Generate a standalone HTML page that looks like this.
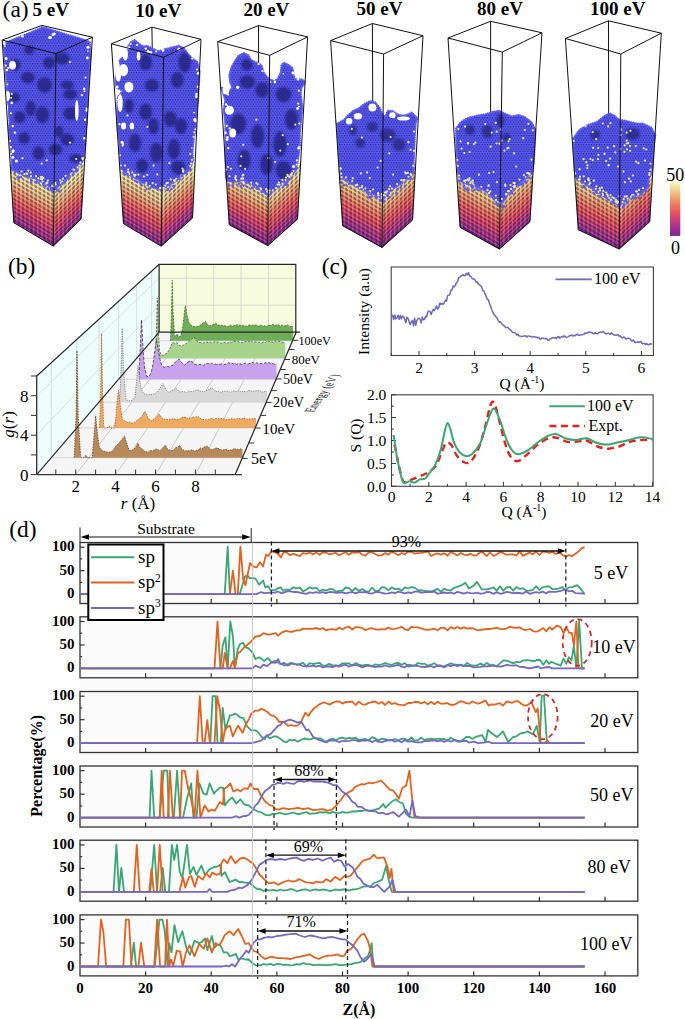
<!DOCTYPE html>
<html><head><meta charset="utf-8"><style>
html,body{margin:0;padding:0;background:#fff;overflow:hidden;width:685px;height:1019px;}
svg{display:block;}
text{font-family:"Liberation Serif",serif;fill:#000;}
.bl{font-weight:bold;font-size:14px;}
.r{font-size:15px;}
</style></head><body>
<svg width="685" height="1019" viewBox="0 0 685 1019">
<rect x="391.2" y="267.0" width="262.2" height="88.5" fill="none" stroke="#444" stroke-width="1.1"/>
<line x1="419.0" y1="355.5" x2="419.0" y2="351.0" stroke="#333" stroke-width="1"/>
<text x="419.0" y="372.6" class="r" text-anchor="middle" style="font-size:15.5px">2</text>
<line x1="474.6" y1="355.5" x2="474.6" y2="351.0" stroke="#333" stroke-width="1"/>
<text x="474.6" y="372.6" class="r" text-anchor="middle" style="font-size:15.5px">3</text>
<line x1="530.2" y1="355.5" x2="530.2" y2="351.0" stroke="#333" stroke-width="1"/>
<text x="530.2" y="372.6" class="r" text-anchor="middle" style="font-size:15.5px">4</text>
<line x1="585.8" y1="355.5" x2="585.8" y2="351.0" stroke="#333" stroke-width="1"/>
<text x="585.8" y="372.6" class="r" text-anchor="middle" style="font-size:15.5px">5</text>
<line x1="641.4" y1="355.5" x2="641.4" y2="351.0" stroke="#333" stroke-width="1"/>
<text x="641.4" y="372.6" class="r" text-anchor="middle" style="font-size:15.5px">6</text>
<line x1="391.2" y1="355.5" x2="391.2" y2="353.0" stroke="#333" stroke-width="1"/>
<line x1="446.8" y1="355.5" x2="446.8" y2="353.0" stroke="#333" stroke-width="1"/>
<line x1="502.4" y1="355.5" x2="502.4" y2="353.0" stroke="#333" stroke-width="1"/>
<line x1="558.0" y1="355.5" x2="558.0" y2="353.0" stroke="#333" stroke-width="1"/>
<line x1="613.6" y1="355.5" x2="613.6" y2="353.0" stroke="#333" stroke-width="1"/>
<polyline points="391.5,316.5 392.6,315.2 393.7,319.6 394.8,314.9 395.9,318.9 397.0,317.7 398.1,315.3 399.2,319.2 400.3,315.4 401.4,318.9 402.5,316.0 403.6,316.4 404.7,319.4 405.8,322.9 406.9,317.2 408.0,318.2 409.1,321.8 410.2,324.7 411.3,321.8 412.4,320.6 413.5,325.7 414.6,318.2 415.7,325.2 416.8,320.7 417.9,318.9 419.0,318.2 420.1,319.2 421.2,322.9 422.3,317.0 423.4,319.7 424.5,319.3 425.6,316.2 426.7,316.9 427.8,312.0 428.9,311.1 430.0,311.5 431.1,314.6 432.2,311.4 433.3,309.4 434.4,310.6 435.5,308.4 436.6,306.0 437.7,309.2 438.8,307.5 439.9,302.9 441.0,304.5 442.1,303.5 443.2,304.2 444.3,302.7 445.4,300.0 446.5,301.2 447.6,295.6 448.7,295.1 449.8,294.8 450.9,290.3 452.0,290.0 453.1,286.1 454.2,286.9 455.3,285.4 456.4,282.7 457.5,282.1 458.6,277.7 459.7,277.4 460.8,276.3 461.9,275.7 463.0,274.6 464.1,275.7 465.2,275.6 466.3,273.4 467.4,274.8 468.5,272.6 469.6,276.0 470.7,276.3 471.8,278.2 472.9,279.0 474.0,278.9 475.1,280.2 476.2,282.0 477.3,281.8 478.4,284.1 479.5,284.7 480.6,285.9 481.7,287.0 482.8,290.4 483.9,291.2 485.0,293.6 486.1,296.1 487.2,299.3 488.3,299.8 489.4,303.1 490.5,305.9 491.6,309.2 492.7,311.7 493.8,314.4 494.9,315.2 496.0,316.9 497.1,318.1 498.2,320.6 499.3,322.2 500.4,321.8 501.5,323.2 502.6,324.7 503.7,325.4 504.8,326.6 505.9,327.5 507.0,327.5 508.1,327.6 509.2,329.2 510.3,329.7 511.4,330.8 512.5,332.4 513.6,332.4 514.7,332.7 515.8,333.5 516.9,335.2 518.0,334.1 519.1,336.1 520.2,336.1 521.3,336.5 522.4,336.6 523.5,335.9 524.6,336.1 525.7,335.7 526.8,337.1 527.9,336.0 529.0,336.1 530.1,336.6 531.2,336.6 532.3,337.1 533.4,336.6 534.5,336.7 535.6,337.1 536.7,337.2 537.8,337.9 538.9,337.3 540.0,339.2 541.1,338.8 542.2,337.9 543.3,338.2 544.4,338.5 545.5,338.7 546.6,338.3 547.7,340.0 548.8,340.3 549.9,339.0 551.0,338.8 552.1,337.8 553.2,337.6 554.3,338.0 555.4,337.6 556.5,338.6 557.6,337.0 558.7,336.5 559.8,338.3 560.9,337.3 562.0,336.3 563.1,337.0 564.2,335.7 565.3,336.7 566.4,337.5 567.5,337.1 568.6,336.6 569.7,335.5 570.8,335.6 571.9,335.0 573.0,336.1 574.1,335.4 575.2,335.7 576.3,334.6 577.4,334.1 578.5,335.2 579.6,335.4 580.7,334.9 581.8,334.7 582.9,334.6 584.0,334.3 585.1,333.0 586.2,333.5 587.3,333.0 588.4,332.2 589.5,332.0 590.6,332.5 591.7,332.3 592.8,333.2 593.9,333.7 595.0,332.6 596.1,333.6 597.2,333.7 598.3,333.6 599.4,332.3 600.5,331.9 601.6,331.9 602.7,331.8 603.8,332.0 604.9,333.1 606.0,333.8 607.1,333.8 608.2,333.2 609.3,333.7 610.4,334.2 611.5,332.7 612.6,334.1 613.7,334.9 614.8,335.0 615.9,335.3 617.0,335.0 618.1,334.7 619.2,336.4 620.3,335.8 621.4,337.2 622.5,337.9 623.6,337.0 624.7,337.4 625.8,339.0 626.9,338.9 628.0,338.1 629.1,338.4 630.2,338.9 631.3,340.9 632.4,341.1 633.5,340.1 634.6,342.0 635.7,342.6 636.8,342.1 637.9,341.7 639.0,342.3 640.1,341.6 641.2,341.6 642.3,343.9 643.4,343.4 644.5,343.4 645.6,344.5 646.7,343.6 647.8,344.8 648.9,344.8 650.0,343.7 651.1,343.9 652.2,344.2" fill="none" stroke="#6e68bf" stroke-width="1.5" stroke-linejoin="round"/>
<line x1="555.4" y1="279.3" x2="591.8" y2="279.3" stroke="#6e68bf" stroke-width="1.8"/>
<text x="594" y="283.8" class="r" style="font-size:16px">100 eV</text>
<text x="522" y="388.5" class="r" text-anchor="middle" style="font-size:15.5px">Q (Å<tspan dy="-6" style="font-size:10px">-1</tspan><tspan dy="6">)</tspan></text>
<text transform="translate(369.3,311.5) rotate(-90)" class="r" text-anchor="middle" style="font-size:15.5px">Intensity (a.u)</text>
<text x="321.7" y="273.6" class="r" style="font-size:23.4px">(c)</text>
<rect x="391.5" y="394.8" width="261.6" height="91.5" fill="none" stroke="#444" stroke-width="1.1"/>
<line x1="391.5" y1="486.3" x2="391.5" y2="481.8" stroke="#333" stroke-width="1"/>
<text x="391.5" y="502.4" class="r" text-anchor="middle" style="font-size:15.5px">0</text>
<line x1="428.8" y1="486.3" x2="428.8" y2="481.8" stroke="#333" stroke-width="1"/>
<text x="428.8" y="502.4" class="r" text-anchor="middle" style="font-size:15.5px">2</text>
<line x1="466.1" y1="486.3" x2="466.1" y2="481.8" stroke="#333" stroke-width="1"/>
<text x="466.1" y="502.4" class="r" text-anchor="middle" style="font-size:15.5px">4</text>
<line x1="503.4" y1="486.3" x2="503.4" y2="481.8" stroke="#333" stroke-width="1"/>
<text x="503.4" y="502.4" class="r" text-anchor="middle" style="font-size:15.5px">6</text>
<line x1="540.7" y1="486.3" x2="540.7" y2="481.8" stroke="#333" stroke-width="1"/>
<text x="540.7" y="502.4" class="r" text-anchor="middle" style="font-size:15.5px">8</text>
<line x1="578.0" y1="486.3" x2="578.0" y2="481.8" stroke="#333" stroke-width="1"/>
<text x="578.0" y="502.4" class="r" text-anchor="middle" style="font-size:15.5px">10</text>
<line x1="615.3" y1="486.3" x2="615.3" y2="481.8" stroke="#333" stroke-width="1"/>
<text x="615.3" y="502.4" class="r" text-anchor="middle" style="font-size:15.5px">12</text>
<line x1="652.6" y1="486.3" x2="652.6" y2="481.8" stroke="#333" stroke-width="1"/>
<text x="652.6" y="502.4" class="r" text-anchor="middle" style="font-size:15.5px">14</text>
<line x1="410.1" y1="486.3" x2="410.1" y2="483.8" stroke="#333" stroke-width="1"/>
<line x1="447.4" y1="486.3" x2="447.4" y2="483.8" stroke="#333" stroke-width="1"/>
<line x1="484.8" y1="486.3" x2="484.8" y2="483.8" stroke="#333" stroke-width="1"/>
<line x1="522.0" y1="486.3" x2="522.0" y2="483.8" stroke="#333" stroke-width="1"/>
<line x1="559.4" y1="486.3" x2="559.4" y2="483.8" stroke="#333" stroke-width="1"/>
<line x1="596.6" y1="486.3" x2="596.6" y2="483.8" stroke="#333" stroke-width="1"/>
<line x1="634.0" y1="486.3" x2="634.0" y2="483.8" stroke="#333" stroke-width="1"/>
<line x1="391.5" y1="486.3" x2="396.0" y2="486.3" stroke="#333" stroke-width="1"/>
<text x="386.3" y="491.5" class="r" text-anchor="end" style="font-size:15.5px">0.0</text>
<line x1="391.5" y1="463.4" x2="396.0" y2="463.4" stroke="#333" stroke-width="1"/>
<text x="386.3" y="468.6" class="r" text-anchor="end" style="font-size:15.5px">0.5</text>
<line x1="391.5" y1="440.5" x2="396.0" y2="440.5" stroke="#333" stroke-width="1"/>
<text x="386.3" y="445.7" class="r" text-anchor="end" style="font-size:15.5px">1.0</text>
<line x1="391.5" y1="417.6" x2="396.0" y2="417.6" stroke="#333" stroke-width="1"/>
<text x="386.3" y="422.8" class="r" text-anchor="end" style="font-size:15.5px">1.5</text>
<line x1="391.5" y1="394.7" x2="396.0" y2="394.7" stroke="#333" stroke-width="1"/>
<text x="386.3" y="399.9" class="r" text-anchor="end" style="font-size:15.5px">2.0</text>
<line x1="391.5" y1="474.9" x2="394.0" y2="474.9" stroke="#333" stroke-width="1"/>
<line x1="391.5" y1="452.0" x2="394.0" y2="452.0" stroke="#333" stroke-width="1"/>
<line x1="391.5" y1="429.1" x2="394.0" y2="429.1" stroke="#333" stroke-width="1"/>
<line x1="391.5" y1="406.2" x2="394.0" y2="406.2" stroke="#333" stroke-width="1"/>
<path d="M394.5,444.2 C395.2,447.7 397.4,459.1 398.8,465.2 C400.2,471.3 401.5,478.1 402.9,480.8 C404.2,483.6 405.3,481.9 406.8,481.7 C408.3,481.5 409.8,480.3 412.0,479.4 C414.2,478.5 417.2,477.4 419.8,476.2 C422.5,475.1 425.0,474.2 427.7,472.6 C430.3,470.9 433.3,469.7 435.7,466.1 C438.1,462.6 440.5,454.9 442.2,451.0 C444.0,447.1 444.6,443.8 446.1,442.8 C447.7,441.8 449.6,442.9 451.4,445.1 C453.1,447.2 454.6,452.7 456.8,455.6 C459.0,458.5 462.2,461.6 464.6,462.5 C467.0,463.4 468.7,463.7 471.1,461.1 C473.6,458.5 476.7,453.0 479.2,446.9 C481.6,440.8 483.7,431.6 485.7,424.5 C487.6,417.3 489.4,407.2 490.9,403.9 C492.4,400.5 493.3,400.9 494.8,404.3 C496.4,407.8 498.5,417.8 500.2,424.5 C502.0,431.2 503.7,439.2 505.5,444.6 C507.2,450.0 508.8,454.2 510.9,457.0 C512.9,459.7 515.0,461.6 517.8,461.1 C520.5,460.7 523.9,457.0 527.3,454.2 C530.6,451.5 534.3,447.3 537.9,444.6 C541.5,442.0 545.5,439.4 548.7,438.2 C551.9,437.1 553.8,437.1 556.9,437.8 C560.1,438.4 564.1,441.3 567.7,441.9 C571.3,442.5 575.4,441.6 578.6,441.4 C581.7,441.2 583.4,439.7 586.6,440.5 C589.7,441.3 593.8,445.1 597.4,446.5 C601.0,447.8 604.6,448.7 608.2,448.7 C611.8,448.7 615.4,447.6 619.0,446.5 C622.6,445.3 626.2,442.9 629.8,441.9 C633.5,440.8 636.9,440.3 640.7,440.0 C644.5,439.7 650.6,440.0 652.6,440.0" fill="none" stroke="#e42222" stroke-width="2.4" stroke-dasharray="7,4.5"/>
<path d="M393.6,435.0 C394.2,439.1 396.1,452.6 397.5,459.7 C398.8,466.9 400.5,474.2 401.6,478.1 C402.7,481.9 402.9,482.6 404.2,483.1 C405.5,483.6 407.7,481.3 409.4,481.3 C411.1,481.2 412.9,482.9 414.6,482.6 C416.4,482.3 418.1,480.1 419.8,479.4 C421.6,478.7 423.3,479.8 425.1,478.5 C426.8,477.2 428.7,474.1 430.5,471.6 C432.3,469.2 434.0,467.6 435.7,463.9 C437.4,460.1 439.4,454.7 440.9,449.2 C442.4,443.7 443.8,435.2 444.8,430.9 C445.9,426.5 446.5,423.5 447.4,423.1 C448.4,422.7 449.1,425.3 450.2,428.6 C451.4,431.9 452.6,438.9 454.2,442.8 C455.7,446.7 457.4,449.7 459.4,452.0 C461.3,454.2 463.7,455.8 465.9,456.1 C468.1,456.4 470.0,456.0 472.4,453.8 C474.9,451.6 478.0,447.9 480.5,442.8 C482.9,437.7 484.8,428.8 487.0,423.1 C489.2,417.4 491.3,408.8 493.5,408.4 C495.7,408.1 498.2,416.1 500.2,420.8 C502.2,425.5 503.7,432.2 505.5,436.8 C507.2,441.5 508.8,445.8 510.9,448.7 C512.9,451.6 515.0,453.9 517.8,454.2 C520.5,454.5 523.9,452.6 527.3,450.6 C530.6,448.6 534.8,444.6 537.9,442.3 C541.0,440.0 543.2,438.2 546.1,436.8 C549.1,435.5 552.5,433.9 555.6,434.1 C558.8,434.3 561.6,437.2 564.9,438.2 C568.3,439.2 572.2,440.0 575.8,440.0 C579.4,440.0 583.2,437.8 586.6,438.2 C590.0,438.7 592.9,441.7 596.1,442.8 C599.3,443.9 602.2,444.6 605.6,444.6 C609.0,444.6 612.8,443.5 616.4,442.8 C620.0,442.1 623.2,441.4 627.2,440.5 C631.3,439.6 636.4,437.5 640.7,437.3 C644.9,437.1 650.6,438.8 652.6,439.1" fill="none" stroke="#3aa673" stroke-width="2"/>
<line x1="549.4" y1="406.2" x2="585" y2="406.2" stroke="#3aa673" stroke-width="2"/>
<text x="587" y="411.3" class="r" style="font-size:16px">100 eV</text>
<line x1="549.4" y1="426" x2="585" y2="426" stroke="#e42222" stroke-width="2.4" stroke-dasharray="7,4.5"/>
<text x="588.5" y="431.3" class="r" style="font-size:16px">Expt.</text>
<text x="524" y="516.5" class="r" text-anchor="middle" style="font-size:15.5px">Q (Å<tspan dy="-6" style="font-size:10px">-1</tspan><tspan dy="6">)</tspan></text>
<text transform="translate(360.5,435.5) rotate(-90)" class="r" text-anchor="middle" style="font-size:15.5px">S (Q)</text>
<rect x="80.0" y="542.5" width="172.6" height="433.4" fill="#fbfbfb"/>
<rect x="80.0" y="542.5" width="557.8" height="61.0" fill="none" stroke="#333" stroke-width="1.3"/>
<line x1="145.6" y1="603.5" x2="145.6" y2="599.0" stroke="#333" stroke-width="1.2"/>
<line x1="211.2" y1="603.5" x2="211.2" y2="599.0" stroke="#333" stroke-width="1.2"/>
<line x1="276.9" y1="603.5" x2="276.9" y2="599.0" stroke="#333" stroke-width="1.2"/>
<line x1="342.5" y1="603.5" x2="342.5" y2="599.0" stroke="#333" stroke-width="1.2"/>
<line x1="408.1" y1="603.5" x2="408.1" y2="599.0" stroke="#333" stroke-width="1.2"/>
<line x1="473.7" y1="603.5" x2="473.7" y2="599.0" stroke="#333" stroke-width="1.2"/>
<line x1="539.4" y1="603.5" x2="539.4" y2="599.0" stroke="#333" stroke-width="1.2"/>
<line x1="605.0" y1="603.5" x2="605.0" y2="599.0" stroke="#333" stroke-width="1.2"/>
<line x1="80.0" y1="594.1" x2="84.5" y2="594.1" stroke="#333" stroke-width="1.2"/>
<line x1="80.0" y1="582.4" x2="82.2" y2="582.4" stroke="#333" stroke-width="1.2"/>
<line x1="80.0" y1="570.7" x2="84.5" y2="570.7" stroke="#333" stroke-width="1.2"/>
<line x1="80.0" y1="558.9" x2="82.2" y2="558.9" stroke="#333" stroke-width="1.2"/>
<line x1="80.0" y1="547.2" x2="84.5" y2="547.2" stroke="#333" stroke-width="1.2"/>
<text x="74.6" y="551.2" class="bl" text-anchor="end" style="font-size:15px">100</text>
<text x="74.6" y="574.7" class="bl" text-anchor="end" style="font-size:15px">50</text>
<text x="74.6" y="598.1" class="bl" text-anchor="end" style="font-size:15px">0</text>
<polyline points="80.0,594.1 224.7,594.1 227.7,546.7 229.9,594.1 239.8,594.1 245.0,576.3 247.3,575.3 249.6,578.2 252.6,578.0 255.5,578.6 259.2,584.7 263.1,580.5 265.4,587.5 268.3,586.1 270.6,590.4 275.6,589.9 278.2,588.0 280.8,587.5 283.1,590.8 286.6,589.5 290.0,589.9 293.3,587.3 296.6,588.3 299.8,587.4 303.1,591.6 306.4,589.6 309.7,587.3 313.0,588.7 316.2,587.5 319.5,591.2 322.8,589.6 326.1,590.6 329.4,589.2 332.7,589.1 335.9,591.7 339.2,590.8 342.5,590.5 345.8,587.5 349.1,588.2 352.3,591.0 355.6,588.0 358.9,591.1 362.2,588.9 365.5,591.2 368.7,591.8 372.0,587.7 375.3,590.8 378.6,590.8 381.9,587.2 385.1,587.7 388.4,590.4 391.7,587.3 395.0,589.2 398.3,588.6 401.6,590.8 404.8,587.4 408.1,588.5 411.4,587.2 414.7,587.6 418.0,590.4 421.2,590.1 424.5,591.0 427.8,591.1 431.1,591.5 434.4,590.4 437.6,588.9 440.9,591.8 444.2,588.6 447.5,590.2 450.8,590.3 454.1,587.9 457.3,586.9 460.6,585.7 465.5,582.9 468.8,588.5 473.7,585.7 477.0,581.9 481.9,589.4 486.9,589.3 490.1,588.6 493.4,587.5 496.7,590.6 500.0,586.3 503.3,590.7 506.6,587.3 509.8,586.9 513.1,590.7 516.4,587.1 519.7,589.1 523.0,588.1 526.2,590.8 529.5,590.6 532.8,590.0 536.1,586.3 539.4,589.9 542.6,587.3 545.9,586.5 549.2,586.4 552.5,589.2 555.8,589.2 559.1,588.4 562.3,587.2 565.6,590.3 568.9,587.3 572.2,587.1 577.1,585.2 580.4,588.5 584.6,594.1" fill="none" stroke="#3aa673" stroke-width="1.8" stroke-linejoin="round"/>
<polyline points="80.0,594.1 229.9,594.1 232.9,570.7 235.5,594.1 237.8,594.1 240.4,546.7 243.1,578.6 245.4,585.2 250.0,563.1 252.9,566.4 256.5,567.4 260.1,562.2 263.1,566.4 266.0,554.7 268.3,556.1 271.3,551.4 275.6,552.4 278.2,554.1 280.8,557.5 283.8,551.9 286.9,552.6 290.0,555.2 293.3,553.8 296.6,554.9 299.8,556.1 303.1,553.0 306.4,553.9 309.7,552.5 313.0,554.4 316.2,552.5 319.5,554.8 322.8,552.3 326.1,552.7 329.4,554.2 332.7,553.6 335.9,552.9 339.2,555.2 342.5,553.5 345.8,552.3 349.1,554.9 352.3,552.3 355.6,552.9 358.9,552.1 362.2,554.5 365.5,555.7 368.7,552.4 372.0,552.3 375.3,554.0 378.6,555.7 381.9,555.2 385.1,553.1 388.4,554.7 391.7,551.6 395.0,553.3 398.3,555.2 401.6,553.0 404.8,554.4 408.1,551.7 411.4,551.8 414.7,553.7 418.0,553.1 421.2,552.8 424.5,552.3 427.8,551.5 431.1,556.0 434.4,554.4 437.6,553.3 440.9,554.7 444.2,553.3 447.5,555.7 450.8,552.0 454.1,553.6 457.3,555.6 460.6,553.0 463.9,554.6 467.2,555.2 470.5,553.8 473.7,555.5 477.0,555.1 480.3,552.0 483.6,552.8 486.9,556.0 490.1,552.5 493.4,556.0 496.7,554.5 500.0,551.9 503.3,553.2 506.6,554.7 509.8,554.3 513.1,554.3 516.4,555.5 519.7,551.4 523.0,555.9 526.2,554.1 529.5,552.6 532.8,554.2 536.1,551.5 539.4,555.0 542.6,551.5 545.9,551.9 549.2,553.0 552.5,551.9 555.8,554.0 559.1,552.2 562.3,554.7 565.6,556.6 568.9,555.2 572.2,556.1 575.5,553.8 578.7,551.4 581.7,548.4 584.6,547.2" fill="none" stroke="#e4611e" stroke-width="1.8" stroke-linejoin="round"/>
<polyline points="80.0,594.1 256.5,594.1 260.5,592.2 264.4,593.2 270.3,592.7 274.9,592.7 277.9,591.5 281.8,593.4 286.7,591.5 290.0,591.1 293.3,592.0 296.6,592.0 299.8,592.7 303.1,593.3 306.4,593.9 309.7,592.3 313.0,592.8 316.2,592.1 319.5,593.0 322.8,592.1 326.1,593.2 329.4,592.0 332.7,592.2 335.9,592.9 339.2,592.6 342.5,592.3 345.8,593.4 349.1,592.6 352.3,592.0 355.6,593.3 358.9,592.0 362.2,592.3 365.5,591.9 368.7,593.1 372.0,593.7 375.3,592.0 378.6,592.0 381.9,592.8 385.1,593.7 388.4,593.4 391.7,592.4 395.0,593.2 398.3,591.6 401.6,592.5 404.8,593.4 408.1,592.3 411.4,593.0 414.7,591.7 418.0,591.7 421.2,592.7 424.5,592.4 427.8,592.2 431.1,592.0 434.4,591.6 437.6,593.8 440.9,593.0 444.2,592.5 447.5,593.2 450.8,592.5 454.1,593.7 457.3,591.8 460.6,592.6 463.9,593.6 467.2,592.3 470.5,593.1 473.7,593.4 477.0,592.7 480.3,593.6 483.6,593.4 486.9,591.9 490.1,592.2 493.4,593.9 496.7,592.1 500.0,593.8 503.3,593.1 506.6,591.8 509.8,592.4 513.1,593.2 516.4,593.0 519.7,593.0 523.0,593.6 526.2,591.5 529.5,593.8 532.8,592.9 536.1,592.1 539.4,592.9 542.6,591.6 545.9,593.3 549.2,591.6 552.5,591.8 555.8,591.8 560.7,590.8 565.6,589.4 568.9,591.3 572.2,590.8 575.5,593.2 584.6,593.6" fill="none" stroke="#7468c4" stroke-width="1.8" stroke-linejoin="round"/>
<rect x="80.0" y="616.8" width="557.8" height="61.0" fill="none" stroke="#333" stroke-width="1.3"/>
<line x1="145.6" y1="677.8" x2="145.6" y2="673.3" stroke="#333" stroke-width="1.2"/>
<line x1="211.2" y1="677.8" x2="211.2" y2="673.3" stroke="#333" stroke-width="1.2"/>
<line x1="276.9" y1="677.8" x2="276.9" y2="673.3" stroke="#333" stroke-width="1.2"/>
<line x1="342.5" y1="677.8" x2="342.5" y2="673.3" stroke="#333" stroke-width="1.2"/>
<line x1="408.1" y1="677.8" x2="408.1" y2="673.3" stroke="#333" stroke-width="1.2"/>
<line x1="473.7" y1="677.8" x2="473.7" y2="673.3" stroke="#333" stroke-width="1.2"/>
<line x1="539.4" y1="677.8" x2="539.4" y2="673.3" stroke="#333" stroke-width="1.2"/>
<line x1="605.0" y1="677.8" x2="605.0" y2="673.3" stroke="#333" stroke-width="1.2"/>
<line x1="80.0" y1="668.4" x2="84.5" y2="668.4" stroke="#333" stroke-width="1.2"/>
<line x1="80.0" y1="656.7" x2="82.2" y2="656.7" stroke="#333" stroke-width="1.2"/>
<line x1="80.0" y1="645.0" x2="84.5" y2="645.0" stroke="#333" stroke-width="1.2"/>
<line x1="80.0" y1="633.2" x2="82.2" y2="633.2" stroke="#333" stroke-width="1.2"/>
<line x1="80.0" y1="621.5" x2="84.5" y2="621.5" stroke="#333" stroke-width="1.2"/>
<text x="74.6" y="625.5" class="bl" text-anchor="end" style="font-size:15px">100</text>
<text x="74.6" y="649.0" class="bl" text-anchor="end" style="font-size:15px">50</text>
<text x="74.6" y="672.4" class="bl" text-anchor="end" style="font-size:15px">0</text>
<polyline points="80.0,668.4 220.4,668.4 222.7,645.4 225.4,637.4 227.7,668.4 230.3,621.5 232.9,636.0 234.9,667.9 237.8,649.2 240.1,644.0 243.1,642.6 245.4,647.3 248.3,648.2 251.9,652.0 255.5,659.0 259.2,657.2 264.1,660.9 268.0,658.1 271.6,662.3 274.6,660.9 277.5,662.3 281.8,664.2 284.7,665.7 287.7,664.2 290.5,663.0 293.3,663.3 296.6,664.8 299.8,664.2 303.1,662.8 306.4,666.5 309.7,663.2 313.0,664.0 316.2,663.3 319.5,662.8 322.8,665.6 326.1,665.3 329.4,663.9 332.7,665.5 335.9,665.6 339.2,665.7 342.5,663.3 345.8,663.3 349.1,663.5 352.3,665.7 355.6,663.1 358.9,664.6 362.2,665.7 365.5,664.8 368.7,665.0 372.0,666.2 375.3,664.4 378.6,665.2 381.9,664.4 385.1,663.0 388.4,664.1 391.7,665.0 395.0,663.3 398.3,662.8 401.6,664.7 404.8,663.0 408.1,666.5 411.4,666.0 414.7,665.9 418.0,663.0 421.2,663.9 424.5,663.8 427.8,665.5 431.1,664.7 434.4,663.2 437.6,666.2 440.9,666.1 444.2,666.4 447.5,664.8 450.8,663.4 454.1,664.5 457.3,665.0 460.6,664.7 463.9,665.9 467.2,663.0 470.5,665.2 473.7,665.7 477.0,665.4 480.3,663.4 483.6,665.3 486.9,663.1 490.1,665.3 493.4,664.9 496.7,666.3 500.0,663.3 503.3,660.3 506.6,660.7 509.8,661.9 513.1,663.3 516.4,661.9 519.7,662.3 523.0,660.6 526.2,660.2 530.2,660.4 534.1,661.4 537.1,659.9 540.0,660.0 543.3,664.7 546.3,660.4 548.9,663.7 551.5,661.8 555.4,663.7 560.7,665.6 563.6,658.6 566.3,663.7 568.9,657.2 571.5,660.4 573.8,645.9 576.4,668.4 579.1,621.0 582.0,668.4 584.6,668.4" fill="none" stroke="#3aa673" stroke-width="1.8" stroke-linejoin="round"/>
<polyline points="80.0,668.4 214.5,668.4 217.5,621.5 220.4,668.4 222.7,668.4 224.7,652.9 227.7,668.4 229.9,668.4 232.9,660.9 234.9,667.9 237.8,652.9 240.1,652.0 242.4,649.2 245.4,646.4 248.3,644.0 250.9,641.7 255.5,636.5 259.8,636.0 263.4,633.2 268.0,634.6 271.6,634.2 275.9,633.2 278.2,635.6 281.8,632.3 286.1,630.9 290.7,631.8 293.4,631.5 296.2,630.4 299.8,630.4 303.1,628.6 306.4,628.8 309.7,628.7 313.0,628.9 316.2,627.9 319.5,629.4 322.8,628.0 326.1,630.4 329.4,629.3 332.7,629.1 335.9,629.9 339.2,627.6 342.5,629.2 345.8,627.4 349.1,626.8 352.3,629.5 355.6,627.1 358.9,627.4 362.2,627.9 365.5,630.3 368.7,628.7 372.0,628.1 375.3,629.3 378.6,629.6 381.9,629.2 385.1,629.4 388.4,627.5 391.7,629.1 395.0,628.8 398.3,628.0 401.6,626.8 404.8,629.3 408.1,630.2 411.4,626.8 414.7,627.3 418.0,627.4 421.2,628.4 424.5,629.5 427.8,629.8 431.1,629.3 434.4,628.7 437.6,630.2 440.9,627.8 444.2,627.7 447.5,630.4 450.8,627.2 454.1,628.6 457.3,627.0 460.6,628.6 463.9,627.4 467.2,628.7 470.5,628.1 473.7,628.5 477.0,630.3 480.3,629.9 483.6,629.5 486.9,628.9 490.1,629.0 493.4,628.4 496.7,627.9 500.0,628.9 503.3,629.2 506.6,628.5 509.8,626.8 513.1,627.5 516.4,627.9 519.7,627.3 523.0,629.6 526.2,630.0 530.2,629.0 532.8,631.0 535.4,631.7 538.1,631.3 543.3,628.1 546.3,631.3 549.5,627.1 552.2,629.5 556.8,625.7 560.7,627.1 563.6,633.2 566.3,627.1 569.2,632.8 571.8,632.8 573.8,645.4 576.4,621.5 578.4,667.0 579.4,668.4 584.6,668.4" fill="none" stroke="#e4611e" stroke-width="1.8" stroke-linejoin="round"/>
<polyline points="80.0,668.4 252.6,668.4 255.5,665.6 260.5,667.9 263.4,664.7 267.0,666.1 271.6,662.3 275.9,662.8 278.2,659.0 280.2,664.2 283.8,662.8 287.7,665.6 292.0,663.3 294.6,664.1 297.2,664.3 299.8,664.7 303.1,666.3 306.4,666.2 309.7,666.3 313.0,665.6 316.2,666.7 319.5,665.7 322.8,667.4 326.1,666.6 329.4,666.5 332.7,667.1 335.9,665.4 339.2,666.6 342.5,665.3 345.8,664.8 349.1,666.8 352.3,665.0 355.6,665.2 358.9,665.6 362.2,667.4 365.5,666.2 368.7,665.7 372.0,666.6 375.3,666.8 378.6,666.6 381.9,666.7 385.1,665.3 388.4,666.5 391.7,666.3 395.0,665.7 398.3,664.8 401.6,666.7 404.8,667.4 408.1,664.7 411.4,665.1 414.7,665.3 418.0,666.0 421.2,666.8 424.5,667.0 427.8,666.6 431.1,666.2 434.4,667.3 437.6,665.5 440.9,665.4 444.2,667.4 447.5,665.1 450.8,666.1 454.1,664.9 457.3,666.1 460.6,665.2 463.9,666.2 467.2,665.8 470.5,666.1 473.7,667.4 477.0,667.1 480.3,666.8 483.6,666.3 486.9,666.4 490.1,666.0 493.4,665.6 496.7,666.4 500.0,666.6 503.3,666.0 506.6,664.8 509.8,665.3 513.1,665.6 516.4,665.2 519.7,666.8 523.0,667.0 530.2,668.4 538.1,666.5 541.0,668.4 544.3,667.5 549.5,667.0 552.2,668.4 584.6,668.4" fill="none" stroke="#7468c4" stroke-width="1.8" stroke-linejoin="round"/>
<rect x="80.0" y="691.5" width="557.8" height="61.0" fill="none" stroke="#333" stroke-width="1.3"/>
<line x1="145.6" y1="752.5" x2="145.6" y2="748.0" stroke="#333" stroke-width="1.2"/>
<line x1="211.2" y1="752.5" x2="211.2" y2="748.0" stroke="#333" stroke-width="1.2"/>
<line x1="276.9" y1="752.5" x2="276.9" y2="748.0" stroke="#333" stroke-width="1.2"/>
<line x1="342.5" y1="752.5" x2="342.5" y2="748.0" stroke="#333" stroke-width="1.2"/>
<line x1="408.1" y1="752.5" x2="408.1" y2="748.0" stroke="#333" stroke-width="1.2"/>
<line x1="473.7" y1="752.5" x2="473.7" y2="748.0" stroke="#333" stroke-width="1.2"/>
<line x1="539.4" y1="752.5" x2="539.4" y2="748.0" stroke="#333" stroke-width="1.2"/>
<line x1="605.0" y1="752.5" x2="605.0" y2="748.0" stroke="#333" stroke-width="1.2"/>
<line x1="80.0" y1="743.1" x2="84.5" y2="743.1" stroke="#333" stroke-width="1.2"/>
<line x1="80.0" y1="731.4" x2="82.2" y2="731.4" stroke="#333" stroke-width="1.2"/>
<line x1="80.0" y1="719.7" x2="84.5" y2="719.7" stroke="#333" stroke-width="1.2"/>
<line x1="80.0" y1="707.9" x2="82.2" y2="707.9" stroke="#333" stroke-width="1.2"/>
<line x1="80.0" y1="696.2" x2="84.5" y2="696.2" stroke="#333" stroke-width="1.2"/>
<text x="74.6" y="700.2" class="bl" text-anchor="end" style="font-size:15px">100</text>
<text x="74.6" y="723.7" class="bl" text-anchor="end" style="font-size:15px">50</text>
<text x="74.6" y="747.1" class="bl" text-anchor="end" style="font-size:15px">0</text>
<polyline points="80.0,743.1 210.3,743.1 212.6,696.2 215.5,696.2 217.5,743.1 220.8,743.1 222.7,707.9 225.4,729.5 229.9,715.4 232.7,714.9 235.5,713.6 240.1,717.3 243.4,718.2 247.3,726.7 251.3,730.4 255.2,730.4 257.8,731.7 260.5,735.6 264.7,739.4 266.7,735.1 269.7,738.4 273.9,736.5 276.9,736.5 279.8,738.4 284.1,741.7 286.8,742.1 289.6,739.7 292.3,740.3 295.0,739.9 297.8,741.7 300.5,740.3 304.4,738.5 308.4,739.4 311.5,739.2 314.6,737.5 317.7,738.5 320.8,738.4 324.8,741.7 327.4,740.8 330.0,739.4 332.7,738.6 335.9,740.3 339.2,738.2 342.5,737.6 345.8,738.8 349.1,737.8 352.3,738.4 355.6,737.7 358.9,740.1 362.2,739.4 365.5,739.0 368.7,740.4 372.0,737.1 375.3,738.4 378.6,740.4 381.9,738.6 385.1,739.2 388.4,740.1 391.7,740.2 395.0,739.0 398.3,740.5 401.6,738.7 404.8,738.8 408.1,740.3 411.4,737.5 414.7,740.6 418.0,740.1 421.2,737.7 424.5,739.9 427.8,739.2 431.1,738.7 434.4,739.1 437.6,738.9 440.9,738.9 444.2,739.0 447.5,740.6 450.8,737.7 454.1,739.7 457.3,740.6 460.0,741.7 463.1,739.6 466.2,737.0 469.3,737.0 472.4,738.9 475.4,737.1 478.3,736.1 482.3,735.1 485.6,742.2 487.9,730.0 490.5,732.2 493.1,734.2 497.0,737.0 500.0,734.3 502.9,731.4 508.2,742.2 513.1,737.0 516.2,736.4 519.3,734.2 522.1,732.9 524.8,732.8 527.6,731.4 532.8,734.2 536.7,725.8 539.7,742.2 541.7,695.7 544.0,695.7 546.9,743.1 584.6,743.1" fill="none" stroke="#3aa673" stroke-width="1.8" stroke-linejoin="round"/>
<polyline points="80.0,743.1 197.1,743.1 199.8,696.2 202.7,743.1 204.7,743.1 207.3,720.1 209.9,743.1 214.5,743.1 217.2,696.2 220.1,710.7 222.7,743.1 224.7,730.4 227.7,726.7 229.9,725.8 232.9,736.5 235.5,730.4 238.2,725.8 242.7,732.8 246.0,723.9 248.7,719.6 251.3,713.6 255.2,710.7 258.3,710.7 261.4,708.9 264.6,710.2 267.7,712.1 270.8,715.4 273.9,715.9 276.5,718.1 279.2,722.0 284.1,722.0 288.0,725.8 291.1,725.0 294.3,725.8 297.4,725.7 300.5,722.9 305.4,712.6 308.4,715.9 311.0,711.8 313.6,708.9 318.9,704.6 323.8,702.3 326.9,703.5 330.0,704.6 332.7,702.7 335.9,701.5 339.2,701.4 342.5,703.6 345.8,701.9 349.1,702.2 352.3,701.5 355.6,705.0 358.9,701.6 362.2,704.3 365.5,704.6 368.7,702.9 372.0,702.0 375.3,701.5 378.6,703.7 381.9,702.0 385.1,705.0 388.4,701.5 391.7,704.0 395.0,703.1 398.3,704.6 401.6,704.9 404.8,705.1 408.1,702.9 411.4,703.0 414.7,702.0 418.0,701.9 421.2,703.5 424.5,701.9 427.8,704.4 431.1,701.8 434.4,704.2 437.6,701.6 440.9,703.7 444.2,703.5 447.5,703.2 450.8,704.9 454.1,704.8 457.3,703.1 460.0,701.4 463.1,701.6 466.2,703.2 469.3,703.7 472.4,701.4 475.4,702.8 478.3,703.7 481.9,702.4 485.6,700.4 488.5,705.6 491.6,704.3 494.7,704.6 500.0,703.2 502.9,705.6 506.9,701.4 512.1,702.8 515.1,701.4 518.2,701.1 521.3,703.7 524.4,705.6 527.6,705.1 531.5,702.3 535.8,712.1 537.7,708.4 540.7,742.6 544.3,743.1 547.6,740.8 549.2,743.1 584.6,743.1" fill="none" stroke="#e4611e" stroke-width="1.8" stroke-linejoin="round"/>
<polyline points="80.0,743.1 251.3,743.1 257.5,741.7 261.4,740.3 264.6,737.2 267.7,735.6 270.8,733.9 273.9,730.4 277.9,725.8 280.5,724.8 283.1,722.0 287.0,720.6 290.0,719.7 294.3,721.1 297.2,722.5 301.5,722.0 306.4,730.4 308.4,729.5 311.0,733.2 313.6,737.5 318.9,739.8 323.8,741.7 326.9,742.3 330.0,740.3 332.7,740.6 335.9,740.6 339.2,742.3 342.5,740.8 345.8,741.2 349.1,740.9 352.3,740.2 355.6,740.1 358.9,741.5 362.2,740.4 365.5,740.6 368.7,740.1 372.0,742.3 375.3,740.2 378.6,741.9 381.9,742.1 385.1,741.0 388.4,740.4 391.7,740.2 395.0,741.6 398.3,740.5 401.6,742.3 404.8,740.1 408.1,741.7 411.4,741.1 414.7,742.1 418.0,742.3 421.2,742.4 424.5,741.0 427.8,741.1 431.1,740.5 434.4,740.4 437.6,741.4 440.9,740.4 444.2,741.9 447.5,740.3 450.8,741.8 454.1,740.2 457.3,741.5 460.6,741.4 463.4,741.0 466.2,740.8 468.8,742.6 473.7,741.7 478.3,743.1 483.6,742.6 488.5,741.7 491.8,743.1 584.6,743.1" fill="none" stroke="#7468c4" stroke-width="1.8" stroke-linejoin="round"/>
<rect x="80.0" y="766.0" width="557.8" height="61.0" fill="none" stroke="#333" stroke-width="1.3"/>
<line x1="145.6" y1="827.0" x2="145.6" y2="822.5" stroke="#333" stroke-width="1.2"/>
<line x1="211.2" y1="827.0" x2="211.2" y2="822.5" stroke="#333" stroke-width="1.2"/>
<line x1="276.9" y1="827.0" x2="276.9" y2="822.5" stroke="#333" stroke-width="1.2"/>
<line x1="342.5" y1="827.0" x2="342.5" y2="822.5" stroke="#333" stroke-width="1.2"/>
<line x1="408.1" y1="827.0" x2="408.1" y2="822.5" stroke="#333" stroke-width="1.2"/>
<line x1="473.7" y1="827.0" x2="473.7" y2="822.5" stroke="#333" stroke-width="1.2"/>
<line x1="539.4" y1="827.0" x2="539.4" y2="822.5" stroke="#333" stroke-width="1.2"/>
<line x1="605.0" y1="827.0" x2="605.0" y2="822.5" stroke="#333" stroke-width="1.2"/>
<line x1="80.0" y1="817.6" x2="84.5" y2="817.6" stroke="#333" stroke-width="1.2"/>
<line x1="80.0" y1="805.9" x2="82.2" y2="805.9" stroke="#333" stroke-width="1.2"/>
<line x1="80.0" y1="794.2" x2="84.5" y2="794.2" stroke="#333" stroke-width="1.2"/>
<line x1="80.0" y1="782.4" x2="82.2" y2="782.4" stroke="#333" stroke-width="1.2"/>
<line x1="80.0" y1="770.7" x2="84.5" y2="770.7" stroke="#333" stroke-width="1.2"/>
<text x="74.6" y="774.7" class="bl" text-anchor="end" style="font-size:15px">100</text>
<text x="74.6" y="798.2" class="bl" text-anchor="end" style="font-size:15px">50</text>
<text x="74.6" y="821.6" class="bl" text-anchor="end" style="font-size:15px">0</text>
<polyline points="80.0,817.6 149.6,817.6 151.5,770.7 154.2,817.6 159.7,817.6 163.7,770.7 167.3,770.7 168.9,817.6 173.8,817.6 177.1,770.7 180.1,817.6 183.0,817.6 187.3,797.4 191.2,783.4 193.5,817.6 196.5,817.6 199.4,783.4 203.4,793.7 206.7,794.6 209.6,783.4 213.9,793.7 215.8,791.3 219.8,787.6 223.1,787.6 225.0,805.4 228.0,801.2 232.2,797.4 236.2,803.5 240.4,799.3 244.4,804.5 248.7,805.4 252.6,808.7 255.2,810.0 257.8,811.5 261.4,812.4 265.1,814.8 270.0,815.3 272.6,813.8 275.2,813.9 280.2,812.9 285.1,814.3 290.0,813.4 293.3,812.5 296.6,813.9 299.8,814.0 303.1,812.9 306.4,812.0 309.7,813.9 313.0,813.4 316.2,813.4 319.5,812.2 322.8,812.5 326.1,812.2 329.4,813.4 332.7,811.9 335.9,812.9 339.2,813.1 342.5,812.0 345.8,812.6 349.1,812.5 352.3,811.3 355.6,811.5 358.9,811.0 362.2,811.0 365.5,810.1 368.7,810.6 372.0,810.5 375.3,809.6 378.9,808.7 381.2,806.4 383.2,804.0 385.5,807.8 388.4,804.9 391.7,801.7 396.0,799.3 398.9,801.7 402.9,803.5 406.1,813.9 409.4,816.7 412.4,817.6 584.6,817.6" fill="none" stroke="#3aa673" stroke-width="1.8" stroke-linejoin="round"/>
<polyline points="80.0,817.6 159.7,817.6 161.7,770.7 163.7,817.6 167.9,817.6 169.9,770.7 172.9,817.6 180.1,817.6 182.0,770.7 184.7,770.7 188.3,789.0 191.2,799.3 194.5,817.6 197.5,770.7 200.4,817.6 204.7,805.4 208.6,811.5 211.6,809.6 214.9,810.6 219.8,802.1 223.1,804.5 224.0,789.0 227.0,787.1 230.3,783.4 233.2,791.3 237.5,789.5 240.4,791.3 244.4,788.1 247.7,789.0 250.6,783.4 253.6,789.0 257.8,789.0 260.8,795.1 263.4,799.1 266.0,802.1 270.0,805.4 272.6,805.7 275.2,808.9 278.5,809.6 283.4,808.2 288.4,809.2 293.3,808.7 298.2,807.8 303.1,809.2 308.0,808.2 313.0,810.1 317.9,809.6 322.8,809.2 327.7,810.6 332.0,809.6 335.9,805.9 340.9,799.8 344.3,794.9 347.7,792.7 352.3,790.4 355.1,786.8 357.9,785.7 361.5,784.1 365.1,784.3 368.6,782.7 372.0,783.4 376.9,782.0 381.2,780.5 386.1,785.7 389.6,789.6 393.0,790.4 396.0,794.2 398.9,798.8 402.2,788.1 406.1,785.7 409.4,770.7 412.4,801.2 414.4,816.7 418.0,817.6 584.6,817.6" fill="none" stroke="#e4611e" stroke-width="1.8" stroke-linejoin="round"/>
<polyline points="80.0,817.6 232.2,817.6 236.2,816.2 239.1,817.6 243.4,816.2 246.0,816.0 248.7,814.8 252.6,810.6 255.2,805.6 257.8,803.5 261.8,796.0 264.7,791.3 269.3,788.1 272.3,784.8 275.2,784.3 278.0,782.9 280.7,783.1 283.4,783.8 286.9,782.5 290.3,783.4 293.9,783.9 297.5,781.5 300.6,780.9 303.7,781.9 306.7,781.0 309.9,780.5 313.1,781.5 316.2,781.5 319.3,781.5 322.4,781.7 325.4,782.0 330.0,783.4 333.6,785.2 336.9,785.2 341.8,791.3 346.4,794.2 349.4,797.7 352.3,801.7 355.1,803.3 357.9,806.8 361.5,806.8 365.1,809.6 368.6,810.8 372.0,811.0 375.5,811.3 378.9,813.4 382.5,812.7 386.1,814.3 389.6,813.5 393.0,812.0 398.9,816.7 406.1,809.6 409.4,816.7 412.4,800.7 415.3,816.2 419.9,817.6 584.6,817.6" fill="none" stroke="#7468c4" stroke-width="1.8" stroke-linejoin="round"/>
<rect x="80.0" y="840.2" width="557.8" height="61.0" fill="none" stroke="#333" stroke-width="1.3"/>
<line x1="145.6" y1="901.2" x2="145.6" y2="896.7" stroke="#333" stroke-width="1.2"/>
<line x1="211.2" y1="901.2" x2="211.2" y2="896.7" stroke="#333" stroke-width="1.2"/>
<line x1="276.9" y1="901.2" x2="276.9" y2="896.7" stroke="#333" stroke-width="1.2"/>
<line x1="342.5" y1="901.2" x2="342.5" y2="896.7" stroke="#333" stroke-width="1.2"/>
<line x1="408.1" y1="901.2" x2="408.1" y2="896.7" stroke="#333" stroke-width="1.2"/>
<line x1="473.7" y1="901.2" x2="473.7" y2="896.7" stroke="#333" stroke-width="1.2"/>
<line x1="539.4" y1="901.2" x2="539.4" y2="896.7" stroke="#333" stroke-width="1.2"/>
<line x1="605.0" y1="901.2" x2="605.0" y2="896.7" stroke="#333" stroke-width="1.2"/>
<line x1="80.0" y1="891.8" x2="84.5" y2="891.8" stroke="#333" stroke-width="1.2"/>
<line x1="80.0" y1="880.1" x2="82.2" y2="880.1" stroke="#333" stroke-width="1.2"/>
<line x1="80.0" y1="868.4" x2="84.5" y2="868.4" stroke="#333" stroke-width="1.2"/>
<line x1="80.0" y1="856.6" x2="82.2" y2="856.6" stroke="#333" stroke-width="1.2"/>
<line x1="80.0" y1="844.9" x2="84.5" y2="844.9" stroke="#333" stroke-width="1.2"/>
<text x="74.6" y="848.9" class="bl" text-anchor="end" style="font-size:15px">100</text>
<text x="74.6" y="872.4" class="bl" text-anchor="end" style="font-size:15px">50</text>
<text x="74.6" y="895.8" class="bl" text-anchor="end" style="font-size:15px">0</text>
<polyline points="80.0,891.8 113.5,891.8 116.4,844.9 119.0,891.8 121.3,867.9 124.0,891.8 150.2,891.8 154.2,844.9 157.1,891.8 160.1,891.8 162.7,867.9 165.3,891.8 168.9,891.8 171.9,844.9 174.2,859.9 177.1,844.9 179.7,871.6 182.4,877.7 187.0,844.9 189.9,874.0 193.5,866.9 196.5,874.9 201.4,865.5 205.0,874.9 209.6,869.3 214.5,866.9 217.5,866.5 220.4,864.6 221.4,875.9 225.0,872.1 229.6,882.0 232.6,880.8 235.5,879.6 239.0,882.0 242.4,882.0 246.0,882.9 249.6,882.9 254.6,887.1 257.3,889.3 260.1,889.0 263.3,890.9 266.4,889.9 270.0,890.6 273.6,889.9 276.9,890.9 280.2,889.5 283.4,890.5 286.7,890.4 290.0,889.2 293.3,889.5 296.6,891.3 299.8,890.4 303.1,889.6 306.4,889.5 309.7,890.8 313.0,889.9 316.2,889.3 319.5,890.4 322.8,889.5 326.1,889.9 329.4,891.0 332.7,890.4 335.9,889.4 339.2,890.4 342.5,889.3 345.8,889.5 349.1,890.7 352.3,889.5 355.6,889.3 358.9,888.5 363.2,886.7 366.8,886.1 370.4,886.7 373.8,883.0 377.3,882.0 382.2,879.6 386.1,866.0 388.4,878.7 391.7,891.8 584.6,891.8" fill="none" stroke="#3aa673" stroke-width="1.8" stroke-linejoin="round"/>
<polyline points="80.0,891.8 133.8,891.8 136.8,844.9 139.7,891.8 149.2,891.8 151.5,868.8 153.8,891.8 157.1,891.8 159.7,844.9 162.7,891.8 179.4,891.8 183.0,877.3 185.3,887.6 188.9,877.3 191.2,875.9 194.8,886.7 198.1,875.9 202.7,879.6 206.3,873.5 209.9,877.3 212.2,872.6 216.8,874.9 220.4,873.5 221.1,864.1 223.7,859.4 227.3,863.2 230.9,856.2 235.5,863.2 240.1,858.5 243.7,857.8 247.3,859.4 250.1,861.6 252.9,863.2 255.9,867.9 259.5,874.5 264.1,879.1 268.7,883.4 273.6,882.4 278.2,884.8 281.6,882.9 285.1,881.5 288.5,880.4 292.0,881.5 295.6,881.1 299.2,879.1 302.6,880.7 306.1,882.4 309.5,882.6 313.0,883.4 316.4,881.6 319.9,882.4 323.0,882.2 326.1,879.1 330.7,881.5 335.3,876.8 339.9,880.1 344.5,875.9 348.1,876.8 351.0,875.3 354.0,871.2 356.9,868.2 359.9,864.1 362.7,861.0 365.5,859.9 370.4,858.5 373.7,854.7 377.3,858.5 380.9,857.6 384.2,857.6 387.8,867.9 389.7,878.2 391.4,868.8 393.7,891.8 584.6,891.8" fill="none" stroke="#e4611e" stroke-width="1.8" stroke-linejoin="round"/>
<polyline points="80.0,891.8 207.3,891.8 209.6,889.0 212.2,891.8 227.3,891.8 230.9,890.4 235.5,889.5 239.0,887.6 242.4,888.1 247.3,885.2 251.9,879.6 255.5,872.6 259.5,864.6 262.9,862.6 266.4,859.9 271.0,859.0 275.6,859.9 280.2,859.0 285.1,859.9 290.0,858.5 293.3,857.8 296.6,857.6 299.8,859.4 303.8,860.8 308.0,859.0 313.0,859.9 317.9,858.5 322.5,860.8 326.1,859.0 330.7,857.6 334.0,861.8 337.6,859.9 341.2,860.8 344.5,866.5 348.1,864.1 352.7,867.4 357.6,876.8 360.4,879.0 363.2,883.4 367.8,885.7 370.7,887.2 373.7,887.1 377.3,884.8 384.2,891.8 390.1,886.2 392.4,879.6 395.3,891.8 584.6,891.8" fill="none" stroke="#7468c4" stroke-width="1.8" stroke-linejoin="round"/>
<rect x="80.0" y="914.9" width="557.8" height="61.0" fill="none" stroke="#333" stroke-width="1.3"/>
<line x1="145.6" y1="975.9" x2="145.6" y2="971.4" stroke="#333" stroke-width="1.2"/>
<line x1="211.2" y1="975.9" x2="211.2" y2="971.4" stroke="#333" stroke-width="1.2"/>
<line x1="276.9" y1="975.9" x2="276.9" y2="971.4" stroke="#333" stroke-width="1.2"/>
<line x1="342.5" y1="975.9" x2="342.5" y2="971.4" stroke="#333" stroke-width="1.2"/>
<line x1="408.1" y1="975.9" x2="408.1" y2="971.4" stroke="#333" stroke-width="1.2"/>
<line x1="473.7" y1="975.9" x2="473.7" y2="971.4" stroke="#333" stroke-width="1.2"/>
<line x1="539.4" y1="975.9" x2="539.4" y2="971.4" stroke="#333" stroke-width="1.2"/>
<line x1="605.0" y1="975.9" x2="605.0" y2="971.4" stroke="#333" stroke-width="1.2"/>
<line x1="80.0" y1="966.5" x2="84.5" y2="966.5" stroke="#333" stroke-width="1.2"/>
<line x1="80.0" y1="954.8" x2="82.2" y2="954.8" stroke="#333" stroke-width="1.2"/>
<line x1="80.0" y1="943.1" x2="84.5" y2="943.1" stroke="#333" stroke-width="1.2"/>
<line x1="80.0" y1="931.3" x2="82.2" y2="931.3" stroke="#333" stroke-width="1.2"/>
<line x1="80.0" y1="919.6" x2="84.5" y2="919.6" stroke="#333" stroke-width="1.2"/>
<text x="74.6" y="923.6" class="bl" text-anchor="end" style="font-size:15px">100</text>
<text x="74.6" y="947.1" class="bl" text-anchor="end" style="font-size:15px">50</text>
<text x="74.6" y="970.5" class="bl" text-anchor="end" style="font-size:15px">0</text>
<polyline points="80.0,966.5 130.9,966.5 133.8,942.6 136.1,966.5 154.8,966.5 159.4,919.6 162.4,919.6 164.7,930.4 167.6,966.5 169.2,943.1 171.5,952.4 174.5,925.2 178.1,942.1 182.4,931.3 186.3,947.7 189.9,954.8 194.5,940.7 199.1,943.1 202.1,941.9 205.0,938.4 207.3,950.1 211.9,936.0 214.5,947.7 217.3,944.8 220.1,944.5 223.7,952.4 227.3,952.4 229.6,956.2 234.2,954.8 235.9,953.8 238.2,959.5 241.8,958.5 245.4,959.5 248.7,959.5 253.6,964.2 257.0,965.7 260.5,965.1 263.7,964.2 267.0,964.6 270.3,963.8 273.6,965.1 276.9,963.9 280.2,964.2 283.4,965.0 286.7,964.6 290.0,965.3 293.3,965.1 296.6,964.2 299.8,964.6 303.1,963.0 306.4,964.2 309.7,964.2 313.0,965.1 316.2,964.8 319.5,964.6 322.8,965.2 326.1,965.1 329.4,965.2 332.7,964.6 335.9,964.2 339.2,965.1 342.3,965.1 345.4,964.6 348.4,964.3 351.4,964.2 354.3,963.1 357.3,962.8 360.9,961.8 364.1,959.0 367.8,956.2 370.1,950.1 371.7,943.1 373.3,966.5 584.6,966.5" fill="none" stroke="#3aa673" stroke-width="1.8" stroke-linejoin="round"/>
<polyline points="80.0,966.5 98.0,966.5 101.0,919.6 103.3,931.3 106.2,966.5 123.3,966.5 125.9,919.6 128.9,919.6 131.5,966.5 138.4,966.5 141.0,942.6 144.3,966.5 154.2,966.5 157.1,919.6 160.1,966.5 165.0,966.5 167.0,919.6 169.2,966.5 170.9,959.5 173.2,965.6 176.8,950.6 180.1,951.5 182.7,966.5 186.0,952.4 189.6,945.4 194.5,956.2 199.1,944.0 203.7,948.7 207.3,938.4 211.9,952.4 215.5,943.1 219.1,945.4 221.4,942.1 224.7,935.1 229.6,931.3 233.6,935.1 238.2,929.0 241.8,936.0 245.4,944.0 248.7,943.1 253.6,951.0 257.0,952.0 260.5,955.7 265.1,959.0 268.5,957.7 271.9,956.7 276.9,958.1 281.5,958.1 284.1,958.4 286.7,958.5 290.7,959.0 294.9,957.6 300.2,956.7 304.8,955.7 309.4,954.3 313.9,957.1 318.9,959.0 323.5,956.7 328.1,955.7 332.7,955.3 337.6,954.3 340.9,956.2 344.5,955.7 346.8,951.0 351.4,948.7 356.3,940.7 360.9,935.1 364.1,933.7 367.8,940.7 370.1,948.7 372.4,966.5 584.6,966.5" fill="none" stroke="#e4611e" stroke-width="1.8" stroke-linejoin="round"/>
<polyline points="80.0,966.5 222.4,966.5 226.0,965.6 229.0,966.5 231.9,964.2 235.2,966.5 239.5,959.5 244.1,953.8 246.4,950.6 248.7,952.9 253.6,942.6 257.0,939.5 260.5,939.3 263.9,937.9 267.4,937.0 271.9,937.4 276.9,936.0 281.5,935.5 286.1,934.6 290.7,934.1 295.6,933.7 299.8,935.5 304.8,937.0 309.7,935.5 313.9,936.0 318.9,937.4 323.5,938.4 328.1,937.4 332.7,937.0 337.6,938.4 342.2,939.3 345.4,939.3 349.1,942.6 352.3,944.9 357.3,950.6 360.5,957.1 364.1,961.8 367.8,958.5 371.4,953.8 374.6,966.5 584.6,966.5" fill="none" stroke="#7468c4" stroke-width="1.8" stroke-linejoin="round"/>
<line x1="252.6" y1="542.5" x2="252.6" y2="975.9" stroke="#c4c4c4" stroke-width="0.9"/>
<text x="80.0" y="992.8" class="bl" text-anchor="middle" style="font-size:15px">0</text>
<text x="145.6" y="992.8" class="bl" text-anchor="middle" style="font-size:15px">20</text>
<text x="211.2" y="992.8" class="bl" text-anchor="middle" style="font-size:15px">40</text>
<text x="276.9" y="992.8" class="bl" text-anchor="middle" style="font-size:15px">60</text>
<text x="342.5" y="992.8" class="bl" text-anchor="middle" style="font-size:15px">80</text>
<text x="408.1" y="992.8" class="bl" text-anchor="middle" style="font-size:15px">100</text>
<text x="473.7" y="992.8" class="bl" text-anchor="middle" style="font-size:15px">120</text>
<text x="539.4" y="992.8" class="bl" text-anchor="middle" style="font-size:15px">140</text>
<text x="605.0" y="992.8" class="bl" text-anchor="middle" style="font-size:15px">160</text>
<text x="359" y="1014.8" class="bl" text-anchor="middle" style="font-size:16px">Z(Å)</text>
<text transform="translate(42.3,765.8) rotate(-90)" class="bl" text-anchor="middle" style="font-size:16px">Percentage(%)</text>
<text x="628.2" y="578.6" class="r" text-anchor="end" style="font-size:18px">5 eV</text>
<text x="635.8" y="653.4" class="r" text-anchor="end" style="font-size:18px">10 eV</text>
<text x="633.7" y="726.9" class="r" text-anchor="end" style="font-size:18px">20 eV</text>
<text x="633.4" y="800.8" class="r" text-anchor="end" style="font-size:18px">50 eV</text>
<text x="630.9" y="872.9" class="r" text-anchor="end" style="font-size:18px">80 eV</text>
<text x="632.5" y="949.6" class="r" text-anchor="end" style="font-size:18px">100 eV</text>
<text x="9.3" y="537.2" class="r" style="font-size:23.4px">(d)</text>
<line x1="80" y1="527.4" x2="80" y2="542" stroke="#222" stroke-width="1"/>
<line x1="251.2" y1="528" x2="251.2" y2="542.7" stroke="#222" stroke-width="1"/>
<line x1="86" y1="537" x2="245" y2="537" stroke="#111" stroke-width="1.1"/>
<polygon points="80.5,537 89,534.2 89,539.8" fill="#000"/>
<polygon points="250.7,537 242.2,534.2 242.2,539.8" fill="#000"/>
<text x="166" y="534" class="r" text-anchor="middle" style="font-size:15.5px">Substrate</text>
<line x1="271.4" y1="541.5" x2="271.4" y2="606.5" stroke="#222" stroke-width="1.3" stroke-dasharray="4,3"/>
<line x1="565.8" y1="541.5" x2="565.8" y2="606.5" stroke="#222" stroke-width="1.3" stroke-dasharray="4,3"/>
<line x1="277.4" y1="551" x2="559.8" y2="551" stroke="#111" stroke-width="1.3"/>
<polygon points="271.4,551 279.4,548.2 279.4,553.8" fill="#000"/>
<polygon points="565.8,551 557.8,548.2 557.8,553.8" fill="#000"/>
<text x="406.3" y="547.4" class="r" text-anchor="middle" style="font-size:16px">93%</text>
<line x1="274" y1="765.0" x2="274" y2="830.0" stroke="#222" stroke-width="1.3" stroke-dasharray="4,3"/>
<line x1="336.4" y1="765.0" x2="336.4" y2="830.0" stroke="#222" stroke-width="1.3" stroke-dasharray="4,3"/>
<line x1="280" y1="779.5" x2="330.4" y2="779.5" stroke="#111" stroke-width="1.3"/>
<polygon points="274,779.5 282,776.7 282,782.3" fill="#000"/>
<polygon points="336.4,779.5 328.4,776.7 328.4,782.3" fill="#000"/>
<text x="308.8" y="775.9" class="r" text-anchor="middle" style="font-size:16px">68%</text>
<line x1="265.9" y1="839.2" x2="265.9" y2="904.2" stroke="#222" stroke-width="1.3" stroke-dasharray="4,3"/>
<line x1="345.8" y1="839.2" x2="345.8" y2="904.2" stroke="#222" stroke-width="1.3" stroke-dasharray="4,3"/>
<line x1="271.9" y1="855.2" x2="339.8" y2="855.2" stroke="#111" stroke-width="1.3"/>
<polygon points="265.9,855.2 273.9,852.4000000000001 273.9,858.0" fill="#000"/>
<polygon points="345.8,855.2 337.8,852.4000000000001 337.8,858.0" fill="#000"/>
<text x="308.4" y="851.6" class="r" text-anchor="middle" style="font-size:16px">69%</text>
<line x1="257.6" y1="913.9" x2="257.6" y2="978.9" stroke="#222" stroke-width="1.3" stroke-dasharray="4,3"/>
<line x1="347.5" y1="913.9" x2="347.5" y2="978.9" stroke="#222" stroke-width="1.3" stroke-dasharray="4,3"/>
<line x1="263.6" y1="931" x2="341.5" y2="931" stroke="#111" stroke-width="1.3"/>
<polygon points="257.6,931 265.6,928.2 265.6,933.8" fill="#000"/>
<polygon points="347.5,931 339.5,928.2 339.5,933.8" fill="#000"/>
<text x="301.2" y="927.4" class="r" text-anchor="middle" style="font-size:16px">71%</text>
<ellipse cx="577.2" cy="642.4" rx="14.5" ry="23.3" fill="none" stroke="#d42a2a" stroke-width="1.8" stroke-dasharray="5,4"/>
<ellipse cx="542.8" cy="716.6" rx="14.8" ry="22.5" fill="none" stroke="#d42a2a" stroke-width="1.8" stroke-dasharray="5,4"/>
<rect x="88.3" y="544.5" width="75.2" height="75.5" fill="#fff" stroke="#000" stroke-width="2"/>
<line x1="91" y1="557.2" x2="134.3" y2="557.2" stroke="#3aa673" stroke-width="2"/>
<text x="138" y="562.7" class="r" style="font-size:19px">sp</text>
<line x1="91" y1="582.4" x2="134.3" y2="582.4" stroke="#e4611e" stroke-width="2"/>
<text x="138" y="587.9" class="r" style="font-size:19px">sp</text>
<text x="155" y="581.6" class="r" style="font-size:11.5px">2</text>
<line x1="91" y1="608" x2="134.3" y2="608" stroke="#7468c4" stroke-width="2"/>
<text x="138" y="613.5" class="r" style="font-size:19px">sp</text>
<text x="155" y="607.2" class="r" style="font-size:11.5px">3</text>
<defs><pattern id="bt" width="2.6" height="4.5" patternUnits="userSpaceOnUse"><rect width="2.6" height="4.5" fill="#5a5af8"/><circle cx="1.3" cy="0.75" r="0.68" fill="#1e1e74"/><circle cx="0" cy="3" r="0.68" fill="#1e1e74"/><circle cx="2.6" cy="3" r="0.68" fill="#1e1e74"/></pattern><pattern id="stl" width="4.2" height="4.2" patternUnits="userSpaceOnUse" patternTransform="skewY(30)"><circle cx="2.1" cy="2.1" r="1.55" fill="#2a0a20" fill-opacity="0.5"/><circle cx="0" cy="0" r="0.9" fill="#fff" fill-opacity="0.18"/><circle cx="4.2" cy="0" r="0.9" fill="#fff" fill-opacity="0.18"/><circle cx="0" cy="4.2" r="0.9" fill="#fff" fill-opacity="0.18"/><circle cx="4.2" cy="4.2" r="0.9" fill="#fff" fill-opacity="0.18"/></pattern><pattern id="str" width="4.2" height="4.2" patternUnits="userSpaceOnUse" patternTransform="skewY(-44)"><circle cx="2.1" cy="2.1" r="1.55" fill="#2a0a20" fill-opacity="0.5"/><circle cx="0" cy="0" r="0.9" fill="#fff" fill-opacity="0.18"/><circle cx="4.2" cy="0" r="0.9" fill="#fff" fill-opacity="0.18"/><circle cx="0" cy="4.2" r="0.9" fill="#fff" fill-opacity="0.18"/><circle cx="4.2" cy="4.2" r="0.9" fill="#fff" fill-opacity="0.18"/></pattern><filter id="bl1" x="-20%" y="-20%" width="140%" height="140%"><feGaussianBlur stdDeviation="1.3"/></filter></defs>
<polyline points="2.2,40.0 42.0,25.4 92.4,37.2" fill="none" stroke="#111" stroke-width="1"/>
<line x1="42" y1="25.4" x2="41.6" y2="195.7" stroke="#111" stroke-width="1"/>
<polygon points="13.9,222.7 53.3,246.0 53.3,243.0 13.7,219.9" fill="rgb(133,42,144)" stroke="rgb(133,42,144)" stroke-width="0.5"/>
<polygon points="53.3,246.0 81.0,219.0 81.2,216.2 53.3,243.0" fill="rgb(133,42,144)" stroke="rgb(133,42,144)" stroke-width="0.5"/>
<polygon points="13.7,219.9 53.3,243.0 53.4,240.0 13.5,217.0" fill="rgb(155,48,143)" stroke="rgb(155,48,143)" stroke-width="0.5"/>
<polygon points="53.3,243.0 81.2,216.2 81.4,213.4 53.4,240.0" fill="rgb(155,48,143)" stroke="rgb(155,48,143)" stroke-width="0.5"/>
<polygon points="13.5,217.0 53.4,240.0 53.4,237.1 13.4,214.2" fill="rgb(169,53,135)" stroke="rgb(169,53,135)" stroke-width="0.5"/>
<polygon points="53.4,240.0 81.4,213.4 81.5,210.5 53.4,237.1" fill="rgb(169,53,135)" stroke="rgb(169,53,135)" stroke-width="0.5"/>
<polygon points="13.4,214.2 53.4,237.1 53.5,234.1 13.2,211.4" fill="rgb(181,57,129)" stroke="rgb(181,57,129)" stroke-width="0.5"/>
<polygon points="53.4,237.1 81.5,210.5 81.7,207.7 53.5,234.1" fill="rgb(181,57,129)" stroke="rgb(181,57,129)" stroke-width="0.5"/>
<polygon points="13.2,211.4 53.5,234.1 53.5,231.1 13.0,208.5" fill="rgb(197,62,120)" stroke="rgb(197,62,120)" stroke-width="0.5"/>
<polygon points="53.5,234.1 81.7,207.7 81.9,204.9 53.5,231.1" fill="rgb(197,62,120)" stroke="rgb(197,62,120)" stroke-width="0.5"/>
<polygon points="13.0,208.5 53.5,231.1 53.6,228.1 12.8,205.7" fill="rgb(214,68,110)" stroke="rgb(214,68,110)" stroke-width="0.5"/>
<polygon points="53.5,231.1 81.9,204.9 82.1,202.1 53.6,228.1" fill="rgb(214,68,110)" stroke="rgb(214,68,110)" stroke-width="0.5"/>
<polygon points="12.8,205.7 53.6,228.1 53.6,225.1 12.6,202.9" fill="rgb(223,76,103)" stroke="rgb(223,76,103)" stroke-width="0.5"/>
<polygon points="53.6,228.1 82.1,202.1 82.2,199.3 53.6,225.1" fill="rgb(223,76,103)" stroke="rgb(223,76,103)" stroke-width="0.5"/>
<polygon points="12.6,202.9 53.6,225.1 53.6,222.2 12.4,200.0" fill="rgb(231,84,96)" stroke="rgb(231,84,96)" stroke-width="0.5"/>
<polygon points="53.6,225.1 82.2,199.3 82.4,196.5 53.6,222.2" fill="rgb(231,84,96)" stroke="rgb(231,84,96)" stroke-width="0.5"/>
<polygon points="12.4,200.0 53.6,222.2 53.7,219.2 12.3,197.2" fill="rgb(234,97,96)" stroke="rgb(234,97,96)" stroke-width="0.5"/>
<polygon points="53.6,222.2 82.4,196.5 82.6,193.6 53.7,219.2" fill="rgb(234,97,96)" stroke="rgb(234,97,96)" stroke-width="0.5"/>
<polygon points="12.3,197.2 53.7,219.2 53.7,216.2 12.1,194.4" fill="rgb(237,111,96)" stroke="rgb(237,111,96)" stroke-width="0.5"/>
<polygon points="53.7,219.2 82.6,193.6 82.8,190.8 53.7,216.2" fill="rgb(237,111,96)" stroke="rgb(237,111,96)" stroke-width="0.5"/>
<polygon points="12.1,194.4 53.7,216.2 53.8,213.2 11.9,191.5" fill="rgb(237,128,101)" stroke="rgb(237,128,101)" stroke-width="0.5"/>
<polygon points="53.7,216.2 82.8,190.8 82.9,188.0 53.8,213.2" fill="rgb(237,128,101)" stroke="rgb(237,128,101)" stroke-width="0.5"/>
<polygon points="11.9,191.5 53.8,213.2 53.8,210.2 11.7,188.7" fill="rgb(236,145,107)" stroke="rgb(236,145,107)" stroke-width="0.5"/>
<polygon points="53.8,213.2 82.9,188.0 83.1,185.2 53.8,210.2" fill="rgb(236,145,107)" stroke="rgb(236,145,107)" stroke-width="0.5"/>
<polygon points="11.7,188.7 53.8,210.2 53.8,207.3 11.5,185.9" fill="rgb(236,163,114)" stroke="rgb(236,163,114)" stroke-width="0.5"/>
<polygon points="53.8,210.2 83.1,185.2 83.3,182.4 53.8,207.3" fill="rgb(236,163,114)" stroke="rgb(236,163,114)" stroke-width="0.5"/>
<polygon points="11.5,185.9 53.8,207.3 53.9,204.3 11.4,183.1" fill="rgb(236,181,128)" stroke="rgb(236,181,128)" stroke-width="0.5"/>
<polygon points="53.8,207.3 83.3,182.4 83.5,179.5 53.9,204.3" fill="rgb(236,181,128)" stroke="rgb(236,181,128)" stroke-width="0.5"/>
<polygon points="11.4,183.1 53.9,204.3 53.9,201.3 11.2,180.2" fill="rgb(236,196,139)" stroke="rgb(236,196,139)" stroke-width="0.5"/>
<polygon points="53.9,204.3 83.5,179.5 83.7,176.7 53.9,201.3" fill="rgb(236,196,139)" stroke="rgb(236,196,139)" stroke-width="0.5"/>
<polygon points="11.2,180.2 53.9,201.3 54.0,198.3 11.0,177.4" fill="rgb(236,209,149)" stroke="rgb(236,209,149)" stroke-width="0.5"/>
<polygon points="53.9,201.3 83.7,176.7 83.8,173.9 54.0,198.3" fill="rgb(236,209,149)" stroke="rgb(236,209,149)" stroke-width="0.5"/>
<polygon points="11.0,177.4 54.0,198.3 54.0,195.3 10.8,174.6" fill="rgb(238,218,155)" stroke="rgb(238,218,155)" stroke-width="0.5"/>
<polygon points="54.0,198.3 83.8,173.9 84.0,171.1 54.0,195.3" fill="rgb(238,218,155)" stroke="rgb(238,218,155)" stroke-width="0.5"/>
<polygon points="10.8,174.6 54.0,195.3 54.1,192.3 10.6,171.7" fill="rgb(240,226,161)" stroke="rgb(240,226,161)" stroke-width="0.5"/>
<polygon points="54.0,195.3 84.0,171.1 84.2,168.3 54.1,192.3" fill="rgb(240,226,161)" stroke="rgb(240,226,161)" stroke-width="0.5"/>
<polygon points="10.6,171.7 54.1,192.3 54.1,189.4 10.5,168.9" fill="rgb(241,234,167)" stroke="rgb(241,234,167)" stroke-width="0.5"/>
<polygon points="54.1,192.3 84.2,168.3 84.4,165.5 54.1,189.4" fill="rgb(241,234,167)" stroke="rgb(241,234,167)" stroke-width="0.5"/>
<polygon points="10.5,168.9 54.1,189.4 54.1,186.4 10.3,166.1" fill="rgb(243,242,173)" stroke="rgb(243,242,173)" stroke-width="0.5"/>
<polygon points="54.1,189.4 84.4,165.5 84.5,162.6 54.1,186.4" fill="rgb(243,242,173)" stroke="rgb(243,242,173)" stroke-width="0.5"/>
<polygon points="10.3,166.1 54.1,186.4 84.5,162.6 41.7,142.9" fill="rgb(244, 247, 176)"/>
<polygon points="13.9,222.7 53.3,246.0 54.1,186.4 10.3,166.1" fill="url(#stl)"/>
<polygon points="53.3,246.0 81.0,219.0 84.5,162.6 54.1,186.4" fill="url(#str)"/>
<clipPath id="cl0"><polygon points="3.6,43.4 14.6,39.0 29.2,33.1 40.9,28.0 43.8,27.3 55.5,31.0 67.2,34.6 81.8,39.0 89.8,41.9 90.5,56.5 89.0,75.5 88.5,85.0 88.0,95.0 87.6,107.6 86.9,122.2 86.1,130.0 85.4,144.6 83.9,157.7 85.0,157.4 82.0,162.4 78.0,168.0 74.0,171.7 70.0,176.0 66.0,179.8 62.0,183.5 58.0,186.6 54.0,189.7 50.0,187.2 45.0,182.9 40.0,181.0 35.0,178.5 30.0,177.3 25.0,175.4 20.0,173.6 15.0,171.0 11.7,168.6 11.7,159.2 10.2,144.6 8.8,130.0 9.5,122.0 8.8,113.4 8.2,104.7 7.2,94.5 6.6,85.0 6.0,75.0 5.2,65.0 4.4,53.6"/></clipPath>
<polygon points="3.6,43.4 14.6,39.0 29.2,33.1 40.9,28.0 43.8,27.3 55.5,31.0 67.2,34.6 81.8,39.0 89.8,41.9 90.5,56.5 89.0,75.5 88.5,85.0 88.0,95.0 87.6,107.6 86.9,122.2 86.1,130.0 85.4,144.6 83.9,157.7 85.0,157.4 82.0,162.4 78.0,168.0 74.0,171.7 70.0,176.0 66.0,179.8 62.0,183.5 58.0,186.6 54.0,189.7 50.0,187.2 45.0,182.9 40.0,181.0 35.0,178.5 30.0,177.3 25.0,175.4 20.0,173.6 15.0,171.0 11.7,168.6 11.7,159.2 10.2,144.6 8.8,130.0 9.5,122.0 8.8,113.4 8.2,104.7 7.2,94.5 6.6,85.0 6.0,75.0 5.2,65.0 4.4,53.6" fill="url(#bt)" stroke="#5a5af8" stroke-width="2.2" stroke-dasharray="0.1,2.2" stroke-linecap="round" stroke-linejoin="round"/>
<g fill="#22227a" fill-opacity="0.78" filter="url(#bl1)" clip-path="url(#cl0)"><ellipse cx="27.8" cy="77.7" rx="6.7" ry="5.9"/><ellipse cx="44.5" cy="85.0" rx="7.5" ry="7.5"/><ellipse cx="29.2" cy="50.0" rx="5.1" ry="4.2"/><ellipse cx="62.0" cy="58.7" rx="7.5" ry="5.9"/><ellipse cx="67.2" cy="84.9" rx="6.7" ry="4.2"/><ellipse cx="70.1" cy="94.4" rx="6.7" ry="5.1"/><ellipse cx="30.6" cy="108.4" rx="5.0" ry="7.6"/><ellipse cx="42.4" cy="114.9" rx="6.7" ry="8.4"/><ellipse cx="19.7" cy="117.1" rx="5.9" ry="5.9"/><ellipse cx="13.9" cy="97.4" rx="5.9" ry="5.1"/><ellipse cx="70.1" cy="113.4" rx="6.7" ry="6.7"/><ellipse cx="59.1" cy="131.7" rx="4.2" ry="5.9"/><ellipse cx="24.1" cy="138.0" rx="5.9" ry="5.8"/><ellipse cx="38.7" cy="153.3" rx="5.9" ry="6.7"/><ellipse cx="55.5" cy="149.7" rx="6.7" ry="5.9"/><ellipse cx="67.2" cy="139.5" rx="6.7" ry="5.9"/><ellipse cx="75.9" cy="158.4" rx="6.8" ry="4.1"/><ellipse cx="49.0" cy="63.0" rx="5.8" ry="5.8"/><ellipse cx="16.0" cy="65.0" rx="4.6" ry="5.8"/></g>
<g fill="#efeca2"><circle cx="70.0" cy="142.7" r="1.1"/><circle cx="46.7" cy="160.3" r="1.1"/><circle cx="60.2" cy="180.3" r="1.1"/><circle cx="11.8" cy="93.9" r="1.1"/><circle cx="76.2" cy="159.0" r="1.1"/><circle cx="69.8" cy="62.1" r="1.1"/><circle cx="42.3" cy="177.0" r="1.1"/><circle cx="81.9" cy="95.2" r="1.1"/><circle cx="22.4" cy="158.2" r="1.1"/><circle cx="41.7" cy="163.6" r="1.1"/><circle cx="54.7" cy="184.4" r="1.1"/><circle cx="27.3" cy="173.8" r="1.1"/><circle cx="21.5" cy="171.5" r="1.1"/><circle cx="62.2" cy="181.6" r="1.1"/><circle cx="84.0" cy="158.1" r="1.1"/><circle cx="46.5" cy="183.2" r="1.1"/><circle cx="52.3" cy="185.9" r="1.1"/><circle cx="30.7" cy="172.6" r="1.1"/><circle cx="55.3" cy="182.8" r="1.1"/><circle cx="63.0" cy="178.7" r="1.1"/><circle cx="38.3" cy="178.3" r="1.1"/><circle cx="55.6" cy="184.4" r="1.1"/><circle cx="26.6" cy="173.6" r="1.1"/><circle cx="41.1" cy="176.9" r="1.1"/><circle cx="24.5" cy="174.2" r="1.1"/><circle cx="54.0" cy="186.7" r="1.1"/><circle cx="65.6" cy="175.8" r="1.1"/><circle cx="74.4" cy="170.1" r="1.1"/><circle cx="71.7" cy="173.3" r="1.1"/><circle cx="36.0" cy="176.2" r="1.1"/><circle cx="11.2" cy="153.9" r="1.1"/><circle cx="73.4" cy="169.5" r="1.1"/><circle cx="43.5" cy="178.0" r="1.1"/><circle cx="70.8" cy="174.5" r="1.1"/><circle cx="10.1" cy="141.0" r="1.1"/><circle cx="40.7" cy="179.0" r="1.1"/><circle cx="79.4" cy="165.5" r="1.1"/><circle cx="28.4" cy="170.7" r="1.1"/><circle cx="65.1" cy="180.5" r="1.1"/><circle cx="47.3" cy="182.7" r="1.1"/><circle cx="82.3" cy="158.1" r="1.1"/><circle cx="82.7" cy="159.3" r="1.1"/><circle cx="47.8" cy="180.6" r="1.1"/><circle cx="77.6" cy="167.4" r="1.1"/><circle cx="10.8" cy="147.2" r="1.1"/><circle cx="31.0" cy="176.2" r="1.1"/><circle cx="42.1" cy="178.9" r="1.1"/><circle cx="80.5" cy="162.7" r="1.1"/><circle cx="60.8" cy="183.0" r="1.1"/><circle cx="42.6" cy="181.3" r="1.1"/></g>
<g fill="#5a5af8"><circle cx="75.7" cy="171.3" r="1.2"/><circle cx="48.2" cy="188.8" r="1.2"/><circle cx="56.1" cy="188.9" r="1.2"/><circle cx="31.1" cy="182.2" r="1.2"/><circle cx="17.5" cy="177.2" r="1.2"/><circle cx="25.2" cy="176.2" r="1.2"/><circle cx="51.0" cy="189.5" r="1.2"/><circle cx="38.8" cy="183.1" r="1.2"/><circle cx="47.7" cy="188.4" r="1.2"/><circle cx="65.6" cy="180.2" r="1.2"/><circle cx="18.6" cy="178.7" r="1.2"/><circle cx="65.0" cy="182.0" r="1.2"/><circle cx="77.1" cy="170.8" r="1.2"/><circle cx="58.4" cy="189.8" r="1.2"/><circle cx="12.7" cy="170.2" r="1.2"/><circle cx="45.3" cy="186.3" r="1.2"/><circle cx="35.6" cy="182.3" r="1.2"/><circle cx="73.0" cy="174.7" r="1.2"/><circle cx="68.5" cy="177.5" r="1.2"/><circle cx="51.4" cy="190.2" r="1.2"/><circle cx="58.9" cy="191.4" r="1.2"/><circle cx="36.9" cy="181.4" r="1.2"/><circle cx="31.0" cy="180.1" r="1.2"/><circle cx="21.1" cy="177.0" r="1.2"/><circle cx="43.4" cy="185.0" r="1.2"/><circle cx="14.8" cy="172.5" r="1.2"/><circle cx="43.7" cy="183.4" r="1.2"/><circle cx="43.1" cy="183.9" r="1.2"/><circle cx="62.5" cy="183.5" r="1.2"/><circle cx="52.9" cy="191.5" r="1.2"/></g>
<g fill="#fff"><circle cx="87.9" cy="51.1" r="0.8"/><circle cx="86.6" cy="108.6" r="1.0"/><circle cx="84.5" cy="91.2" r="0.9"/><circle cx="87.0" cy="110.3" r="1.5"/><circle cx="22.9" cy="36.4" r="1.1"/><circle cx="12.7" cy="126.0" r="1.2"/><circle cx="21.5" cy="36.3" r="0.8"/><circle cx="52.9" cy="34.7" r="1.5"/><circle cx="54.4" cy="33.8" r="1.4"/><circle cx="12.8" cy="151.8" r="1.3"/><circle cx="11.2" cy="97.7" r="1.0"/><circle cx="16.4" cy="161.0" r="1.5"/><circle cx="84.2" cy="88.8" r="1.2"/><circle cx="85.5" cy="77.5" r="1.1"/><circle cx="14.9" cy="132.6" r="1.2"/><circle cx="6.1" cy="58.5" r="1.5"/><circle cx="5.0" cy="46.1" r="0.9"/><circle cx="10.9" cy="113.2" r="1.0"/><circle cx="6.8" cy="70.0" r="1.3"/><circle cx="85.1" cy="119.8" r="1.2"/><circle cx="11.8" cy="102.8" r="1.4"/><circle cx="13.2" cy="150.8" r="1.5"/><circle cx="88.0" cy="47.3" r="1.5"/><circle cx="5.7" cy="65.6" r="1.1"/><circle cx="84.3" cy="138.2" r="1.3"/><circle cx="4.4" cy="43.7" r="1.4"/><circle cx="12.9" cy="157.4" r="1.4"/><circle cx="7.4" cy="84.3" r="0.9"/><circle cx="87.4" cy="58.0" r="1.4"/><circle cx="8.2" cy="67.9" r="1.0"/></g>
<ellipse cx="12.5" cy="65.3" rx="3.5" ry="4.3" fill="#fff"/>
<ellipse cx="7.5" cy="96.0" rx="2.5" ry="5.0" fill="#fff"/>
<ellipse cx="6.0" cy="108.0" rx="2.0" ry="4.0" fill="#fff"/>
<ellipse cx="76.8" cy="110.5" rx="1.8" ry="10.5" fill="#fff"/>
<ellipse cx="50.0" cy="37.5" rx="2.0" ry="1.5" fill="#fff"/>
<polyline points="13.9,222.7 2.2,40.0 56.0,53.7 92.4,37.2 81.0,219.0 53.3,246.0 13.9,222.7" fill="none" stroke="#111" stroke-width="1"/>
<line x1="56" y1="53.7" x2="53.3" y2="246" stroke="#111" stroke-width="1"/>
<polyline points="111.4,43.8 151.9,27.2 201.0,39.3" fill="none" stroke="#111" stroke-width="1"/>
<line x1="151.9" y1="27.2" x2="154.8" y2="195.5" stroke="#111" stroke-width="1"/>
<polygon points="123.5,223.6 161.2,246.1 161.2,243.2 123.3,220.8" fill="rgb(133,42,144)" stroke="rgb(133,42,144)" stroke-width="0.5"/>
<polygon points="161.2,246.1 192.5,218.0 192.6,215.2 161.2,243.2" fill="rgb(133,42,144)" stroke="rgb(133,42,144)" stroke-width="0.5"/>
<polygon points="123.3,220.8 161.2,243.2 161.3,240.2 123.1,218.0" fill="rgb(155,48,143)" stroke="rgb(155,48,143)" stroke-width="0.5"/>
<polygon points="161.2,243.2 192.6,215.2 192.8,212.5 161.3,240.2" fill="rgb(155,48,143)" stroke="rgb(155,48,143)" stroke-width="0.5"/>
<polygon points="123.1,218.0 161.3,240.2 161.3,237.3 122.9,215.2" fill="rgb(169,53,135)" stroke="rgb(169,53,135)" stroke-width="0.5"/>
<polygon points="161.3,240.2 192.8,212.5 192.9,209.7 161.3,237.3" fill="rgb(169,53,135)" stroke="rgb(169,53,135)" stroke-width="0.5"/>
<polygon points="122.9,215.2 161.3,237.3 161.3,234.4 122.7,212.5" fill="rgb(181,57,129)" stroke="rgb(181,57,129)" stroke-width="0.5"/>
<polygon points="161.3,237.3 192.9,209.7 193.0,206.9 161.3,234.4" fill="rgb(181,57,129)" stroke="rgb(181,57,129)" stroke-width="0.5"/>
<polygon points="122.7,212.5 161.3,234.4 161.4,231.5 122.6,209.7" fill="rgb(197,62,120)" stroke="rgb(197,62,120)" stroke-width="0.5"/>
<polygon points="161.3,234.4 193.0,206.9 193.2,204.2 161.4,231.5" fill="rgb(197,62,120)" stroke="rgb(197,62,120)" stroke-width="0.5"/>
<polygon points="122.6,209.7 161.4,231.5 161.4,228.5 122.4,206.9" fill="rgb(214,68,110)" stroke="rgb(214,68,110)" stroke-width="0.5"/>
<polygon points="161.4,231.5 193.2,204.2 193.3,201.4 161.4,228.5" fill="rgb(214,68,110)" stroke="rgb(214,68,110)" stroke-width="0.5"/>
<polygon points="122.4,206.9 161.4,228.5 161.5,225.6 122.2,204.1" fill="rgb(223,76,103)" stroke="rgb(223,76,103)" stroke-width="0.5"/>
<polygon points="161.4,228.5 193.3,201.4 193.4,198.6 161.5,225.6" fill="rgb(223,76,103)" stroke="rgb(223,76,103)" stroke-width="0.5"/>
<polygon points="122.2,204.1 161.5,225.6 161.5,222.7 122.0,201.3" fill="rgb(231,84,96)" stroke="rgb(231,84,96)" stroke-width="0.5"/>
<polygon points="161.5,225.6 193.4,198.6 193.6,195.8 161.5,222.7" fill="rgb(231,84,96)" stroke="rgb(231,84,96)" stroke-width="0.5"/>
<polygon points="122.0,201.3 161.5,222.7 161.5,219.8 121.8,198.5" fill="rgb(234,97,96)" stroke="rgb(234,97,96)" stroke-width="0.5"/>
<polygon points="161.5,222.7 193.6,195.8 193.7,193.1 161.5,219.8" fill="rgb(234,97,96)" stroke="rgb(234,97,96)" stroke-width="0.5"/>
<polygon points="121.8,198.5 161.5,219.8 161.6,216.8 121.6,195.7" fill="rgb(237,111,96)" stroke="rgb(237,111,96)" stroke-width="0.5"/>
<polygon points="161.5,219.8 193.7,193.1 193.8,190.3 161.6,216.8" fill="rgb(237,111,96)" stroke="rgb(237,111,96)" stroke-width="0.5"/>
<polygon points="121.6,195.7 161.6,216.8 161.6,213.9 121.4,192.9" fill="rgb(237,128,101)" stroke="rgb(237,128,101)" stroke-width="0.5"/>
<polygon points="161.6,216.8 193.8,190.3 193.9,187.5 161.6,213.9" fill="rgb(237,128,101)" stroke="rgb(237,128,101)" stroke-width="0.5"/>
<polygon points="121.4,192.9 161.6,213.9 161.6,211.0 121.2,190.2" fill="rgb(236,145,107)" stroke="rgb(236,145,107)" stroke-width="0.5"/>
<polygon points="161.6,213.9 193.9,187.5 194.1,184.8 161.6,211.0" fill="rgb(236,145,107)" stroke="rgb(236,145,107)" stroke-width="0.5"/>
<polygon points="121.2,190.2 161.6,211.0 161.7,208.1 121.1,187.4" fill="rgb(236,163,114)" stroke="rgb(236,163,114)" stroke-width="0.5"/>
<polygon points="161.6,211.0 194.1,184.8 194.2,182.0 161.7,208.1" fill="rgb(236,163,114)" stroke="rgb(236,163,114)" stroke-width="0.5"/>
<polygon points="121.1,187.4 161.7,208.1 161.7,205.1 120.9,184.6" fill="rgb(236,181,128)" stroke="rgb(236,181,128)" stroke-width="0.5"/>
<polygon points="161.7,208.1 194.2,182.0 194.3,179.2 161.7,205.1" fill="rgb(236,181,128)" stroke="rgb(236,181,128)" stroke-width="0.5"/>
<polygon points="120.9,184.6 161.7,205.1 161.8,202.2 120.7,181.8" fill="rgb(236,196,139)" stroke="rgb(236,196,139)" stroke-width="0.5"/>
<polygon points="161.7,205.1 194.3,179.2 194.5,176.5 161.8,202.2" fill="rgb(236,196,139)" stroke="rgb(236,196,139)" stroke-width="0.5"/>
<polygon points="120.7,181.8 161.8,202.2 161.8,199.3 120.5,179.0" fill="rgb(236,209,149)" stroke="rgb(236,209,149)" stroke-width="0.5"/>
<polygon points="161.8,202.2 194.5,176.5 194.6,173.7 161.8,199.3" fill="rgb(236,209,149)" stroke="rgb(236,209,149)" stroke-width="0.5"/>
<polygon points="120.5,179.0 161.8,199.3 161.8,196.4 120.3,176.2" fill="rgb(238,218,155)" stroke="rgb(238,218,155)" stroke-width="0.5"/>
<polygon points="161.8,199.3 194.6,173.7 194.7,170.9 161.8,196.4" fill="rgb(238,218,155)" stroke="rgb(238,218,155)" stroke-width="0.5"/>
<polygon points="120.3,176.2 161.8,196.4 161.9,193.4 120.1,173.4" fill="rgb(240,226,161)" stroke="rgb(240,226,161)" stroke-width="0.5"/>
<polygon points="161.8,196.4 194.7,170.9 194.9,168.1 161.9,193.4" fill="rgb(240,226,161)" stroke="rgb(240,226,161)" stroke-width="0.5"/>
<polygon points="120.1,173.4 161.9,193.4 161.9,190.5 119.9,170.6" fill="rgb(241,234,167)" stroke="rgb(241,234,167)" stroke-width="0.5"/>
<polygon points="161.9,193.4 194.9,168.1 195.0,165.4 161.9,190.5" fill="rgb(241,234,167)" stroke="rgb(241,234,167)" stroke-width="0.5"/>
<polygon points="119.9,170.6 161.9,190.5 161.9,187.6 119.7,167.9" fill="rgb(243,242,173)" stroke="rgb(243,242,173)" stroke-width="0.5"/>
<polygon points="161.9,190.5 195.0,165.4 195.1,162.6 161.9,187.6" fill="rgb(243,242,173)" stroke="rgb(243,242,173)" stroke-width="0.5"/>
<polygon points="119.7,167.9 161.9,187.6 195.1,162.6 153.9,143.3" fill="rgb(244, 247, 176)"/>
<polygon points="123.5,223.6 161.2,246.1 161.9,187.6 119.7,167.9" fill="url(#stl)"/>
<polygon points="161.2,246.1 192.5,218.0 195.1,162.6 161.9,187.6" fill="url(#str)"/>
<clipPath id="cl1"><polygon points="130.7,42.5 134.7,40.1 139.5,44.1 143.5,46.5 146.8,45.7 151.6,48.1 158.0,51.3 161.2,50.5 166.0,48.9 172.4,47.3 178.9,45.7 183.7,48.1 188.5,54.5 192.5,58.5 197.3,61.8 199.7,71.4 198.9,84.2 198.1,100.3 196.5,113.1 195.7,130.0 194.1,136.0 192.5,152.1 193.2,160.0 190.7,166.1 185.7,172.3 179.5,177.3 173.3,182.3 167.1,186.0 162.8,189.7 158.4,188.5 152.2,187.2 146.0,184.7 139.8,180.4 133.6,177.3 127.4,173.6 121.2,168.6 120.3,165.0 119.5,144.1 117.8,130.0 117.0,109.9 117.8,97.1 122.7,90.7 116.2,87.4 115.4,77.8 117.0,73.0 124.3,71.4 121.1,68.2 119.5,60.1 122.7,57.7 129.1,58.5 127.5,56.9 127.5,47.3"/></clipPath>
<polygon points="130.7,42.5 134.7,40.1 139.5,44.1 143.5,46.5 146.8,45.7 151.6,48.1 158.0,51.3 161.2,50.5 166.0,48.9 172.4,47.3 178.9,45.7 183.7,48.1 188.5,54.5 192.5,58.5 197.3,61.8 199.7,71.4 198.9,84.2 198.1,100.3 196.5,113.1 195.7,130.0 194.1,136.0 192.5,152.1 193.2,160.0 190.7,166.1 185.7,172.3 179.5,177.3 173.3,182.3 167.1,186.0 162.8,189.7 158.4,188.5 152.2,187.2 146.0,184.7 139.8,180.4 133.6,177.3 127.4,173.6 121.2,168.6 120.3,165.0 119.5,144.1 117.8,130.0 117.0,109.9 117.8,97.1 122.7,90.7 116.2,87.4 115.4,77.8 117.0,73.0 124.3,71.4 121.1,68.2 119.5,60.1 122.7,57.7 129.1,58.5 127.5,56.9 127.5,47.3" fill="url(#bt)" stroke="#5a5af8" stroke-width="2.2" stroke-dasharray="0.1,2.2" stroke-linecap="round" stroke-linejoin="round"/>
<g fill="#22227a" fill-opacity="0.78" filter="url(#bl1)" clip-path="url(#cl1)"><ellipse cx="145.7" cy="62.4" rx="6.2" ry="8.2"/><ellipse cx="151.8" cy="85.3" rx="7.1" ry="6.2"/><ellipse cx="184.6" cy="62.4" rx="6.2" ry="10.1"/><ellipse cx="177.3" cy="80.0" rx="6.2" ry="8.0"/><ellipse cx="145.7" cy="111.9" rx="6.2" ry="8.2"/><ellipse cx="153.5" cy="126.0" rx="5.2" ry="8.0"/><ellipse cx="170.3" cy="119.0" rx="6.2" ry="8.0"/><ellipse cx="181.0" cy="126.0" rx="6.1" ry="8.0"/><ellipse cx="135.0" cy="142.8" rx="6.1" ry="9.0"/><ellipse cx="156.2" cy="152.5" rx="6.0" ry="10.1"/><ellipse cx="173.9" cy="149.0" rx="6.1" ry="10.3"/><ellipse cx="178.2" cy="167.5" rx="7.2" ry="7.1"/><ellipse cx="142.1" cy="165.8" rx="6.1" ry="7.1"/><ellipse cx="129.0" cy="106.0" rx="4.6" ry="6.9"/></g>
<g fill="#efeca2"><circle cx="122.6" cy="145.6" r="1.1"/><circle cx="169.5" cy="163.2" r="1.1"/><circle cx="153.6" cy="165.6" r="1.1"/><circle cx="123.0" cy="144.2" r="1.1"/><circle cx="149.8" cy="185.9" r="1.1"/><circle cx="147.4" cy="127.0" r="1.1"/><circle cx="147.2" cy="175.0" r="1.1"/><circle cx="143.9" cy="176.5" r="1.1"/><circle cx="157.3" cy="174.4" r="1.1"/><circle cx="127.4" cy="115.5" r="1.1"/><circle cx="166.6" cy="183.3" r="1.1"/><circle cx="190.2" cy="166.0" r="1.1"/><circle cx="160.4" cy="187.8" r="1.1"/><circle cx="181.4" cy="175.7" r="1.1"/><circle cx="183.5" cy="170.3" r="1.1"/><circle cx="134.0" cy="174.5" r="1.1"/><circle cx="132.3" cy="172.3" r="1.1"/><circle cx="182.5" cy="168.7" r="1.1"/><circle cx="163.2" cy="188.7" r="1.1"/><circle cx="165.3" cy="185.6" r="1.1"/><circle cx="145.9" cy="184.5" r="1.1"/><circle cx="138.4" cy="174.6" r="1.1"/><circle cx="176.2" cy="178.9" r="1.1"/><circle cx="183.1" cy="171.0" r="1.1"/><circle cx="167.9" cy="182.9" r="1.1"/><circle cx="125.0" cy="165.7" r="1.1"/><circle cx="152.6" cy="183.2" r="1.1"/><circle cx="146.4" cy="182.8" r="1.1"/><circle cx="193.6" cy="136.8" r="1.1"/><circle cx="128.4" cy="172.3" r="1.1"/><circle cx="194.2" cy="132.3" r="1.1"/><circle cx="129.0" cy="174.0" r="1.1"/><circle cx="127.6" cy="173.0" r="1.1"/><circle cx="128.2" cy="169.6" r="1.1"/><circle cx="120.0" cy="155.3" r="1.1"/><circle cx="183.1" cy="171.8" r="1.1"/><circle cx="174.6" cy="180.8" r="1.1"/><circle cx="129.2" cy="173.8" r="1.1"/><circle cx="175.5" cy="180.4" r="1.1"/><circle cx="160.0" cy="188.0" r="1.1"/><circle cx="134.6" cy="176.0" r="1.1"/><circle cx="174.0" cy="180.4" r="1.1"/><circle cx="120.8" cy="165.5" r="1.1"/><circle cx="163.8" cy="187.9" r="1.1"/><circle cx="127.9" cy="172.0" r="1.1"/><circle cx="170.8" cy="179.4" r="1.1"/><circle cx="191.9" cy="159.8" r="1.1"/><circle cx="135.5" cy="175.1" r="1.1"/><circle cx="161.6" cy="187.8" r="1.1"/><circle cx="155.7" cy="184.5" r="1.1"/></g>
<g fill="#5a5af8"><circle cx="123.6" cy="172.5" r="1.2"/><circle cx="161.5" cy="190.3" r="1.2"/><circle cx="168.1" cy="189.0" r="1.2"/><circle cx="140.3" cy="182.1" r="1.2"/><circle cx="146.6" cy="189.1" r="1.2"/><circle cx="186.4" cy="172.1" r="1.2"/><circle cx="176.8" cy="180.6" r="1.2"/><circle cx="182.0" cy="176.0" r="1.2"/><circle cx="187.8" cy="170.2" r="1.2"/><circle cx="125.0" cy="174.4" r="1.2"/><circle cx="150.4" cy="187.8" r="1.2"/><circle cx="127.3" cy="173.7" r="1.2"/><circle cx="137.4" cy="181.9" r="1.2"/><circle cx="173.0" cy="186.1" r="1.2"/><circle cx="187.6" cy="170.9" r="1.2"/><circle cx="174.1" cy="186.5" r="1.2"/><circle cx="167.7" cy="190.1" r="1.2"/><circle cx="189.9" cy="168.6" r="1.2"/><circle cx="171.6" cy="188.9" r="1.2"/><circle cx="189.3" cy="169.1" r="1.2"/><circle cx="135.2" cy="180.8" r="1.2"/><circle cx="189.1" cy="170.1" r="1.2"/><circle cx="141.5" cy="182.2" r="1.2"/><circle cx="169.2" cy="184.8" r="1.2"/><circle cx="190.0" cy="169.1" r="1.2"/><circle cx="141.6" cy="185.2" r="1.2"/><circle cx="127.7" cy="174.7" r="1.2"/><circle cx="132.0" cy="178.1" r="1.2"/><circle cx="179.7" cy="179.3" r="1.2"/><circle cx="186.3" cy="173.3" r="1.2"/></g>
<g fill="#fff"><circle cx="195.9" cy="120.6" r="1.6"/><circle cx="163.0" cy="51.0" r="0.9"/><circle cx="192.2" cy="58.4" r="1.0"/><circle cx="156.2" cy="51.6" r="1.0"/><circle cx="122.1" cy="142.3" r="1.5"/><circle cx="194.9" cy="119.6" r="1.5"/><circle cx="148.2" cy="51.5" r="1.5"/><circle cx="117.2" cy="87.0" r="1.4"/><circle cx="195.2" cy="120.2" r="1.5"/><circle cx="137.1" cy="45.1" r="1.1"/><circle cx="190.3" cy="153.9" r="1.0"/><circle cx="194.1" cy="112.6" r="0.9"/><circle cx="197.0" cy="69.6" r="1.0"/><circle cx="149.3" cy="52.5" r="1.2"/><circle cx="145.8" cy="48.6" r="1.2"/><circle cx="198.0" cy="86.9" r="1.4"/><circle cx="191.8" cy="148.0" r="0.8"/><circle cx="191.2" cy="163.5" r="1.1"/><circle cx="163.1" cy="50.4" r="1.3"/><circle cx="198.2" cy="73.2" r="1.5"/><circle cx="178.9" cy="48.9" r="1.5"/><circle cx="196.4" cy="96.4" r="1.5"/><circle cx="130.7" cy="43.9" r="1.0"/><circle cx="195.3" cy="129.2" r="0.9"/><circle cx="196.5" cy="94.1" r="1.3"/><circle cx="119.5" cy="124.2" r="1.1"/><circle cx="150.8" cy="52.4" r="1.5"/><circle cx="129.0" cy="47.4" r="1.2"/><circle cx="127.9" cy="48.0" r="1.3"/><circle cx="117.7" cy="99.7" r="0.9"/></g>
<ellipse cx="128.9" cy="87.1" rx="4.5" ry="5.3" fill="#fff"/>
<ellipse cx="123.5" cy="70.2" rx="4.5" ry="6.2" fill="#fff"/>
<ellipse cx="118.3" cy="75.7" rx="2.7" ry="6.1" fill="#fff"/>
<ellipse cx="123.6" cy="126.0" rx="2.6" ry="3.5" fill="#fff"/>
<ellipse cx="131.9" cy="126.0" rx="2.2" ry="3.5" fill="#fff"/>
<ellipse cx="120.1" cy="103.0" rx="2.6" ry="9.0" fill="#fff"/>
<ellipse cx="138.6" cy="56.2" rx="1.8" ry="4.4" fill="#fff"/>
<ellipse cx="125.3" cy="54.3" rx="2.6" ry="6.3" fill="#fff"/>
<polyline points="123.5,223.6 111.4,43.8 163.6,57.3 201.0,39.3 192.5,218.0 161.2,246.1 123.5,223.6" fill="none" stroke="#111" stroke-width="1"/>
<line x1="163.6" y1="57.3" x2="161.2" y2="246.1" stroke="#111" stroke-width="1"/>
<polyline points="217.7,41.7 258.5,25.6 307.6,36.9" fill="none" stroke="#111" stroke-width="1"/>
<line x1="258.5" y1="25.6" x2="259.0" y2="198.2" stroke="#111" stroke-width="1"/>
<polygon points="229.3,224.7 267.8,245.6 267.8,242.7 229.1,221.9" fill="rgb(133,42,144)" stroke="rgb(133,42,144)" stroke-width="0.5"/>
<polygon points="267.8,245.6 297.5,219.1 297.7,216.3 267.8,242.7" fill="rgb(133,42,144)" stroke="rgb(133,42,144)" stroke-width="0.5"/>
<polygon points="229.1,221.9 267.8,242.7 267.9,239.7 228.9,219.0" fill="rgb(155,48,143)" stroke="rgb(155,48,143)" stroke-width="0.5"/>
<polygon points="267.8,242.7 297.7,216.3 297.8,213.5 267.9,239.7" fill="rgb(155,48,143)" stroke="rgb(155,48,143)" stroke-width="0.5"/>
<polygon points="228.9,219.0 267.9,239.7 267.9,236.8 228.8,216.2" fill="rgb(169,53,135)" stroke="rgb(169,53,135)" stroke-width="0.5"/>
<polygon points="267.9,239.7 297.8,213.5 298.0,210.6 267.9,236.8" fill="rgb(169,53,135)" stroke="rgb(169,53,135)" stroke-width="0.5"/>
<polygon points="228.8,216.2 267.9,236.8 267.9,233.8 228.6,213.4" fill="rgb(181,57,129)" stroke="rgb(181,57,129)" stroke-width="0.5"/>
<polygon points="267.9,236.8 298.0,210.6 298.1,207.8 267.9,233.8" fill="rgb(181,57,129)" stroke="rgb(181,57,129)" stroke-width="0.5"/>
<polygon points="228.6,213.4 267.9,233.8 267.9,230.9 228.4,210.5" fill="rgb(197,62,120)" stroke="rgb(197,62,120)" stroke-width="0.5"/>
<polygon points="267.9,233.8 298.1,207.8 298.3,205.0 267.9,230.9" fill="rgb(197,62,120)" stroke="rgb(197,62,120)" stroke-width="0.5"/>
<polygon points="228.4,210.5 267.9,230.9 268.0,227.9 228.2,207.7" fill="rgb(214,68,110)" stroke="rgb(214,68,110)" stroke-width="0.5"/>
<polygon points="267.9,230.9 298.3,205.0 298.4,202.2 268.0,227.9" fill="rgb(214,68,110)" stroke="rgb(214,68,110)" stroke-width="0.5"/>
<polygon points="228.2,207.7 268.0,227.9 268.0,225.0 228.0,204.8" fill="rgb(223,76,103)" stroke="rgb(223,76,103)" stroke-width="0.5"/>
<polygon points="268.0,227.9 298.4,202.2 298.6,199.3 268.0,225.0" fill="rgb(223,76,103)" stroke="rgb(223,76,103)" stroke-width="0.5"/>
<polygon points="228.0,204.8 268.0,225.0 268.0,222.0 227.9,202.0" fill="rgb(231,84,96)" stroke="rgb(231,84,96)" stroke-width="0.5"/>
<polygon points="268.0,225.0 298.6,199.3 298.8,196.5 268.0,222.0" fill="rgb(231,84,96)" stroke="rgb(231,84,96)" stroke-width="0.5"/>
<polygon points="227.9,202.0 268.0,222.0 268.1,219.1 227.7,199.2" fill="rgb(234,97,96)" stroke="rgb(234,97,96)" stroke-width="0.5"/>
<polygon points="268.0,222.0 298.8,196.5 298.9,193.7 268.1,219.1" fill="rgb(234,97,96)" stroke="rgb(234,97,96)" stroke-width="0.5"/>
<polygon points="227.7,199.2 268.1,219.1 268.1,216.1 227.5,196.3" fill="rgb(237,111,96)" stroke="rgb(237,111,96)" stroke-width="0.5"/>
<polygon points="268.1,219.1 298.9,193.7 299.1,190.9 268.1,216.1" fill="rgb(237,111,96)" stroke="rgb(237,111,96)" stroke-width="0.5"/>
<polygon points="227.5,196.3 268.1,216.1 268.1,213.2 227.3,193.5" fill="rgb(237,128,101)" stroke="rgb(237,128,101)" stroke-width="0.5"/>
<polygon points="268.1,216.1 299.1,190.9 299.2,188.0 268.1,213.2" fill="rgb(237,128,101)" stroke="rgb(237,128,101)" stroke-width="0.5"/>
<polygon points="227.3,193.5 268.1,213.2 268.2,210.2 227.1,190.7" fill="rgb(236,145,107)" stroke="rgb(236,145,107)" stroke-width="0.5"/>
<polygon points="268.1,213.2 299.2,188.0 299.4,185.2 268.2,210.2" fill="rgb(236,145,107)" stroke="rgb(236,145,107)" stroke-width="0.5"/>
<polygon points="227.1,190.7 268.2,210.2 268.2,207.3 227.0,187.8" fill="rgb(236,163,114)" stroke="rgb(236,163,114)" stroke-width="0.5"/>
<polygon points="268.2,210.2 299.4,185.2 299.5,182.4 268.2,207.3" fill="rgb(236,163,114)" stroke="rgb(236,163,114)" stroke-width="0.5"/>
<polygon points="227.0,187.8 268.2,207.3 268.2,204.3 226.8,185.0" fill="rgb(236,181,128)" stroke="rgb(236,181,128)" stroke-width="0.5"/>
<polygon points="268.2,207.3 299.5,182.4 299.7,179.6 268.2,204.3" fill="rgb(236,181,128)" stroke="rgb(236,181,128)" stroke-width="0.5"/>
<polygon points="226.8,185.0 268.2,204.3 268.2,201.4 226.6,182.2" fill="rgb(236,196,139)" stroke="rgb(236,196,139)" stroke-width="0.5"/>
<polygon points="268.2,204.3 299.7,179.6 299.8,176.7 268.2,201.4" fill="rgb(236,196,139)" stroke="rgb(236,196,139)" stroke-width="0.5"/>
<polygon points="226.6,182.2 268.2,201.4 268.3,198.4 226.4,179.3" fill="rgb(236,209,149)" stroke="rgb(236,209,149)" stroke-width="0.5"/>
<polygon points="268.2,201.4 299.8,176.7 300.0,173.9 268.3,198.4" fill="rgb(236,209,149)" stroke="rgb(236,209,149)" stroke-width="0.5"/>
<polygon points="226.4,179.3 268.3,198.4 268.3,195.5 226.2,176.5" fill="rgb(238,218,155)" stroke="rgb(238,218,155)" stroke-width="0.5"/>
<polygon points="268.3,198.4 300.0,173.9 300.2,171.1 268.3,195.5" fill="rgb(238,218,155)" stroke="rgb(238,218,155)" stroke-width="0.5"/>
<polygon points="226.2,176.5 268.3,195.5 268.3,192.5 226.1,173.6" fill="rgb(240,226,161)" stroke="rgb(240,226,161)" stroke-width="0.5"/>
<polygon points="268.3,195.5 300.2,171.1 300.3,168.3 268.3,192.5" fill="rgb(240,226,161)" stroke="rgb(240,226,161)" stroke-width="0.5"/>
<polygon points="226.1,173.6 268.3,192.5 268.4,189.6 225.9,170.8" fill="rgb(241,234,167)" stroke="rgb(241,234,167)" stroke-width="0.5"/>
<polygon points="268.3,192.5 300.3,168.3 300.5,165.4 268.4,189.6" fill="rgb(241,234,167)" stroke="rgb(241,234,167)" stroke-width="0.5"/>
<polygon points="225.9,170.8 268.4,189.6 268.4,186.6 225.7,168.0" fill="rgb(243,242,173)" stroke="rgb(243,242,173)" stroke-width="0.5"/>
<polygon points="268.4,189.6 300.5,165.4 300.6,162.6 268.4,186.6" fill="rgb(243,242,173)" stroke="rgb(243,242,173)" stroke-width="0.5"/>
<polygon points="225.7,168.0 268.4,186.6 300.6,162.6 258.8,144.7" fill="rgb(244, 247, 176)"/>
<polygon points="229.3,224.7 267.8,245.6 268.4,186.6 225.7,168.0" fill="url(#stl)"/>
<polygon points="267.8,245.6 297.5,219.1 300.6,162.6 268.4,186.6" fill="url(#str)"/>
<clipPath id="cl2"><polygon points="235.7,60.1 238.1,56.1 243.7,52.9 248.5,55.3 250.9,60.1 256.6,62.6 261.4,65.0 263.8,73.0 267.0,77.0 269.4,79.4 274.2,81.0 277.4,79.4 280.7,73.0 281.5,65.0 283.9,62.6 288.7,65.0 292.7,68.2 293.5,74.6 295.1,79.4 301.5,79.4 304.7,81.0 304.0,84.2 301.5,87.4 300.7,93.9 302.3,106.7 301.5,116.4 299.9,132.4 299.9,146.1 297.5,163.0 295.1,171.0 291.9,176.0 285.5,182.0 279.1,186.0 275.0,189.5 272.0,192.0 268.6,196.0 265.0,192.5 260.0,188.5 255.0,185.4 250.0,183.0 245.0,180.0 240.0,180.5 235.0,182.0 230.0,181.0 226.1,181.0 225.3,154.1 225.3,130.0 225.3,122.8 223.7,109.9 225.3,100.3 222.8,92.3 221.2,87.4 226.1,89.0 228.5,92.3 232.5,87.4 230.1,82.6 229.3,74.6 231.7,66.6"/></clipPath>
<polygon points="235.7,60.1 238.1,56.1 243.7,52.9 248.5,55.3 250.9,60.1 256.6,62.6 261.4,65.0 263.8,73.0 267.0,77.0 269.4,79.4 274.2,81.0 277.4,79.4 280.7,73.0 281.5,65.0 283.9,62.6 288.7,65.0 292.7,68.2 293.5,74.6 295.1,79.4 301.5,79.4 304.7,81.0 304.0,84.2 301.5,87.4 300.7,93.9 302.3,106.7 301.5,116.4 299.9,132.4 299.9,146.1 297.5,163.0 295.1,171.0 291.9,176.0 285.5,182.0 279.1,186.0 275.0,189.5 272.0,192.0 268.6,196.0 265.0,192.5 260.0,188.5 255.0,185.4 250.0,183.0 245.0,180.0 240.0,180.5 235.0,182.0 230.0,181.0 226.1,181.0 225.3,154.1 225.3,130.0 225.3,122.8 223.7,109.9 225.3,100.3 222.8,92.3 221.2,87.4 226.1,89.0 228.5,92.3 232.5,87.4 230.1,82.6 229.3,74.6 231.7,66.6" fill="url(#bt)" stroke="#5a5af8" stroke-width="2.2" stroke-dasharray="0.1,2.2" stroke-linecap="round" stroke-linejoin="round"/>
<g fill="#22227a" fill-opacity="0.78" filter="url(#bl1)" clip-path="url(#cl2)"><ellipse cx="247.4" cy="82.1" rx="7.8" ry="6.5"/><ellipse cx="262.0" cy="90.0" rx="6.5" ry="7.8"/><ellipse cx="283.5" cy="94.5" rx="7.8" ry="7.8"/><ellipse cx="238.3" cy="123.8" rx="7.8" ry="10.4"/><ellipse cx="257.6" cy="136.2" rx="6.4" ry="11.7"/><ellipse cx="280.1" cy="144.2" rx="6.5" ry="12.9"/><ellipse cx="291.4" cy="119.3" rx="6.4" ry="10.4"/><ellipse cx="244.1" cy="160.0" rx="6.5" ry="10.3"/><ellipse cx="266.6" cy="164.4" rx="6.4" ry="10.4"/><ellipse cx="283.5" cy="170.1" rx="7.8" ry="9.1"/><ellipse cx="247.0" cy="65.0" rx="5.8" ry="5.8"/></g>
<g fill="#efeca2"><circle cx="282.7" cy="135.2" r="1.1"/><circle cx="241.2" cy="156.3" r="1.1"/><circle cx="280.3" cy="150.6" r="1.1"/><circle cx="243.2" cy="144.8" r="1.1"/><circle cx="287.8" cy="144.2" r="1.1"/><circle cx="240.5" cy="165.9" r="1.1"/><circle cx="256.3" cy="119.7" r="1.1"/><circle cx="268.4" cy="158.2" r="1.1"/><circle cx="268.8" cy="192.9" r="1.1"/><circle cx="275.1" cy="162.0" r="1.1"/><circle cx="278.9" cy="182.5" r="1.1"/><circle cx="245.1" cy="168.8" r="1.1"/><circle cx="295.3" cy="124.6" r="1.1"/><circle cx="230.9" cy="110.2" r="1.1"/><circle cx="260.3" cy="188.1" r="1.1"/><circle cx="296.9" cy="160.4" r="1.1"/><circle cx="275.9" cy="188.0" r="1.1"/><circle cx="279.4" cy="184.6" r="1.1"/><circle cx="235.3" cy="177.5" r="1.1"/><circle cx="291.4" cy="175.4" r="1.1"/><circle cx="241.3" cy="178.7" r="1.1"/><circle cx="269.6" cy="190.5" r="1.1"/><circle cx="287.7" cy="175.8" r="1.1"/><circle cx="276.2" cy="188.0" r="1.1"/><circle cx="272.8" cy="190.4" r="1.1"/><circle cx="235.7" cy="176.1" r="1.1"/><circle cx="266.0" cy="189.1" r="1.1"/><circle cx="242.7" cy="175.4" r="1.1"/><circle cx="286.0" cy="177.6" r="1.1"/><circle cx="261.1" cy="189.0" r="1.1"/><circle cx="236.3" cy="180.1" r="1.1"/><circle cx="251.3" cy="182.7" r="1.1"/><circle cx="289.2" cy="176.6" r="1.1"/><circle cx="243.3" cy="174.9" r="1.1"/><circle cx="282.4" cy="179.9" r="1.1"/><circle cx="267.2" cy="191.7" r="1.1"/><circle cx="229.5" cy="176.3" r="1.1"/><circle cx="291.9" cy="173.2" r="1.1"/><circle cx="243.1" cy="178.5" r="1.1"/><circle cx="242.6" cy="178.4" r="1.1"/><circle cx="296.7" cy="164.7" r="1.1"/><circle cx="256.3" cy="183.2" r="1.1"/><circle cx="299.2" cy="146.9" r="1.1"/><circle cx="235.4" cy="179.1" r="1.1"/><circle cx="257.6" cy="184.3" r="1.1"/><circle cx="289.6" cy="177.0" r="1.1"/><circle cx="277.6" cy="184.7" r="1.1"/><circle cx="268.5" cy="195.6" r="1.1"/><circle cx="267.8" cy="190.4" r="1.1"/><circle cx="285.6" cy="180.2" r="1.1"/><circle cx="290.7" cy="174.6" r="1.1"/><circle cx="226.1" cy="180.1" r="1.1"/><circle cx="287.5" cy="174.8" r="1.1"/><circle cx="282.4" cy="183.7" r="1.1"/></g>
<g fill="#5a5af8"><circle cx="252.6" cy="188.1" r="1.2"/><circle cx="247.2" cy="186.9" r="1.2"/><circle cx="287.5" cy="180.7" r="1.2"/><circle cx="253.8" cy="186.0" r="1.2"/><circle cx="289.2" cy="179.5" r="1.2"/><circle cx="240.8" cy="185.9" r="1.2"/><circle cx="285.6" cy="184.9" r="1.2"/><circle cx="252.1" cy="187.8" r="1.2"/><circle cx="256.6" cy="188.5" r="1.2"/><circle cx="287.1" cy="184.6" r="1.2"/><circle cx="285.0" cy="184.5" r="1.2"/><circle cx="265.5" cy="193.6" r="1.2"/><circle cx="228.6" cy="186.0" r="1.2"/><circle cx="239.2" cy="180.8" r="1.2"/><circle cx="268.3" cy="196.3" r="1.2"/><circle cx="245.8" cy="181.5" r="1.2"/><circle cx="297.2" cy="168.3" r="1.2"/><circle cx="258.3" cy="188.8" r="1.2"/><circle cx="263.4" cy="191.3" r="1.2"/><circle cx="243.3" cy="185.6" r="1.2"/><circle cx="286.1" cy="183.5" r="1.2"/><circle cx="295.2" cy="170.9" r="1.2"/><circle cx="232.6" cy="185.2" r="1.2"/><circle cx="261.5" cy="192.0" r="1.2"/><circle cx="248.8" cy="182.4" r="1.2"/><circle cx="296.5" cy="167.5" r="1.2"/><circle cx="239.0" cy="183.8" r="1.2"/><circle cx="246.5" cy="183.2" r="1.2"/><circle cx="278.6" cy="187.4" r="1.2"/><circle cx="282.8" cy="187.2" r="1.2"/></g>
<g fill="#fff"><circle cx="258.6" cy="64.1" r="1.1"/><circle cx="228.3" cy="148.1" r="1.2"/><circle cx="274.9" cy="81.8" r="1.2"/><circle cx="226.2" cy="104.4" r="1.2"/><circle cx="230.9" cy="168.8" r="1.0"/><circle cx="226.8" cy="125.8" r="1.1"/><circle cx="262.5" cy="71.1" r="1.1"/><circle cx="227.1" cy="139.6" r="1.4"/><circle cx="228.0" cy="94.6" r="1.1"/><circle cx="298.6" cy="148.2" r="1.3"/><circle cx="293.6" cy="166.5" r="1.5"/><circle cx="237.6" cy="87.3" r="1.6"/><circle cx="227.4" cy="138.1" r="1.1"/><circle cx="228.0" cy="167.0" r="1.0"/><circle cx="227.3" cy="105.9" r="0.8"/><circle cx="297.6" cy="108.4" r="1.4"/><circle cx="229.7" cy="128.4" r="1.1"/><circle cx="298.9" cy="90.7" r="1.1"/><circle cx="293.5" cy="171.0" r="0.9"/><circle cx="298.2" cy="103.6" r="1.1"/><circle cx="270.8" cy="82.1" r="0.8"/><circle cx="283.4" cy="73.8" r="0.8"/><circle cx="274.8" cy="82.5" r="0.9"/><circle cx="292.9" cy="73.0" r="1.4"/><circle cx="227.4" cy="137.1" r="1.2"/><circle cx="299.3" cy="123.5" r="1.1"/><circle cx="226.2" cy="169.7" r="0.9"/><circle cx="225.6" cy="132.8" r="1.2"/><circle cx="298.0" cy="79.4" r="1.2"/><circle cx="298.9" cy="106.3" r="0.9"/></g>
<ellipse cx="225.9" cy="90.0" rx="3.4" ry="4.5" fill="#fff"/>
<ellipse cx="229.4" cy="110.3" rx="4.5" ry="4.5" fill="#fff"/>
<ellipse cx="232.7" cy="132.9" rx="3.4" ry="4.5" fill="#fff"/>
<polyline points="229.3,224.7 217.7,41.7 269.7,55.3 307.6,36.9 297.5,219.1 267.8,245.6 229.3,224.7" fill="none" stroke="#111" stroke-width="1"/>
<line x1="269.7" y1="55.3" x2="267.8" y2="245.6" stroke="#111" stroke-width="1"/>
<polyline points="330.6,40.6 372.4,23.5 423.0,35.7" fill="none" stroke="#111" stroke-width="1"/>
<line x1="372.4" y1="23.5" x2="373.2" y2="198.4" stroke="#111" stroke-width="1"/>
<polygon points="342.7,225.7 382.0,247.4 382.0,244.4 342.5,222.8" fill="rgb(133,42,144)" stroke="rgb(133,42,144)" stroke-width="0.5"/>
<polygon points="382.0,247.4 412.5,220.1 412.7,217.2 382.0,244.4" fill="rgb(133,42,144)" stroke="rgb(133,42,144)" stroke-width="0.5"/>
<polygon points="342.5,222.8 382.0,244.4 382.0,241.4 342.3,220.0" fill="rgb(155,48,143)" stroke="rgb(155,48,143)" stroke-width="0.5"/>
<polygon points="382.0,244.4 412.7,217.2 412.8,214.4 382.0,241.4" fill="rgb(155,48,143)" stroke="rgb(155,48,143)" stroke-width="0.5"/>
<polygon points="342.3,220.0 382.0,241.4 382.1,238.4 342.1,217.1" fill="rgb(169,53,135)" stroke="rgb(169,53,135)" stroke-width="0.5"/>
<polygon points="382.0,241.4 412.8,214.4 413.0,211.5 382.1,238.4" fill="rgb(169,53,135)" stroke="rgb(169,53,135)" stroke-width="0.5"/>
<polygon points="342.1,217.1 382.1,238.4 382.1,235.4 341.9,214.2" fill="rgb(181,57,129)" stroke="rgb(181,57,129)" stroke-width="0.5"/>
<polygon points="382.1,238.4 413.0,211.5 413.2,208.7 382.1,235.4" fill="rgb(181,57,129)" stroke="rgb(181,57,129)" stroke-width="0.5"/>
<polygon points="341.9,214.2 382.1,235.4 382.1,232.4 341.8,211.4" fill="rgb(197,62,120)" stroke="rgb(197,62,120)" stroke-width="0.5"/>
<polygon points="382.1,235.4 413.2,208.7 413.3,205.8 382.1,232.4" fill="rgb(197,62,120)" stroke="rgb(197,62,120)" stroke-width="0.5"/>
<polygon points="341.8,211.4 382.1,232.4 382.1,229.4 341.6,208.5" fill="rgb(214,68,110)" stroke="rgb(214,68,110)" stroke-width="0.5"/>
<polygon points="382.1,232.4 413.3,205.8 413.5,203.0 382.1,229.4" fill="rgb(214,68,110)" stroke="rgb(214,68,110)" stroke-width="0.5"/>
<polygon points="341.6,208.5 382.1,229.4 382.2,226.4 341.4,205.6" fill="rgb(223,76,103)" stroke="rgb(223,76,103)" stroke-width="0.5"/>
<polygon points="382.1,229.4 413.5,203.0 413.6,200.1 382.2,226.4" fill="rgb(223,76,103)" stroke="rgb(223,76,103)" stroke-width="0.5"/>
<polygon points="341.4,205.6 382.2,226.4 382.2,223.4 341.2,202.7" fill="rgb(231,84,96)" stroke="rgb(231,84,96)" stroke-width="0.5"/>
<polygon points="382.2,226.4 413.6,200.1 413.8,197.2 382.2,223.4" fill="rgb(231,84,96)" stroke="rgb(231,84,96)" stroke-width="0.5"/>
<polygon points="341.2,202.7 382.2,223.4 382.2,220.4 341.0,199.9" fill="rgb(234,97,96)" stroke="rgb(234,97,96)" stroke-width="0.5"/>
<polygon points="382.2,223.4 413.8,197.2 414.0,194.4 382.2,220.4" fill="rgb(234,97,96)" stroke="rgb(234,97,96)" stroke-width="0.5"/>
<polygon points="341.0,199.9 382.2,220.4 382.2,217.4 340.8,197.0" fill="rgb(237,111,96)" stroke="rgb(237,111,96)" stroke-width="0.5"/>
<polygon points="382.2,220.4 414.0,194.4 414.1,191.5 382.2,217.4" fill="rgb(237,111,96)" stroke="rgb(237,111,96)" stroke-width="0.5"/>
<polygon points="340.8,197.0 382.2,217.4 382.3,214.4 340.6,194.1" fill="rgb(237,128,101)" stroke="rgb(237,128,101)" stroke-width="0.5"/>
<polygon points="382.2,217.4 414.1,191.5 414.3,188.7 382.3,214.4" fill="rgb(237,128,101)" stroke="rgb(237,128,101)" stroke-width="0.5"/>
<polygon points="340.6,194.1 382.3,214.4 382.3,211.4 340.4,191.3" fill="rgb(236,145,107)" stroke="rgb(236,145,107)" stroke-width="0.5"/>
<polygon points="382.3,214.4 414.3,188.7 414.5,185.8 382.3,211.4" fill="rgb(236,145,107)" stroke="rgb(236,145,107)" stroke-width="0.5"/>
<polygon points="340.4,191.3 382.3,211.4 382.3,208.4 340.3,188.4" fill="rgb(236,163,114)" stroke="rgb(236,163,114)" stroke-width="0.5"/>
<polygon points="382.3,211.4 414.5,185.8 414.6,182.9 382.3,208.4" fill="rgb(236,163,114)" stroke="rgb(236,163,114)" stroke-width="0.5"/>
<polygon points="340.3,188.4 382.3,208.4 382.3,205.4 340.1,185.5" fill="rgb(236,181,128)" stroke="rgb(236,181,128)" stroke-width="0.5"/>
<polygon points="382.3,208.4 414.6,182.9 414.8,180.1 382.3,205.4" fill="rgb(236,181,128)" stroke="rgb(236,181,128)" stroke-width="0.5"/>
<polygon points="340.1,185.5 382.3,205.4 382.4,202.4 339.9,182.7" fill="rgb(236,196,139)" stroke="rgb(236,196,139)" stroke-width="0.5"/>
<polygon points="382.3,205.4 414.8,180.1 414.9,177.2 382.4,202.4" fill="rgb(236,196,139)" stroke="rgb(236,196,139)" stroke-width="0.5"/>
<polygon points="339.9,182.7 382.4,202.4 382.4,199.4 339.7,179.8" fill="rgb(236,209,149)" stroke="rgb(236,209,149)" stroke-width="0.5"/>
<polygon points="382.4,202.4 414.9,177.2 415.1,174.4 382.4,199.4" fill="rgb(236,209,149)" stroke="rgb(236,209,149)" stroke-width="0.5"/>
<polygon points="339.7,179.8 382.4,199.4 382.4,196.4 339.5,176.9" fill="rgb(238,218,155)" stroke="rgb(238,218,155)" stroke-width="0.5"/>
<polygon points="382.4,199.4 415.1,174.4 415.3,171.5 382.4,196.4" fill="rgb(238,218,155)" stroke="rgb(238,218,155)" stroke-width="0.5"/>
<polygon points="339.5,176.9 382.4,196.4 382.4,193.4 339.3,174.1" fill="rgb(240,226,161)" stroke="rgb(240,226,161)" stroke-width="0.5"/>
<polygon points="382.4,196.4 415.3,171.5 415.4,168.7 382.4,193.4" fill="rgb(240,226,161)" stroke="rgb(240,226,161)" stroke-width="0.5"/>
<polygon points="339.3,174.1 382.4,193.4 382.5,190.4 339.1,171.2" fill="rgb(241,234,167)" stroke="rgb(241,234,167)" stroke-width="0.5"/>
<polygon points="382.4,193.4 415.4,168.7 415.6,165.8 382.5,190.4" fill="rgb(241,234,167)" stroke="rgb(241,234,167)" stroke-width="0.5"/>
<polygon points="339.1,171.2 382.5,190.4 382.5,187.4 338.9,168.3" fill="rgb(243,242,173)" stroke="rgb(243,242,173)" stroke-width="0.5"/>
<polygon points="382.5,190.4 415.6,165.8 415.8,162.9 382.5,187.4" fill="rgb(243,242,173)" stroke="rgb(243,242,173)" stroke-width="0.5"/>
<polygon points="338.9,168.3 382.5,187.4 415.8,162.9 373.0,144.2" fill="rgb(244, 247, 176)"/>
<polygon points="342.7,225.7 382.0,247.4 382.5,187.4 338.9,168.3" fill="url(#stl)"/>
<polygon points="382.0,247.4 412.5,220.1 415.8,162.9 382.5,187.4" fill="url(#str)"/>
<clipPath id="cl3"><polygon points="337.0,123.7 344.3,119.7 346.7,116.5 353.1,110.9 358.7,108.5 363.5,104.5 370.0,101.2 374.8,102.0 379.6,107.7 382.0,113.3 385.2,117.3 387.6,110.9 392.4,110.9 397.3,114.1 402.1,115.7 406.9,114.9 411.7,112.5 417.3,118.1 415.7,123.7 414.9,135.0 414.1,154.2 413.3,170.3 413.2,172.4 410.7,176.1 405.7,179.9 399.5,184.8 393.3,188.5 387.1,193.5 382.8,199.7 378.4,196.0 372.2,193.5 366.0,191.0 359.8,188.5 353.6,184.8 347.4,179.9 341.2,177.4 340.3,177.4 338.7,154.2 337.8,138.2"/></clipPath>
<polygon points="337.0,123.7 344.3,119.7 346.7,116.5 353.1,110.9 358.7,108.5 363.5,104.5 370.0,101.2 374.8,102.0 379.6,107.7 382.0,113.3 385.2,117.3 387.6,110.9 392.4,110.9 397.3,114.1 402.1,115.7 406.9,114.9 411.7,112.5 417.3,118.1 415.7,123.7 414.9,135.0 414.1,154.2 413.3,170.3 413.2,172.4 410.7,176.1 405.7,179.9 399.5,184.8 393.3,188.5 387.1,193.5 382.8,199.7 378.4,196.0 372.2,193.5 366.0,191.0 359.8,188.5 353.6,184.8 347.4,179.9 341.2,177.4 340.3,177.4 338.7,154.2 337.8,138.2" fill="url(#bt)" stroke="#5a5af8" stroke-width="2.2" stroke-dasharray="0.1,2.2" stroke-linecap="round" stroke-linejoin="round"/>
<g fill="#22227a" fill-opacity="0.7" filter="url(#bl1)" clip-path="url(#cl3)"><ellipse cx="360.3" cy="143.0" rx="4.8" ry="5.0"/><ellipse cx="387.6" cy="134.9" rx="8.0" ry="6.5"/><ellipse cx="372.4" cy="126.9" rx="5.6" ry="4.9"/><ellipse cx="353.0" cy="130.2" rx="4.0" ry="4.9"/><ellipse cx="398.9" cy="144.5" rx="6.5" ry="6.5"/></g>
<g fill="#efeca2"><circle cx="413.9" cy="131.5" r="1.1"/><circle cx="351.8" cy="128.9" r="1.1"/><circle cx="389.3" cy="153.3" r="1.1"/><circle cx="408.4" cy="142.2" r="1.1"/><circle cx="414.0" cy="150.9" r="1.1"/><circle cx="385.3" cy="195.6" r="1.1"/><circle cx="393.9" cy="117.2" r="1.1"/><circle cx="407.8" cy="172.9" r="1.1"/><circle cx="361.9" cy="137.6" r="1.1"/><circle cx="405.2" cy="172.4" r="1.1"/><circle cx="393.1" cy="174.6" r="1.1"/><circle cx="362.1" cy="186.1" r="1.1"/><circle cx="390.6" cy="137.0" r="1.1"/><circle cx="340.9" cy="168.6" r="1.1"/><circle cx="377.7" cy="167.5" r="1.1"/><circle cx="369.9" cy="178.0" r="1.1"/><circle cx="410.6" cy="149.7" r="1.1"/><circle cx="367.0" cy="172.4" r="1.1"/><circle cx="360.9" cy="173.4" r="1.1"/><circle cx="380.6" cy="160.9" r="1.1"/><circle cx="365.4" cy="188.3" r="1.1"/><circle cx="397.2" cy="184.2" r="1.1"/><circle cx="401.3" cy="180.1" r="1.1"/><circle cx="410.7" cy="174.2" r="1.1"/><circle cx="361.7" cy="187.9" r="1.1"/><circle cx="386.7" cy="192.7" r="1.1"/><circle cx="355.8" cy="185.3" r="1.1"/><circle cx="392.0" cy="188.5" r="1.1"/><circle cx="385.0" cy="192.4" r="1.1"/><circle cx="390.1" cy="186.3" r="1.1"/><circle cx="378.1" cy="193.2" r="1.1"/><circle cx="373.1" cy="189.5" r="1.1"/><circle cx="370.2" cy="191.3" r="1.1"/><circle cx="387.1" cy="191.3" r="1.1"/><circle cx="378.4" cy="195.2" r="1.1"/><circle cx="363.0" cy="189.7" r="1.1"/><circle cx="389.1" cy="189.1" r="1.1"/><circle cx="356.8" cy="185.0" r="1.1"/><circle cx="382.0" cy="198.0" r="1.1"/><circle cx="381.8" cy="194.2" r="1.1"/><circle cx="411.4" cy="175.0" r="1.1"/><circle cx="359.8" cy="187.8" r="1.1"/><circle cx="340.0" cy="170.7" r="1.1"/><circle cx="408.5" cy="176.8" r="1.1"/><circle cx="406.0" cy="173.4" r="1.1"/><circle cx="341.1" cy="173.7" r="1.1"/><circle cx="352.7" cy="178.2" r="1.1"/><circle cx="345.9" cy="177.4" r="1.1"/><circle cx="378.1" cy="193.5" r="1.1"/><circle cx="381.9" cy="196.4" r="1.1"/><circle cx="340.0" cy="168.4" r="1.1"/><circle cx="369.6" cy="191.4" r="1.1"/><circle cx="403.9" cy="179.9" r="1.1"/><circle cx="352.3" cy="181.1" r="1.1"/><circle cx="413.2" cy="165.7" r="1.1"/><circle cx="403.3" cy="180.7" r="1.1"/><circle cx="357.2" cy="184.7" r="1.1"/><circle cx="341.6" cy="177.2" r="1.1"/><circle cx="383.8" cy="195.0" r="1.1"/><circle cx="404.4" cy="180.1" r="1.1"/></g>
<g fill="#5a5af8"><circle cx="369.3" cy="197.3" r="1.2"/><circle cx="383.9" cy="201.2" r="1.2"/><circle cx="350.8" cy="182.6" r="1.2"/><circle cx="367.3" cy="192.3" r="1.2"/><circle cx="413.3" cy="171.6" r="1.2"/><circle cx="340.9" cy="182.2" r="1.2"/><circle cx="411.2" cy="178.5" r="1.2"/><circle cx="397.8" cy="188.9" r="1.2"/><circle cx="361.6" cy="189.3" r="1.2"/><circle cx="380.2" cy="200.8" r="1.2"/><circle cx="343.9" cy="185.2" r="1.2"/><circle cx="396.3" cy="193.3" r="1.2"/><circle cx="339.7" cy="170.9" r="1.2"/><circle cx="409.2" cy="178.8" r="1.2"/><circle cx="368.8" cy="192.4" r="1.2"/><circle cx="375.4" cy="195.9" r="1.2"/><circle cx="340.2" cy="179.0" r="1.2"/><circle cx="404.7" cy="186.0" r="1.2"/><circle cx="388.5" cy="192.9" r="1.2"/><circle cx="400.7" cy="187.8" r="1.2"/><circle cx="382.2" cy="200.2" r="1.2"/><circle cx="410.1" cy="178.6" r="1.2"/><circle cx="387.7" cy="195.9" r="1.2"/><circle cx="376.8" cy="197.3" r="1.2"/><circle cx="368.5" cy="194.6" r="1.2"/><circle cx="345.4" cy="180.4" r="1.2"/><circle cx="370.6" cy="197.3" r="1.2"/><circle cx="371.4" cy="193.7" r="1.2"/><circle cx="348.9" cy="183.7" r="1.2"/><circle cx="389.7" cy="197.3" r="1.2"/></g>
<ellipse cx="372.4" cy="107.5" rx="4.0" ry="4.0" fill="#fff"/>
<ellipse cx="357.9" cy="116.3" rx="4.1" ry="3.3" fill="#fff"/>
<ellipse cx="392.4" cy="115.2" rx="3.2" ry="2.9" fill="#fff"/>
<ellipse cx="403.5" cy="118.5" rx="6.5" ry="2.0" fill="#fff"/>
<ellipse cx="349.1" cy="121.2" rx="3.2" ry="3.2" fill="#fff"/>
<polyline points="342.7,225.7 330.6,40.6 383.6,54.0 423.0,35.7 412.5,220.1 382.0,247.4 342.7,225.7" fill="none" stroke="#111" stroke-width="1"/>
<line x1="383.6" y1="54" x2="382" y2="247.4" stroke="#111" stroke-width="1"/>
<polyline points="448.0,38.0 490.6,21.3 542.0,32.8" fill="none" stroke="#111" stroke-width="1"/>
<line x1="490.6" y1="21.3" x2="490.6" y2="200.0" stroke="#111" stroke-width="1"/>
<polygon points="460.1,227.3 499.4,249.0 499.4,245.9 459.9,224.4" fill="rgb(133,42,144)" stroke="rgb(133,42,144)" stroke-width="0.5"/>
<polygon points="499.4,249.0 529.9,221.7 530.1,218.8 499.4,245.9" fill="rgb(133,42,144)" stroke="rgb(133,42,144)" stroke-width="0.5"/>
<polygon points="459.9,224.4 499.4,245.9 499.5,242.9 459.7,221.4" fill="rgb(155,48,143)" stroke="rgb(155,48,143)" stroke-width="0.5"/>
<polygon points="499.4,245.9 530.1,218.8 530.3,215.8 499.5,242.9" fill="rgb(155,48,143)" stroke="rgb(155,48,143)" stroke-width="0.5"/>
<polygon points="459.7,221.4 499.5,242.9 499.5,239.8 459.5,218.5" fill="rgb(169,53,135)" stroke="rgb(169,53,135)" stroke-width="0.5"/>
<polygon points="499.5,242.9 530.3,215.8 530.5,212.9 499.5,239.8" fill="rgb(169,53,135)" stroke="rgb(169,53,135)" stroke-width="0.5"/>
<polygon points="459.5,218.5 499.5,239.8 499.6,236.8 459.3,215.6" fill="rgb(181,57,129)" stroke="rgb(181,57,129)" stroke-width="0.5"/>
<polygon points="499.5,239.8 530.5,212.9 530.7,210.0 499.6,236.8" fill="rgb(181,57,129)" stroke="rgb(181,57,129)" stroke-width="0.5"/>
<polygon points="459.3,215.6 499.6,236.8 499.6,233.7 459.2,212.6" fill="rgb(197,62,120)" stroke="rgb(197,62,120)" stroke-width="0.5"/>
<polygon points="499.6,236.8 530.7,210.0 530.8,207.1 499.6,233.7" fill="rgb(197,62,120)" stroke="rgb(197,62,120)" stroke-width="0.5"/>
<polygon points="459.2,212.6 499.6,233.7 499.7,230.7 459.0,209.7" fill="rgb(214,68,110)" stroke="rgb(214,68,110)" stroke-width="0.5"/>
<polygon points="499.6,233.7 530.8,207.1 531.0,204.1 499.7,230.7" fill="rgb(214,68,110)" stroke="rgb(214,68,110)" stroke-width="0.5"/>
<polygon points="459.0,209.7 499.7,230.7 499.7,227.6 458.8,206.8" fill="rgb(223,76,103)" stroke="rgb(223,76,103)" stroke-width="0.5"/>
<polygon points="499.7,230.7 531.0,204.1 531.2,201.2 499.7,227.6" fill="rgb(223,76,103)" stroke="rgb(223,76,103)" stroke-width="0.5"/>
<polygon points="458.8,206.8 499.7,227.6 499.8,224.6 458.6,203.8" fill="rgb(231,84,96)" stroke="rgb(231,84,96)" stroke-width="0.5"/>
<polygon points="499.7,227.6 531.2,201.2 531.4,198.3 499.8,224.6" fill="rgb(231,84,96)" stroke="rgb(231,84,96)" stroke-width="0.5"/>
<polygon points="458.6,203.8 499.8,224.6 499.8,221.5 458.4,200.9" fill="rgb(234,97,96)" stroke="rgb(234,97,96)" stroke-width="0.5"/>
<polygon points="499.8,224.6 531.4,198.3 531.6,195.3 499.8,221.5" fill="rgb(234,97,96)" stroke="rgb(234,97,96)" stroke-width="0.5"/>
<polygon points="458.4,200.9 499.8,221.5 499.8,218.5 458.2,198.0" fill="rgb(237,111,96)" stroke="rgb(237,111,96)" stroke-width="0.5"/>
<polygon points="499.8,221.5 531.6,195.3 531.8,192.4 499.8,218.5" fill="rgb(237,111,96)" stroke="rgb(237,111,96)" stroke-width="0.5"/>
<polygon points="458.2,198.0 499.8,218.5 499.9,215.4 458.0,195.0" fill="rgb(237,128,101)" stroke="rgb(237,128,101)" stroke-width="0.5"/>
<polygon points="499.8,218.5 531.8,192.4 532.0,189.5 499.9,215.4" fill="rgb(237,128,101)" stroke="rgb(237,128,101)" stroke-width="0.5"/>
<polygon points="458.0,195.0 499.9,215.4 499.9,212.4 457.8,192.1" fill="rgb(236,145,107)" stroke="rgb(236,145,107)" stroke-width="0.5"/>
<polygon points="499.9,215.4 532.0,189.5 532.2,186.6 499.9,212.4" fill="rgb(236,145,107)" stroke="rgb(236,145,107)" stroke-width="0.5"/>
<polygon points="457.8,192.1 499.9,212.4 500.0,209.3 457.7,189.2" fill="rgb(236,163,114)" stroke="rgb(236,163,114)" stroke-width="0.5"/>
<polygon points="499.9,212.4 532.2,186.6 532.3,183.6 500.0,209.3" fill="rgb(236,163,114)" stroke="rgb(236,163,114)" stroke-width="0.5"/>
<polygon points="457.7,189.2 500.0,209.3 500.0,206.3 457.5,186.2" fill="rgb(236,181,128)" stroke="rgb(236,181,128)" stroke-width="0.5"/>
<polygon points="500.0,209.3 532.3,183.6 532.5,180.7 500.0,206.3" fill="rgb(236,181,128)" stroke="rgb(236,181,128)" stroke-width="0.5"/>
<polygon points="457.5,186.2 500.0,206.3 500.1,203.2 457.3,183.3" fill="rgb(236,196,139)" stroke="rgb(236,196,139)" stroke-width="0.5"/>
<polygon points="500.0,206.3 532.5,180.7 532.7,177.8 500.1,203.2" fill="rgb(236,196,139)" stroke="rgb(236,196,139)" stroke-width="0.5"/>
<polygon points="457.3,183.3 500.1,203.2 500.1,200.2 457.1,180.4" fill="rgb(236,209,149)" stroke="rgb(236,209,149)" stroke-width="0.5"/>
<polygon points="500.1,203.2 532.7,177.8 532.9,174.9 500.1,200.2" fill="rgb(236,209,149)" stroke="rgb(236,209,149)" stroke-width="0.5"/>
<polygon points="457.1,180.4 500.1,200.2 500.2,197.1 456.9,177.4" fill="rgb(238,218,155)" stroke="rgb(238,218,155)" stroke-width="0.5"/>
<polygon points="500.1,200.2 532.9,174.9 533.1,171.9 500.2,197.1" fill="rgb(238,218,155)" stroke="rgb(238,218,155)" stroke-width="0.5"/>
<polygon points="456.9,177.4 500.2,197.1 500.2,194.1 456.7,174.5" fill="rgb(240,226,161)" stroke="rgb(240,226,161)" stroke-width="0.5"/>
<polygon points="500.2,197.1 533.1,171.9 533.3,169.0 500.2,194.1" fill="rgb(240,226,161)" stroke="rgb(240,226,161)" stroke-width="0.5"/>
<polygon points="456.7,174.5 500.2,194.1 500.3,191.0 456.5,171.6" fill="rgb(241,234,167)" stroke="rgb(241,234,167)" stroke-width="0.5"/>
<polygon points="500.2,194.1 533.3,169.0 533.5,166.1 500.3,191.0" fill="rgb(241,234,167)" stroke="rgb(241,234,167)" stroke-width="0.5"/>
<polygon points="456.5,171.6 500.3,191.0 500.3,188.0 456.3,168.6" fill="rgb(243,242,173)" stroke="rgb(243,242,173)" stroke-width="0.5"/>
<polygon points="500.3,191.0 533.5,166.1 533.7,163.1 500.3,188.0" fill="rgb(243,242,173)" stroke="rgb(243,242,173)" stroke-width="0.5"/>
<polygon points="456.3,168.6 500.3,188.0 533.7,163.1 490.6,144.6" fill="rgb(244, 247, 176)"/>
<polygon points="460.1,227.3 499.4,249.0 500.3,188.0 456.3,168.6" fill="url(#stl)"/>
<polygon points="499.4,249.0 529.9,221.7 533.7,163.1 500.3,188.0" fill="url(#str)"/>
<clipPath id="cl4"><polygon points="456.1,128.5 460.9,122.1 467.3,118.1 476.9,115.7 486.6,114.1 493.0,111.7 499.4,110.9 505.8,114.1 512.3,116.5 518.7,114.9 525.1,117.3 531.5,122.1 535.5,130.1 534.7,146.2 533.9,162.3 532.3,171.9 526.7,176.7 520.3,183.1 513.9,188.0 507.4,194.4 502.6,202.4 499.4,205.6 494.6,199.2 488.2,192.8 480.1,188.0 472.1,184.7 464.1,183.1 459.3,179.9 457.7,170.3 456.9,154.2 456.1,138.2"/></clipPath>
<polygon points="456.1,128.5 460.9,122.1 467.3,118.1 476.9,115.7 486.6,114.1 493.0,111.7 499.4,110.9 505.8,114.1 512.3,116.5 518.7,114.9 525.1,117.3 531.5,122.1 535.5,130.1 534.7,146.2 533.9,162.3 532.3,171.9 526.7,176.7 520.3,183.1 513.9,188.0 507.4,194.4 502.6,202.4 499.4,205.6 494.6,199.2 488.2,192.8 480.1,188.0 472.1,184.7 464.1,183.1 459.3,179.9 457.7,170.3 456.9,154.2 456.1,138.2" fill="url(#bt)" stroke="#5a5af8" stroke-width="2.2" stroke-dasharray="0.1,2.2" stroke-linecap="round" stroke-linejoin="round"/>
<g fill="#22227a" fill-opacity="0.7" filter="url(#bl1)" clip-path="url(#cl4)"><ellipse cx="487.4" cy="131.5" rx="5.6" ry="6.5"/><ellipse cx="500.2" cy="120.5" rx="4.0" ry="6.5"/><ellipse cx="506.6" cy="137.2" rx="4.0" ry="4.2"/><ellipse cx="470.0" cy="130.0" rx="5.0" ry="5.0"/></g>
<g fill="#efeca2"><circle cx="499.6" cy="143.7" r="1.1"/><circle cx="523.2" cy="138.2" r="1.1"/><circle cx="496.6" cy="143.5" r="1.1"/><circle cx="464.3" cy="153.0" r="1.1"/><circle cx="473.9" cy="144.0" r="1.1"/><circle cx="504.4" cy="150.6" r="1.1"/><circle cx="514.1" cy="153.3" r="1.1"/><circle cx="469.6" cy="152.0" r="1.1"/><circle cx="488.5" cy="186.0" r="1.1"/><circle cx="500.8" cy="129.5" r="1.1"/><circle cx="509.6" cy="139.2" r="1.1"/><circle cx="496.7" cy="131.7" r="1.1"/><circle cx="488.7" cy="185.3" r="1.1"/><circle cx="497.0" cy="182.1" r="1.1"/><circle cx="516.2" cy="166.5" r="1.1"/><circle cx="507.3" cy="148.5" r="1.1"/><circle cx="505.2" cy="184.5" r="1.1"/><circle cx="485.3" cy="124.1" r="1.1"/><circle cx="468.0" cy="143.2" r="1.1"/><circle cx="461.6" cy="148.6" r="1.1"/><circle cx="489.1" cy="173.0" r="1.1"/><circle cx="508.5" cy="141.3" r="1.1"/><circle cx="525.6" cy="177.1" r="1.1"/><circle cx="532.8" cy="130.3" r="1.1"/><circle cx="528.4" cy="123.8" r="1.1"/><circle cx="513.6" cy="182.9" r="1.1"/><circle cx="506.0" cy="194.4" r="1.1"/><circle cx="531.4" cy="159.7" r="1.1"/><circle cx="491.8" cy="132.7" r="1.1"/><circle cx="458.3" cy="129.1" r="1.1"/><circle cx="495.8" cy="122.9" r="1.1"/><circle cx="465.1" cy="126.6" r="1.1"/><circle cx="524.8" cy="130.0" r="1.1"/><circle cx="506.4" cy="193.9" r="1.1"/><circle cx="475.4" cy="142.5" r="1.1"/><circle cx="505.4" cy="186.1" r="1.1"/><circle cx="501.6" cy="140.7" r="1.1"/><circle cx="510.5" cy="185.1" r="1.1"/><circle cx="460.5" cy="141.4" r="1.1"/><circle cx="479.0" cy="174.7" r="1.1"/><circle cx="490.6" cy="146.7" r="1.1"/><circle cx="495.8" cy="195.7" r="1.1"/><circle cx="508.4" cy="147.8" r="1.1"/><circle cx="468.0" cy="143.5" r="1.1"/><circle cx="493.5" cy="172.1" r="1.1"/><circle cx="528.4" cy="173.1" r="1.1"/><circle cx="473.6" cy="185.1" r="1.1"/><circle cx="508.4" cy="191.1" r="1.1"/><circle cx="508.4" cy="191.2" r="1.1"/><circle cx="457.3" cy="160.1" r="1.1"/><circle cx="496.1" cy="199.9" r="1.1"/><circle cx="514.7" cy="185.7" r="1.1"/><circle cx="459.0" cy="175.6" r="1.1"/><circle cx="508.7" cy="191.2" r="1.1"/><circle cx="468.6" cy="180.5" r="1.1"/><circle cx="481.3" cy="187.0" r="1.1"/><circle cx="511.0" cy="188.9" r="1.1"/><circle cx="489.1" cy="192.9" r="1.1"/><circle cx="529.2" cy="173.9" r="1.1"/><circle cx="470.3" cy="183.1" r="1.1"/><circle cx="464.2" cy="180.8" r="1.1"/><circle cx="459.3" cy="178.7" r="1.1"/><circle cx="457.8" cy="165.8" r="1.1"/><circle cx="467.8" cy="179.4" r="1.1"/><circle cx="465.9" cy="180.3" r="1.1"/><circle cx="490.3" cy="191.4" r="1.1"/><circle cx="501.9" cy="199.0" r="1.1"/><circle cx="469.6" cy="178.3" r="1.1"/><circle cx="472.9" cy="180.7" r="1.1"/><circle cx="514.3" cy="183.1" r="1.1"/><circle cx="514.6" cy="186.8" r="1.1"/><circle cx="471.2" cy="181.6" r="1.1"/><circle cx="500.0" cy="203.2" r="1.1"/><circle cx="487.5" cy="190.2" r="1.1"/><circle cx="472.8" cy="183.1" r="1.1"/><circle cx="523.9" cy="175.0" r="1.1"/><circle cx="497.8" cy="202.1" r="1.1"/><circle cx="468.7" cy="179.9" r="1.1"/><circle cx="513.7" cy="186.6" r="1.1"/><circle cx="529.7" cy="174.1" r="1.1"/><circle cx="519.5" cy="179.7" r="1.1"/><circle cx="513.8" cy="186.6" r="1.1"/><circle cx="464.8" cy="182.3" r="1.1"/><circle cx="527.3" cy="172.9" r="1.1"/><circle cx="514.6" cy="183.2" r="1.1"/></g>
<g fill="#5a5af8"><circle cx="499.7" cy="205.8" r="1.2"/><circle cx="512.2" cy="193.3" r="1.2"/><circle cx="503.8" cy="206.2" r="1.2"/><circle cx="503.0" cy="207.6" r="1.2"/><circle cx="511.5" cy="191.5" r="1.2"/><circle cx="522.9" cy="183.7" r="1.2"/><circle cx="527.3" cy="177.6" r="1.2"/><circle cx="525.3" cy="181.3" r="1.2"/><circle cx="531.7" cy="173.0" r="1.2"/><circle cx="525.5" cy="182.6" r="1.2"/><circle cx="472.2" cy="187.7" r="1.2"/><circle cx="472.8" cy="186.2" r="1.2"/><circle cx="518.7" cy="184.8" r="1.2"/><circle cx="466.9" cy="189.6" r="1.2"/><circle cx="524.8" cy="178.6" r="1.2"/><circle cx="458.9" cy="180.9" r="1.2"/><circle cx="496.4" cy="203.4" r="1.2"/><circle cx="496.8" cy="203.4" r="1.2"/><circle cx="465.4" cy="188.6" r="1.2"/><circle cx="463.5" cy="183.0" r="1.2"/><circle cx="521.0" cy="184.6" r="1.2"/><circle cx="474.5" cy="189.9" r="1.2"/><circle cx="480.6" cy="188.7" r="1.2"/><circle cx="471.5" cy="186.2" r="1.2"/><circle cx="529.2" cy="177.7" r="1.2"/><circle cx="477.4" cy="187.8" r="1.2"/><circle cx="463.7" cy="186.7" r="1.2"/><circle cx="478.6" cy="190.2" r="1.2"/><circle cx="468.1" cy="190.5" r="1.2"/><circle cx="463.9" cy="185.8" r="1.2"/></g>
<polyline points="460.1,227.3 448.0,38.0 502.3,52.1 542.0,32.8 529.9,221.7 499.4,249.0 460.1,227.3" fill="none" stroke="#111" stroke-width="1"/>
<line x1="502.3" y1="52.1" x2="499.4" y2="249" stroke="#111" stroke-width="1"/>
<polyline points="565.4,38.5 608.5,20.8 661.3,33.2" fill="none" stroke="#111" stroke-width="1"/>
<line x1="608.5" y1="20.8" x2="608.8" y2="202.4" stroke="#111" stroke-width="1"/>
<polygon points="578.3,229.7 619.2,249.0 619.2,246.0 578.1,226.7" fill="rgb(133,42,144)" stroke="rgb(133,42,144)" stroke-width="0.5"/>
<polygon points="619.2,249.0 649.7,221.7 649.9,218.8 619.2,246.0" fill="rgb(133,42,144)" stroke="rgb(133,42,144)" stroke-width="0.5"/>
<polygon points="578.1,226.7 619.2,246.0 619.2,243.0 577.9,223.8" fill="rgb(155,48,143)" stroke="rgb(155,48,143)" stroke-width="0.5"/>
<polygon points="619.2,246.0 649.9,218.8 650.1,215.9 619.2,243.0" fill="rgb(155,48,143)" stroke="rgb(155,48,143)" stroke-width="0.5"/>
<polygon points="577.9,223.8 619.2,243.0 619.3,239.9 577.7,220.8" fill="rgb(169,53,135)" stroke="rgb(169,53,135)" stroke-width="0.5"/>
<polygon points="619.2,243.0 650.1,215.9 650.2,212.9 619.3,239.9" fill="rgb(169,53,135)" stroke="rgb(169,53,135)" stroke-width="0.5"/>
<polygon points="577.7,220.8 619.3,239.9 619.3,236.9 577.5,217.8" fill="rgb(181,57,129)" stroke="rgb(181,57,129)" stroke-width="0.5"/>
<polygon points="619.3,239.9 650.2,212.9 650.4,210.0 619.3,236.9" fill="rgb(181,57,129)" stroke="rgb(181,57,129)" stroke-width="0.5"/>
<polygon points="577.5,217.8 619.3,236.9 619.3,233.9 577.3,214.9" fill="rgb(197,62,120)" stroke="rgb(197,62,120)" stroke-width="0.5"/>
<polygon points="619.3,236.9 650.4,210.0 650.6,207.1 619.3,233.9" fill="rgb(197,62,120)" stroke="rgb(197,62,120)" stroke-width="0.5"/>
<polygon points="577.3,214.9 619.3,233.9 619.3,230.9 577.1,211.9" fill="rgb(214,68,110)" stroke="rgb(214,68,110)" stroke-width="0.5"/>
<polygon points="619.3,233.9 650.6,207.1 650.8,204.2 619.3,230.9" fill="rgb(214,68,110)" stroke="rgb(214,68,110)" stroke-width="0.5"/>
<polygon points="577.1,211.9 619.3,230.9 619.4,227.8 576.9,209.0" fill="rgb(223,76,103)" stroke="rgb(223,76,103)" stroke-width="0.5"/>
<polygon points="619.3,230.9 650.8,204.2 651.0,201.2 619.4,227.8" fill="rgb(223,76,103)" stroke="rgb(223,76,103)" stroke-width="0.5"/>
<polygon points="576.9,209.0 619.4,227.8 619.4,224.8 576.7,206.0" fill="rgb(231,84,96)" stroke="rgb(231,84,96)" stroke-width="0.5"/>
<polygon points="619.4,227.8 651.0,201.2 651.1,198.3 619.4,224.8" fill="rgb(231,84,96)" stroke="rgb(231,84,96)" stroke-width="0.5"/>
<polygon points="576.7,206.0 619.4,224.8 619.4,221.8 576.5,203.0" fill="rgb(234,97,96)" stroke="rgb(234,97,96)" stroke-width="0.5"/>
<polygon points="619.4,224.8 651.1,198.3 651.3,195.4 619.4,221.8" fill="rgb(234,97,96)" stroke="rgb(234,97,96)" stroke-width="0.5"/>
<polygon points="576.5,203.0 619.4,221.8 619.4,218.8 576.3,200.1" fill="rgb(237,111,96)" stroke="rgb(237,111,96)" stroke-width="0.5"/>
<polygon points="619.4,221.8 651.3,195.4 651.5,192.5 619.4,218.8" fill="rgb(237,111,96)" stroke="rgb(237,111,96)" stroke-width="0.5"/>
<polygon points="576.3,200.1 619.4,218.8 619.5,215.8 576.1,197.1" fill="rgb(237,128,101)" stroke="rgb(237,128,101)" stroke-width="0.5"/>
<polygon points="619.4,218.8 651.5,192.5 651.7,189.6 619.5,215.8" fill="rgb(237,128,101)" stroke="rgb(237,128,101)" stroke-width="0.5"/>
<polygon points="576.1,197.1 619.5,215.8 619.5,212.7 575.9,194.1" fill="rgb(236,145,107)" stroke="rgb(236,145,107)" stroke-width="0.5"/>
<polygon points="619.5,215.8 651.7,189.6 651.9,186.6 619.5,212.7" fill="rgb(236,145,107)" stroke="rgb(236,145,107)" stroke-width="0.5"/>
<polygon points="575.9,194.1 619.5,212.7 619.5,209.7 575.7,191.2" fill="rgb(236,163,114)" stroke="rgb(236,163,114)" stroke-width="0.5"/>
<polygon points="619.5,212.7 651.9,186.6 652.0,183.7 619.5,209.7" fill="rgb(236,163,114)" stroke="rgb(236,163,114)" stroke-width="0.5"/>
<polygon points="575.7,191.2 619.5,209.7 619.5,206.7 575.5,188.2" fill="rgb(236,181,128)" stroke="rgb(236,181,128)" stroke-width="0.5"/>
<polygon points="619.5,209.7 652.0,183.7 652.2,180.8 619.5,206.7" fill="rgb(236,181,128)" stroke="rgb(236,181,128)" stroke-width="0.5"/>
<polygon points="575.5,188.2 619.5,206.7 619.6,203.7 575.3,185.2" fill="rgb(236,196,139)" stroke="rgb(236,196,139)" stroke-width="0.5"/>
<polygon points="619.5,206.7 652.2,180.8 652.4,177.9 619.6,203.7" fill="rgb(236,196,139)" stroke="rgb(236,196,139)" stroke-width="0.5"/>
<polygon points="575.3,185.2 619.6,203.7 619.6,200.6 575.1,182.3" fill="rgb(236,209,149)" stroke="rgb(236,209,149)" stroke-width="0.5"/>
<polygon points="619.6,203.7 652.4,177.9 652.6,175.0 619.6,200.6" fill="rgb(236,209,149)" stroke="rgb(236,209,149)" stroke-width="0.5"/>
<polygon points="575.1,182.3 619.6,200.6 619.6,197.6 574.9,179.3" fill="rgb(238,218,155)" stroke="rgb(238,218,155)" stroke-width="0.5"/>
<polygon points="619.6,200.6 652.6,175.0 652.8,172.0 619.6,197.6" fill="rgb(238,218,155)" stroke="rgb(238,218,155)" stroke-width="0.5"/>
<polygon points="574.9,179.3 619.6,197.6 619.6,194.6 574.7,176.4" fill="rgb(240,226,161)" stroke="rgb(240,226,161)" stroke-width="0.5"/>
<polygon points="619.6,197.6 652.8,172.0 652.9,169.1 619.6,194.6" fill="rgb(240,226,161)" stroke="rgb(240,226,161)" stroke-width="0.5"/>
<polygon points="574.7,176.4 619.6,194.6 619.7,191.6 574.5,173.4" fill="rgb(241,234,167)" stroke="rgb(241,234,167)" stroke-width="0.5"/>
<polygon points="619.6,194.6 652.9,169.1 653.1,166.2 619.7,191.6" fill="rgb(241,234,167)" stroke="rgb(241,234,167)" stroke-width="0.5"/>
<polygon points="574.5,173.4 619.7,191.6 619.7,188.6 574.3,170.4" fill="rgb(243,242,173)" stroke="rgb(243,242,173)" stroke-width="0.5"/>
<polygon points="619.7,191.6 653.1,166.2 653.3,163.3 619.7,188.6" fill="rgb(243,242,173)" stroke="rgb(243,242,173)" stroke-width="0.5"/>
<polygon points="574.3,170.4 619.7,188.6 653.3,163.3 608.7,146.1" fill="rgb(244, 247, 176)"/>
<polygon points="578.3,229.7 619.2,249.0 619.7,188.6 574.3,170.4" fill="url(#stl)"/>
<polygon points="619.2,249.0 649.7,221.7 653.3,163.3 619.7,188.6" fill="url(#str)"/>
<clipPath id="cl5"><polygon points="573.5,138.2 579.1,130.1 587.1,125.3 596.8,122.1 604.8,115.7 609.6,113.3 614.4,115.7 619.2,119.7 624.1,120.5 630.5,122.1 636.9,123.7 643.3,123.7 651.4,127.7 655.4,135.0 653.8,146.2 653.0,162.3 651.4,173.5 648.1,179.9 648.1,186.4 641.7,192.8 633.7,196.0 627.3,199.2 622.5,202.4 619.2,205.6 614.4,202.4 608.0,199.2 601.6,194.4 595.1,189.6 587.1,184.7 579.1,179.9 575.1,176.7 574.3,162.3 573.5,146.2"/></clipPath>
<polygon points="573.5,138.2 579.1,130.1 587.1,125.3 596.8,122.1 604.8,115.7 609.6,113.3 614.4,115.7 619.2,119.7 624.1,120.5 630.5,122.1 636.9,123.7 643.3,123.7 651.4,127.7 655.4,135.0 653.8,146.2 653.0,162.3 651.4,173.5 648.1,179.9 648.1,186.4 641.7,192.8 633.7,196.0 627.3,199.2 622.5,202.4 619.2,205.6 614.4,202.4 608.0,199.2 601.6,194.4 595.1,189.6 587.1,184.7 579.1,179.9 575.1,176.7 574.3,162.3 573.5,146.2" fill="url(#bt)" stroke="#5a5af8" stroke-width="2.2" stroke-dasharray="0.1,2.2" stroke-linecap="round" stroke-linejoin="round"/>
<g fill="#22227a" fill-opacity="0.7" filter="url(#bl1)" clip-path="url(#cl5)"><ellipse cx="595.0" cy="135.0" rx="5.0" ry="5.0"/><ellipse cx="632.5" cy="134.0" rx="7.5" ry="6.0"/></g>
<g fill="#efeca2"><circle cx="638.2" cy="194.1" r="1.1"/><circle cx="593.8" cy="180.7" r="1.1"/><circle cx="608.9" cy="165.0" r="1.1"/><circle cx="618.0" cy="166.5" r="1.1"/><circle cx="601.8" cy="187.7" r="1.1"/><circle cx="646.3" cy="149.5" r="1.1"/><circle cx="583.6" cy="159.2" r="1.1"/><circle cx="636.1" cy="161.7" r="1.1"/><circle cx="588.6" cy="178.4" r="1.1"/><circle cx="587.3" cy="168.1" r="1.1"/><circle cx="607.7" cy="147.6" r="1.1"/><circle cx="590.5" cy="159.0" r="1.1"/><circle cx="650.5" cy="169.7" r="1.1"/><circle cx="592.8" cy="160.1" r="1.1"/><circle cx="626.7" cy="140.6" r="1.1"/><circle cx="592.7" cy="132.1" r="1.1"/><circle cx="593.1" cy="147.8" r="1.1"/><circle cx="650.4" cy="163.6" r="1.1"/><circle cx="624.7" cy="145.4" r="1.1"/><circle cx="587.4" cy="165.3" r="1.1"/><circle cx="626.7" cy="132.7" r="1.1"/><circle cx="630.0" cy="146.1" r="1.1"/><circle cx="585.6" cy="126.2" r="1.1"/><circle cx="638.4" cy="163.2" r="1.1"/><circle cx="596.2" cy="139.1" r="1.1"/><circle cx="573.7" cy="141.0" r="1.1"/><circle cx="619.4" cy="196.2" r="1.1"/><circle cx="598.0" cy="159.2" r="1.1"/><circle cx="580.0" cy="176.7" r="1.1"/><circle cx="598.1" cy="148.0" r="1.1"/><circle cx="595.7" cy="188.8" r="1.1"/><circle cx="610.5" cy="123.2" r="1.1"/><circle cx="583.8" cy="176.3" r="1.1"/><circle cx="598.4" cy="154.8" r="1.1"/><circle cx="620.4" cy="148.8" r="1.1"/><circle cx="626.8" cy="143.5" r="1.1"/><circle cx="614.1" cy="146.2" r="1.1"/><circle cx="608.2" cy="126.4" r="1.1"/><circle cx="602.8" cy="123.5" r="1.1"/><circle cx="624.4" cy="151.8" r="1.1"/><circle cx="607.8" cy="196.1" r="1.1"/><circle cx="586.3" cy="162.1" r="1.1"/><circle cx="623.4" cy="171.6" r="1.1"/><circle cx="635.8" cy="146.1" r="1.1"/><circle cx="649.3" cy="174.9" r="1.1"/><circle cx="579.6" cy="169.2" r="1.1"/><circle cx="615.8" cy="199.6" r="1.1"/><circle cx="632.9" cy="175.5" r="1.1"/><circle cx="629.0" cy="178.7" r="1.1"/><circle cx="610.1" cy="158.7" r="1.1"/><circle cx="615.3" cy="152.3" r="1.1"/><circle cx="608.5" cy="165.3" r="1.1"/><circle cx="626.9" cy="149.3" r="1.1"/><circle cx="620.6" cy="135.0" r="1.1"/><circle cx="630.8" cy="181.4" r="1.1"/><circle cx="604.5" cy="153.9" r="1.1"/><circle cx="606.1" cy="161.1" r="1.1"/><circle cx="624.9" cy="182.2" r="1.1"/><circle cx="630.2" cy="150.8" r="1.1"/><circle cx="643.0" cy="188.2" r="1.1"/><circle cx="620.8" cy="129.4" r="1.1"/><circle cx="628.2" cy="143.1" r="1.1"/><circle cx="645.0" cy="160.5" r="1.1"/><circle cx="630.5" cy="130.8" r="1.1"/><circle cx="643.8" cy="148.3" r="1.1"/><circle cx="636.1" cy="191.3" r="1.1"/><circle cx="616.3" cy="201.2" r="1.1"/><circle cx="588.1" cy="179.4" r="1.1"/><circle cx="624.7" cy="196.7" r="1.1"/><circle cx="617.3" cy="203.2" r="1.1"/><circle cx="579.2" cy="179.6" r="1.1"/><circle cx="633.4" cy="195.2" r="1.1"/><circle cx="632.1" cy="195.1" r="1.1"/><circle cx="612.2" cy="197.3" r="1.1"/><circle cx="622.6" cy="202.0" r="1.1"/><circle cx="611.6" cy="200.4" r="1.1"/><circle cx="639.1" cy="189.9" r="1.1"/><circle cx="607.3" cy="194.6" r="1.1"/><circle cx="603.3" cy="190.9" r="1.1"/><circle cx="589.0" cy="180.5" r="1.1"/><circle cx="627.6" cy="198.5" r="1.1"/><circle cx="596.4" cy="186.4" r="1.1"/><circle cx="636.9" cy="191.6" r="1.1"/><circle cx="617.4" cy="201.6" r="1.1"/><circle cx="610.4" cy="195.1" r="1.1"/><circle cx="585.0" cy="181.5" r="1.1"/><circle cx="575.2" cy="173.5" r="1.1"/><circle cx="606.2" cy="192.6" r="1.1"/><circle cx="589.3" cy="184.5" r="1.1"/><circle cx="613.9" cy="198.1" r="1.1"/><circle cx="602.6" cy="193.5" r="1.1"/><circle cx="623.7" cy="199.2" r="1.1"/><circle cx="599.7" cy="188.4" r="1.1"/><circle cx="649.5" cy="173.2" r="1.1"/><circle cx="603.0" cy="195.2" r="1.1"/><circle cx="590.0" cy="183.1" r="1.1"/><circle cx="610.7" cy="199.7" r="1.1"/><circle cx="615.5" cy="201.7" r="1.1"/><circle cx="598.3" cy="191.9" r="1.1"/><circle cx="600.1" cy="190.4" r="1.1"/><circle cx="609.0" cy="198.2" r="1.1"/><circle cx="579.7" cy="179.3" r="1.1"/><circle cx="618.6" cy="201.8" r="1.1"/><circle cx="630.9" cy="196.8" r="1.1"/><circle cx="626.7" cy="196.2" r="1.1"/></g>
<g fill="#5a5af8"><circle cx="583.6" cy="187.0" r="1.2"/><circle cx="589.9" cy="186.8" r="1.2"/><circle cx="597.0" cy="192.7" r="1.2"/><circle cx="647.6" cy="187.0" r="1.2"/><circle cx="633.0" cy="196.5" r="1.2"/><circle cx="641.6" cy="194.3" r="1.2"/><circle cx="608.4" cy="199.6" r="1.2"/><circle cx="584.6" cy="187.3" r="1.2"/><circle cx="593.1" cy="190.0" r="1.2"/><circle cx="583.7" cy="186.0" r="1.2"/><circle cx="600.3" cy="196.4" r="1.2"/><circle cx="633.7" cy="198.6" r="1.2"/><circle cx="623.0" cy="206.4" r="1.2"/><circle cx="612.9" cy="202.1" r="1.2"/><circle cx="611.9" cy="201.6" r="1.2"/><circle cx="595.7" cy="191.7" r="1.2"/><circle cx="624.2" cy="204.5" r="1.2"/><circle cx="593.6" cy="193.0" r="1.2"/><circle cx="623.2" cy="207.2" r="1.2"/><circle cx="646.3" cy="191.2" r="1.2"/><circle cx="614.1" cy="203.3" r="1.2"/><circle cx="646.8" cy="188.1" r="1.2"/><circle cx="589.1" cy="186.9" r="1.2"/><circle cx="639.0" cy="197.8" r="1.2"/><circle cx="600.7" cy="195.4" r="1.2"/><circle cx="618.2" cy="206.2" r="1.2"/><circle cx="626.4" cy="201.5" r="1.2"/><circle cx="627.1" cy="202.9" r="1.2"/><circle cx="613.1" cy="202.6" r="1.2"/><circle cx="634.8" cy="197.1" r="1.2"/></g>
<polyline points="578.3,229.7 565.4,38.5 620.8,54.0 661.3,33.2 649.7,221.7 619.2,249.0 578.3,229.7" fill="none" stroke="#111" stroke-width="1"/>
<line x1="620.8" y1="54" x2="619.2" y2="249" stroke="#111" stroke-width="1"/>
<text x="2.6" y="16.7" class="r" style="font-size:23.4px">(a)</text>
<text x="32.5" y="15.9" class="bl" style="font-size:19px">5 eV</text>
<text x="135.3" y="17.1" class="bl" style="font-size:19px">10 eV</text>
<text x="243.4" y="16.2" class="bl" style="font-size:19px">20 eV</text>
<text x="356.5" y="15.2" class="bl" style="font-size:19px">50 eV</text>
<text x="477" y="14.6" class="bl" style="font-size:19px">80 eV</text>
<text x="590.1" y="14.6" class="bl" style="font-size:19px">100 eV</text>
<defs><linearGradient id="cb" x1="0" y1="1" x2="0" y2="0"><stop offset="0" stop-color="rgb(122, 40, 144)"/><stop offset="0.15" stop-color="rgb(160, 50, 140)"/><stop offset="0.3" stop-color="rgb(200, 63, 119)"/><stop offset="0.45" stop-color="rgb(232, 85, 96)"/><stop offset="0.6" stop-color="rgb(237, 127, 101)"/><stop offset="0.72" stop-color="rgb(236, 166, 116)"/><stop offset="0.85" stop-color="rgb(236, 205, 146)"/><stop offset="1.0" stop-color="rgb(244, 247, 176)"/></linearGradient></defs>
<rect x="670" y="182.7" width="10.3" height="53.2" fill="url(#cb)"/>
<text x="675.2" y="181.4" class="r" text-anchor="middle" style="font-size:18px">50</text>
<text x="675.4" y="253.6" class="r" text-anchor="middle" style="font-size:18px">0</text>
<polygon points="36.7,376.0 159.1,264.4 159.1,332.1 36.7,474.6" fill="#ecfdfc"/>
<rect x="159.1" y="264.4" width="136.7" height="67.7" fill="#f8fcdf"/>
<polygon points="36.7,474.6 236.0,474.6 295.8,332.1 159.1,332.1" fill="#f5f5f5"/>
<line x1="186.4" y1="264.4" x2="186.4" y2="332.1" stroke="#d0d0c8" stroke-width="0.8"/>
<line x1="213.8" y1="264.4" x2="213.8" y2="332.1" stroke="#d0d0c8" stroke-width="0.8"/>
<line x1="241.1" y1="264.4" x2="241.1" y2="332.1" stroke="#d0d0c8" stroke-width="0.8"/>
<line x1="268.5" y1="264.4" x2="268.5" y2="332.1" stroke="#d0d0c8" stroke-width="0.8"/>
<line x1="159.1" y1="305.2" x2="295.8" y2="305.2" stroke="#d0d0c8" stroke-width="0.8"/>
<line x1="159.1" y1="278.3" x2="295.8" y2="278.3" stroke="#d0d0c8" stroke-width="0.8"/>
<line x1="151.6" y1="271.8" x2="151.6" y2="340.8" stroke="#cfd8d8" stroke-width="0.8"/>
<line x1="136.6" y1="285.5" x2="136.6" y2="358.3" stroke="#cfd8d8" stroke-width="0.8"/>
<line x1="118.6" y1="301.9" x2="118.6" y2="379.3" stroke="#cfd8d8" stroke-width="0.8"/>
<line x1="99.0" y1="319.8" x2="99.0" y2="402.1" stroke="#cfd8d8" stroke-width="0.8"/>
<line x1="76.7" y1="340.1" x2="76.7" y2="428.0" stroke="#cfd8d8" stroke-width="0.8"/>
<line x1="51.2" y1="363.4" x2="51.2" y2="457.7" stroke="#cfd8d8" stroke-width="0.8"/>
<line x1="36.7" y1="435.2" x2="159.1" y2="305.2" stroke="#cfd8d8" stroke-width="0.8"/>
<line x1="36.7" y1="395.7" x2="159.1" y2="278.3" stroke="#cfd8d8" stroke-width="0.8"/>
<line x1="75.7" y1="474.6" x2="186.4" y2="332.1" stroke="#a8a8a8" stroke-width="0.6"/>
<line x1="115.6" y1="474.6" x2="213.8" y2="332.1" stroke="#a8a8a8" stroke-width="0.6"/>
<line x1="155.5" y1="474.6" x2="241.1" y2="332.1" stroke="#a8a8a8" stroke-width="0.6"/>
<line x1="195.4" y1="474.6" x2="268.5" y2="332.1" stroke="#a8a8a8" stroke-width="0.6"/>
<line x1="151.6" y1="340.8" x2="292.1" y2="340.8" stroke="#c8c8c8" stroke-width="0.7"/>
<line x1="136.6" y1="358.3" x2="284.8" y2="358.3" stroke="#c8c8c8" stroke-width="0.7"/>
<line x1="118.6" y1="379.3" x2="276.0" y2="379.3" stroke="#c8c8c8" stroke-width="0.7"/>
<line x1="99.0" y1="402.1" x2="266.4" y2="402.1" stroke="#c8c8c8" stroke-width="0.7"/>
<line x1="76.7" y1="428.0" x2="255.6" y2="428.0" stroke="#c8c8c8" stroke-width="0.7"/>
<line x1="51.2" y1="457.7" x2="243.1" y2="457.7" stroke="#c8c8c8" stroke-width="0.7"/>
<polygon points="170.5,340.8 171.5,310.8 172.2,280.2 173.0,310.8 174.5,334.8 176.0,336.8 177.2,333.8 178.5,337.3 181.0,335.8 183.0,325.8 184.5,310.8 185.5,305.5 187.0,314.8 189.0,322.8 191.9,325.9 195.0,326.8 198.0,326.3 200.0,325.6 202.0,323.8 203.7,322.5 205.4,321.4 208.0,324.8 210.0,326.0 213.0,324.8 215.6,323.2 217.3,324.5 219.0,325.3 221.0,325.3 223.0,325.4 225.0,325.8 226.7,326.6 228.3,326.6 230.0,324.9 231.7,325.9 233.3,325.9 235.0,325.3 236.7,324.4 238.3,325.5 240.0,324.9 241.7,325.7 243.3,325.4 245.0,325.8 246.7,326.4 248.3,325.4 250.0,324.8 251.7,325.4 253.3,324.9 255.0,325.3 256.7,325.0 258.3,326.3 260.0,325.0 261.7,325.5 263.3,326.1 265.0,325.8 266.7,326.7 268.3,324.9 270.0,325.6 271.7,325.0 273.3,324.6 275.0,325.3 276.7,325.0 278.3,324.6 280.0,325.8 281.7,325.0 283.3,325.8 285.0,325.8 286.6,324.9 288.2,325.0 289.8,326.6 291.4,326.5 293.0,325.8 293.0,340.8 170.5,340.8" fill="#6fae58"/>
<polyline points="170.5,340.8 171.5,310.8 172.2,280.2 173.0,310.8 174.5,334.8 176.0,336.8 177.2,333.8 178.5,337.3 181.0,335.8 183.0,325.8 184.5,310.8 185.5,305.5 187.0,314.8 189.0,322.8 191.9,325.9 195.0,326.8 198.0,326.3 200.0,325.6 202.0,323.8 203.7,322.5 205.4,321.4 208.0,324.8 210.0,326.0 213.0,324.8 215.6,323.2 217.3,324.5 219.0,325.3 221.0,325.3 223.0,325.4 225.0,325.8 226.7,326.6 228.3,326.6 230.0,324.9 231.7,325.9 233.3,325.9 235.0,325.3 236.7,324.4 238.3,325.5 240.0,324.9 241.7,325.7 243.3,325.4 245.0,325.8 246.7,326.4 248.3,325.4 250.0,324.8 251.7,325.4 253.3,324.9 255.0,325.3 256.7,325.0 258.3,326.3 260.0,325.0 261.7,325.5 263.3,326.1 265.0,325.8 266.7,326.7 268.3,324.9 270.0,325.6 271.7,325.0 273.3,324.6 275.0,325.3 276.7,325.0 278.3,324.6 280.0,325.8 281.7,325.0 283.3,325.8 285.0,325.8 286.6,324.9 288.2,325.0 289.8,326.6 291.4,326.5 293.0,325.8" fill="none" stroke="#3f6a35" stroke-width="0.8" stroke-dasharray="2,1.3"/>
<line x1="159.1" y1="332.1" x2="300" y2="332.1" stroke="#222" stroke-width="1.2"/>
<polygon points="155.5,358.3 156.5,328.3 157.3,297.9 158.2,328.3 159.5,350.3 160.8,354.8 163.0,355.3 165.0,354.3 167.0,353.3 169.0,350.3 171.0,346.3 172.5,342.3 174.5,343.3 176.6,342.6 179.0,345.3 181.8,346.0 185.0,344.3 188.0,342.3 191.0,339.3 194.1,337.3 197.0,341.3 199.1,342.5 201.1,342.6 203.1,343.2 205.0,342.3 206.7,342.3 208.3,342.7 210.0,341.8 211.7,342.8 213.3,342.3 215.0,341.5 216.7,341.9 218.3,342.1 220.0,342.8 221.7,343.2 223.3,342.4 225.0,342.7 226.7,342.8 228.3,342.8 230.0,341.8 231.7,342.5 233.3,341.1 235.0,341.4 236.7,341.5 238.3,341.6 240.0,342.3 241.7,342.8 243.3,342.5 245.0,341.8 246.7,341.5 248.3,341.2 250.0,341.8 251.7,341.1 253.3,342.8 255.0,341.8 256.7,341.8 258.3,342.2 260.0,342.3 261.7,342.9 263.3,342.2 265.0,342.9 266.7,341.1 268.3,341.2 270.0,341.8 271.7,341.8 273.4,342.3 275.1,341.1 276.8,341.9 278.4,341.3 280.1,341.4 281.8,342.2 283.5,342.4 285.2,342.3 285.2,358.3 155.5,358.3" fill="#a8d38b"/>
<polyline points="155.5,358.3 156.5,328.3 157.3,297.9 158.2,328.3 159.5,350.3 160.8,354.8 163.0,355.3 165.0,354.3 167.0,353.3 169.0,350.3 171.0,346.3 172.5,342.3 174.5,343.3 176.6,342.6 179.0,345.3 181.8,346.0 185.0,344.3 188.0,342.3 191.0,339.3 194.1,337.3 197.0,341.3 199.1,342.5 201.1,342.6 203.1,343.2 205.0,342.3 206.7,342.3 208.3,342.7 210.0,341.8 211.7,342.8 213.3,342.3 215.0,341.5 216.7,341.9 218.3,342.1 220.0,342.8 221.7,343.2 223.3,342.4 225.0,342.7 226.7,342.8 228.3,342.8 230.0,341.8 231.7,342.5 233.3,341.1 235.0,341.4 236.7,341.5 238.3,341.6 240.0,342.3 241.7,342.8 243.3,342.5 245.0,341.8 246.7,341.5 248.3,341.2 250.0,341.8 251.7,341.1 253.3,342.8 255.0,341.8 256.7,341.8 258.3,342.2 260.0,342.3 261.7,342.9 263.3,342.2 265.0,342.9 266.7,341.1 268.3,341.2 270.0,341.8 271.7,341.8 273.4,342.3 275.1,341.1 276.8,341.9 278.4,341.3 280.1,341.4 281.8,342.2 283.5,342.4 285.2,342.3" fill="none" stroke="#4a5a4a" stroke-width="0.8" stroke-dasharray="2.2,1.5"/>
<polygon points="138.9,379.3 140.2,349.3 141.5,319.8 143.0,349.3 144.5,367.3 146.8,376.7 149.0,376.3 151.0,373.3 153.0,364.3 154.8,351.3 156.4,339.9 158.0,349.3 160.0,359.3 161.7,365.3 164.0,367.3 166.0,366.3 167.8,366.4 169.6,367.0 171.3,365.7 173.0,365.3 176.0,361.3 179.2,359.2 181.5,362.3 184.5,365.3 186.2,363.2 188.0,362.3 189.8,360.8 191.5,361.0 194.0,364.3 195.8,364.4 197.6,365.5 199.8,364.3 202.0,364.8 203.6,365.5 205.2,364.5 206.8,363.3 208.4,363.7 210.0,363.8 211.7,363.1 213.3,364.7 215.0,364.1 216.7,364.6 218.3,364.1 220.0,364.3 221.7,364.0 223.3,364.9 225.0,364.4 226.7,364.1 228.3,362.6 230.0,363.3 231.7,362.9 233.3,364.1 235.0,363.0 236.7,364.4 238.3,363.5 240.0,363.8 241.7,364.5 243.3,364.6 245.0,362.8 246.7,364.0 248.3,364.0 250.0,363.3 251.7,362.4 253.3,362.7 255.0,364.0 256.7,362.7 258.3,363.6 260.0,363.8 261.7,363.4 263.3,364.2 265.0,362.7 266.7,363.1 268.3,362.5 270.0,363.3 271.6,362.6 273.2,364.0 274.9,364.0 276.5,363.8 276.5,379.3 138.9,379.3" fill="#c8a2ee"/>
<polyline points="138.9,379.3 140.2,349.3 141.5,319.8 143.0,349.3 144.5,367.3 146.8,376.7 149.0,376.3 151.0,373.3 153.0,364.3 154.8,351.3 156.4,339.9 158.0,349.3 160.0,359.3 161.7,365.3 164.0,367.3 166.0,366.3 167.8,366.4 169.6,367.0 171.3,365.7 173.0,365.3 176.0,361.3 179.2,359.2 181.5,362.3 184.5,365.3 186.2,363.2 188.0,362.3 189.8,360.8 191.5,361.0 194.0,364.3 195.8,364.4 197.6,365.5 199.8,364.3 202.0,364.8 203.6,365.5 205.2,364.5 206.8,363.3 208.4,363.7 210.0,363.8 211.7,363.1 213.3,364.7 215.0,364.1 216.7,364.6 218.3,364.1 220.0,364.3 221.7,364.0 223.3,364.9 225.0,364.4 226.7,364.1 228.3,362.6 230.0,363.3 231.7,362.9 233.3,364.1 235.0,363.0 236.7,364.4 238.3,363.5 240.0,363.8 241.7,364.5 243.3,364.6 245.0,362.8 246.7,364.0 248.3,364.0 250.0,363.3 251.7,362.4 253.3,362.7 255.0,364.0 256.7,362.7 258.3,363.6 260.0,363.8 261.7,363.4 263.3,364.2 265.0,362.7 266.7,363.1 268.3,362.5 270.0,363.3 271.6,362.6 273.2,364.0 274.9,364.0 276.5,363.8" fill="none" stroke="#3a3040" stroke-width="0.8" stroke-dasharray="3,1.6"/>
<polygon points="119.6,402.1 121.0,372.1 122.3,328.2 123.6,372.1 125.8,399.1 127.0,400.6 129.7,400.8 132.0,400.6 135.0,397.1 136.5,382.1 138.0,365.3 139.5,380.1 141.5,390.1 144.0,394.1 145.8,394.0 147.7,395.1 149.8,394.2 152.0,394.6 154.0,393.9 156.0,393.1 158.0,391.1 160.0,388.1 162.9,383.7 166.0,390.1 168.0,392.1 170.0,392.1 171.9,390.6 173.8,389.8 175.7,388.5 177.3,389.5 179.0,391.6 181.0,392.0 183.0,391.4 185.0,392.1 186.8,392.4 188.5,391.2 190.2,391.3 192.0,391.6 193.6,391.4 195.2,390.7 196.9,390.0 198.5,390.0 200.3,391.3 202.2,391.3 204.0,392.1 205.9,390.5 207.8,390.5 209.7,388.4 211.6,388.0 213.8,389.4 216.0,391.6 217.8,390.9 219.6,391.9 221.4,392.4 223.2,391.0 225.0,391.6 226.7,390.9 228.3,391.5 230.0,392.2 231.7,391.9 233.3,390.9 235.0,391.1 236.7,391.6 238.3,390.4 240.0,391.2 241.7,392.0 243.3,391.2 245.0,391.6 246.7,391.8 248.3,390.6 250.0,390.5 251.7,391.2 253.3,390.9 255.0,391.1 256.7,390.8 258.4,390.6 260.1,390.4 261.9,392.3 263.6,391.7 265.3,391.3 267.0,391.6 267.0,402.1 119.6,402.1" fill="#d7d7d7"/>
<polyline points="119.6,402.1 121.0,372.1 122.3,328.2 123.6,372.1 125.8,399.1 127.0,400.6 129.7,400.8 132.0,400.6 135.0,397.1 136.5,382.1 138.0,365.3 139.5,380.1 141.5,390.1 144.0,394.1 145.8,394.0 147.7,395.1 149.8,394.2 152.0,394.6 154.0,393.9 156.0,393.1 158.0,391.1 160.0,388.1 162.9,383.7 166.0,390.1 168.0,392.1 170.0,392.1 171.9,390.6 173.8,389.8 175.7,388.5 177.3,389.5 179.0,391.6 181.0,392.0 183.0,391.4 185.0,392.1 186.8,392.4 188.5,391.2 190.2,391.3 192.0,391.6 193.6,391.4 195.2,390.7 196.9,390.0 198.5,390.0 200.3,391.3 202.2,391.3 204.0,392.1 205.9,390.5 207.8,390.5 209.7,388.4 211.6,388.0 213.8,389.4 216.0,391.6 217.8,390.9 219.6,391.9 221.4,392.4 223.2,391.0 225.0,391.6 226.7,390.9 228.3,391.5 230.0,392.2 231.7,391.9 233.3,390.9 235.0,391.1 236.7,391.6 238.3,390.4 240.0,391.2 241.7,392.0 243.3,391.2 245.0,391.6 246.7,391.8 248.3,390.6 250.0,390.5 251.7,391.2 253.3,390.9 255.0,391.1 256.7,390.8 258.4,390.6 260.1,390.4 261.9,392.3 263.6,391.7 265.3,391.3 267.0,391.6" fill="none" stroke="#707070" stroke-width="0.8" stroke-dasharray="1.2,1.2"/>
<polygon points="99.6,428.0 100.8,388.0 101.5,333.6 102.5,388.0 103.5,423.0 104.0,428.0 107.0,428.0 109.2,426.0 111.0,428.0 114.5,428.0 116.0,416.0 117.5,398.0 118.6,390.5 120.0,403.0 122.3,419.3 124.2,420.8 126.0,421.5 127.7,422.6 129.4,422.1 131.1,422.8 133.1,423.3 135.0,422.0 136.7,420.6 138.3,419.6 140.0,418.0 141.7,416.7 143.4,413.6 145.1,411.4 148.0,418.0 151.2,421.0 154.0,419.0 155.7,418.3 157.4,415.8 159.1,414.0 162.0,418.0 164.0,419.4 166.0,419.0 168.0,419.8 170.0,419.2 172.0,419.0 174.0,418.6 176.0,419.5 177.8,419.6 179.7,418.8 181.6,417.4 183.4,417.0 185.7,417.1 188.0,419.0 189.7,418.3 191.3,418.2 193.0,416.5 194.6,417.9 196.3,416.5 198.7,417.0 201.0,419.0 202.8,419.4 204.6,419.7 206.4,419.8 208.2,419.4 210.0,419.0 211.8,418.3 213.6,419.5 215.4,418.6 217.2,418.4 219.0,418.8 220.8,418.5 222.6,418.5 224.5,419.6 226.3,419.7 228.2,419.5 230.0,419.0 231.7,418.6 233.3,419.0 235.0,419.1 236.7,418.5 238.3,418.7 240.0,418.5 241.7,419.0 243.3,418.1 245.0,418.4 246.7,419.3 248.3,418.8 250.0,419.0 252.0,418.9 254.0,418.2 256.0,419.0 256.0,428.0 99.6,428.0" fill="#eeaa60"/>
<polyline points="99.6,428.0 100.8,388.0 101.5,333.6 102.5,388.0 103.5,423.0 104.0,428.0 107.0,428.0 109.2,426.0 111.0,428.0 114.5,428.0 116.0,416.0 117.5,398.0 118.6,390.5 120.0,403.0 122.3,419.3 124.2,420.8 126.0,421.5 127.7,422.6 129.4,422.1 131.1,422.8 133.1,423.3 135.0,422.0 136.7,420.6 138.3,419.6 140.0,418.0 141.7,416.7 143.4,413.6 145.1,411.4 148.0,418.0 151.2,421.0 154.0,419.0 155.7,418.3 157.4,415.8 159.1,414.0 162.0,418.0 164.0,419.4 166.0,419.0 168.0,419.8 170.0,419.2 172.0,419.0 174.0,418.6 176.0,419.5 177.8,419.6 179.7,418.8 181.6,417.4 183.4,417.0 185.7,417.1 188.0,419.0 189.7,418.3 191.3,418.2 193.0,416.5 194.6,417.9 196.3,416.5 198.7,417.0 201.0,419.0 202.8,419.4 204.6,419.7 206.4,419.8 208.2,419.4 210.0,419.0 211.8,418.3 213.6,419.5 215.4,418.6 217.2,418.4 219.0,418.8 220.8,418.5 222.6,418.5 224.5,419.6 226.3,419.7 228.2,419.5 230.0,419.0 231.7,418.6 233.3,419.0 235.0,419.1 236.7,418.5 238.3,418.7 240.0,418.5 241.7,419.0 243.3,418.1 245.0,418.4 246.7,419.3 248.3,418.8 250.0,419.0 252.0,418.9 254.0,418.2 256.0,419.0" fill="none" stroke="#8a6030" stroke-width="0.8" stroke-dasharray="1.5,1.2"/>
<polygon points="74.2,457.7 76.0,417.7 77.0,350.7 78.2,417.7 80.5,454.7 81.2,457.7 84.0,457.7 85.9,455.2 87.5,457.7 92.2,457.7 93.5,442.7 95.7,415.7 97.3,432.7 99.0,445.7 100.4,449.0 103.1,451.0 106.0,451.7 108.0,452.4 110.0,452.0 113.0,450.7 115.0,446.9 117.1,445.0 120.0,441.7 122.5,438.7 124.6,436.2 126.5,442.7 129.3,450.5 132.0,450.2 134.6,448.5 136.2,446.6 137.9,443.2 140.0,447.7 141.7,448.4 143.4,450.0 145.1,451.5 146.9,451.8 148.6,452.0 150.3,450.4 152.0,450.7 153.8,450.4 155.6,449.0 157.8,449.6 160.0,450.7 161.7,448.9 163.5,447.1 165.2,445.2 168.0,449.7 170.0,450.2 172.0,450.7 173.9,449.9 175.8,447.3 177.6,447.4 179.5,445.2 181.2,448.0 183.0,449.7 184.8,450.9 186.5,450.7 188.2,450.6 190.0,450.7 191.8,449.8 193.5,450.7 195.2,451.1 197.0,450.2 198.6,450.0 200.3,447.8 201.9,449.0 203.5,447.2 205.2,446.9 206.8,446.0 208.9,447.5 211.0,449.7 213.1,449.5 215.2,448.2 217.3,448.0 219.7,449.1 222.0,450.2 223.6,449.8 225.2,449.2 226.8,449.7 228.4,450.5 230.0,449.7 231.8,450.4 233.6,448.5 235.4,449.2 237.2,449.0 239.0,449.8 240.7,448.6 242.5,449.7 242.5,457.7 74.2,457.7" fill="#b8895a"/>
<polyline points="74.2,457.7 76.0,417.7 77.0,350.7 78.2,417.7 80.5,454.7 81.2,457.7 84.0,457.7 85.9,455.2 87.5,457.7 92.2,457.7 93.5,442.7 95.7,415.7 97.3,432.7 99.0,445.7 100.4,449.0 103.1,451.0 106.0,451.7 108.0,452.4 110.0,452.0 113.0,450.7 115.0,446.9 117.1,445.0 120.0,441.7 122.5,438.7 124.6,436.2 126.5,442.7 129.3,450.5 132.0,450.2 134.6,448.5 136.2,446.6 137.9,443.2 140.0,447.7 141.7,448.4 143.4,450.0 145.1,451.5 146.9,451.8 148.6,452.0 150.3,450.4 152.0,450.7 153.8,450.4 155.6,449.0 157.8,449.6 160.0,450.7 161.7,448.9 163.5,447.1 165.2,445.2 168.0,449.7 170.0,450.2 172.0,450.7 173.9,449.9 175.8,447.3 177.6,447.4 179.5,445.2 181.2,448.0 183.0,449.7 184.8,450.9 186.5,450.7 188.2,450.6 190.0,450.7 191.8,449.8 193.5,450.7 195.2,451.1 197.0,450.2 198.6,450.0 200.3,447.8 201.9,449.0 203.5,447.2 205.2,446.9 206.8,446.0 208.9,447.5 211.0,449.7 213.1,449.5 215.2,448.2 217.3,448.0 219.7,449.1 222.0,450.2 223.6,449.8 225.2,449.2 226.8,449.7 228.4,450.5 230.0,449.7 231.8,450.4 233.6,448.5 235.4,449.2 237.2,449.0 239.0,449.8 240.7,448.6 242.5,449.7" fill="none" stroke="#5d4025" stroke-width="0.8" stroke-dasharray="1.5,1.2"/>
<polyline points="36.7,474.6 36.7,376.0 159.1,264.4 295.8,264.4 295.8,332.1" fill="none" stroke="#222" stroke-width="1.2"/>
<line x1="159.1" y1="264.4" x2="159.1" y2="332.1" stroke="#222" stroke-width="1.2"/>
<line x1="36.7" y1="474.6" x2="159.1" y2="332.1" stroke="#222" stroke-width="1.1"/>
<line x1="36.7" y1="474.6" x2="242" y2="474.6" stroke="#333" stroke-width="1.3"/>
<line x1="235.2" y1="474.6" x2="296.3" y2="331.9" stroke="#222" stroke-width="1.2"/>
<line x1="55.8" y1="474.6" x2="55.8" y2="469.5" stroke="#333" stroke-width="1"/>
<line x1="75.7" y1="474.6" x2="75.7" y2="469.5" stroke="#333" stroke-width="1"/>
<line x1="95.6" y1="474.6" x2="95.6" y2="469.5" stroke="#333" stroke-width="1"/>
<line x1="115.6" y1="474.6" x2="115.6" y2="469.5" stroke="#333" stroke-width="1"/>
<line x1="135.6" y1="474.6" x2="135.6" y2="469.5" stroke="#333" stroke-width="1"/>
<line x1="155.5" y1="474.6" x2="155.5" y2="469.5" stroke="#333" stroke-width="1"/>
<line x1="175.4" y1="474.6" x2="175.4" y2="469.5" stroke="#333" stroke-width="1"/>
<line x1="195.4" y1="474.6" x2="195.4" y2="469.5" stroke="#333" stroke-width="1"/>
<line x1="215.3" y1="474.6" x2="215.3" y2="469.5" stroke="#333" stroke-width="1"/>
<text x="75.7" y="491.5" class="r" text-anchor="middle" style="font-size:17px">2</text>
<text x="115.6" y="491.5" class="r" text-anchor="middle" style="font-size:17px">4</text>
<text x="155.5" y="491.5" class="r" text-anchor="middle" style="font-size:17px">6</text>
<text x="195.4" y="491.5" class="r" text-anchor="middle" style="font-size:17px">8</text>
<line x1="31" y1="474.6" x2="36.7" y2="474.6" stroke="#333" stroke-width="1"/>
<line x1="31" y1="454.9" x2="36.7" y2="454.9" stroke="#333" stroke-width="1"/>
<line x1="31" y1="435.2" x2="36.7" y2="435.2" stroke="#333" stroke-width="1"/>
<line x1="31" y1="415.4" x2="36.7" y2="415.4" stroke="#333" stroke-width="1"/>
<line x1="31" y1="395.7" x2="36.7" y2="395.7" stroke="#333" stroke-width="1"/>
<line x1="31" y1="376.0" x2="36.7" y2="376.0" stroke="#333" stroke-width="1"/>
<text x="28.5" y="480.6" class="r" text-anchor="end" style="font-size:17px">0</text>
<text x="28.5" y="441.2" class="r" text-anchor="end" style="font-size:17px">4</text>
<text x="28.5" y="401.7" class="r" text-anchor="end" style="font-size:17px">8</text>
<text transform="translate(13.5,424.4) rotate(-90)" class="r" text-anchor="middle" style="font-size:17px"><tspan font-style="italic">g</tspan>(<tspan font-style="italic">r</tspan>)</text>
<text x="138" y="509" class="r" text-anchor="middle" style="font-size:17px"><tspan font-style="italic">r</tspan> (Å)</text>
<line x1="242.1" y1="458.4" x2="247.6" y2="458.4" stroke="#333" stroke-width="1"/>
<text x="251.0" y="463.8" class="r" style="font-size:16px">5eV</text>
<line x1="255.2" y1="428.0" x2="260.7" y2="428.0" stroke="#333" stroke-width="1"/>
<text x="262.3" y="434.0" class="r" style="font-size:15.2px">10eV</text>
<line x1="266.1" y1="402.4" x2="271.6" y2="402.4" stroke="#333" stroke-width="1"/>
<text x="273.1" y="407.1" class="r" style="font-size:14.3px">20eV</text>
<line x1="276.1" y1="379.0" x2="281.6" y2="379.0" stroke="#333" stroke-width="1"/>
<text x="283.3" y="384.2" class="r" style="font-size:13.6px">50eV</text>
<line x1="284.5" y1="359.5" x2="290.0" y2="359.5" stroke="#333" stroke-width="1"/>
<text x="291.7" y="363.7" class="r" style="font-size:13px">80eV</text>
<line x1="292.7" y1="340.3" x2="298.2" y2="340.3" stroke="#333" stroke-width="1"/>
<text x="298.4" y="345.1" class="r" style="font-size:12.2px">100eV</text>
<line x1="248.7" y1="443.0" x2="254.2" y2="443.0" stroke="#333" stroke-width="1"/>
<line x1="260.5" y1="415.4" x2="266.0" y2="415.4" stroke="#333" stroke-width="1"/>
<line x1="271.2" y1="390.6" x2="276.7" y2="390.6" stroke="#333" stroke-width="1"/>
<line x1="280.2" y1="369.5" x2="285.7" y2="369.5" stroke="#333" stroke-width="1"/>
<line x1="288.8" y1="349.5" x2="294.3" y2="349.5" stroke="#333" stroke-width="1"/>
<text transform="matrix(0.51,-0.73,1.35,0.06,313.5,412.6)" class="r" style="font-size:10.5px;fill:#222">Energy (eV)</text>
<text x="7.9" y="273.6" class="r" style="font-size:23.4px">(b)</text>
</svg>
</body></html>
